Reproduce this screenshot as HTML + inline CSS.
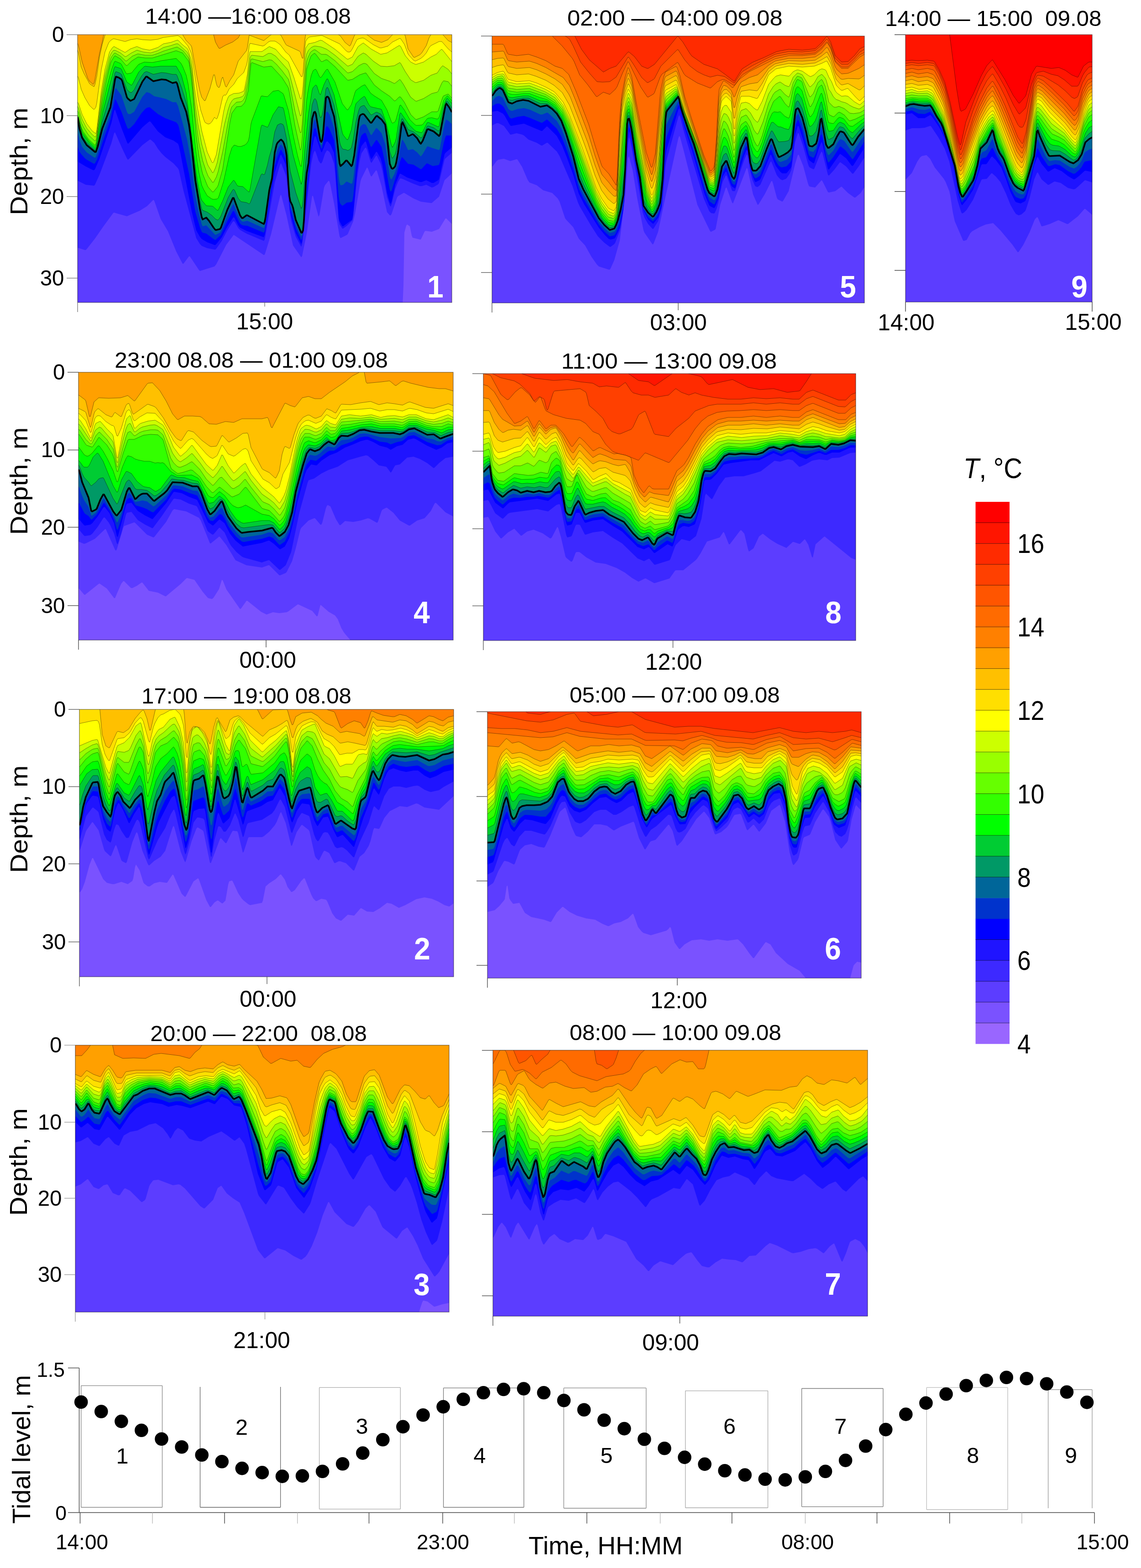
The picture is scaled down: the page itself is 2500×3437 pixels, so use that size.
<!DOCTYPE html><html><head><meta charset="utf-8"><title>Temperature sections</title>
<style>html,body{margin:0;padding:0;background:#fff}svg{display:block}text{font-family:"Liberation Sans", sans-serif;white-space:pre}.c{stroke:#000;stroke-opacity:.45;stroke-width:1}</style></head><body>
<svg width="2500" height="3437" viewBox="0 0 2500 3437">
<rect width="2500" height="3437" fill="#fff"/>
<svg x="170" y="76" width="820" height="587" viewBox="170 76 820 587" overflow="hidden">
<rect x="170.0" y="76.0" width="820.0" height="587.0" fill="#ffa000"/>
<path class="c" d="M164,675 164,95 170,95 172,100 180,136 192,171 196,178 204,185 206,182 208,174 218,117 224,92 228,71 230,68 466,68 472,92 478,103 480,106 482,106 494,99 510,92 522,83 530,68 990,68 996,68 996,675Z" fill="#ffc000"/>
<path class="c" d="M164,675 164,110 170,110 172,116 178,147 184,161 196,183 198,185 206,190 208,185 212,167 218,125 224,97 230,77 236,68 394,68 396,69 408,89 418,99 420,103 432,171 438,200 442,213 448,221 450,220 460,194 468,164 470,164 474,183 476,189 478,191 480,192 482,188 486,172 488,169 494,189 496,191 504,176 512,164 522,134 540,111 542,104 546,77 578,89 594,76 604,73 614,76 616,78 626,97 628,99 656,112 658,114 662,127 664,128 668,86 670,74 676,68 708,68 742,76 746,79 756,93 766,101 768,99 776,79 782,68 784,68 804,76 820,88 836,93 850,87 860,76 876,68 878,69 886,75 888,79 894,107 906,125 908,126 920,120 924,116 934,100 940,83 944,76 960,68 962,68 964,69 982,89 990,93 996,93 996,675Z" fill="#ffdf00"/>
<path class="c" d="M164,675 164,167 170,167 172,171 178,196 186,214 196,231 202,237 206,240 208,238 210,235 212,226 222,152 230,114 238,94 242,89 248,85 250,85 274,91 286,87 300,85 312,87 330,88 346,86 358,82 390,78 396,82 412,101 418,114 420,120 422,131 434,214 440,242 448,266 450,269 456,272 460,271 464,267 470,257 474,261 476,259 480,247 488,212 490,209 492,208 494,209 496,207 502,195 512,185 520,172 534,159 540,143 542,134 546,100 548,95 576,101 580,99 588,92 592,90 602,90 606,92 614,98 626,114 634,121 660,168 662,168 664,159 668,104 670,90 674,84 678,81 702,78 706,78 744,96 758,111 762,114 766,114 768,113 772,107 782,87 786,85 794,83 798,84 818,98 832,105 836,105 850,101 860,92 876,84 878,85 886,97 894,118 896,121 906,132 910,134 922,128 928,123 934,116 940,105 944,100 962,91 968,91 982,107 990,114 996,114 996,675Z" fill="#ffff00"/>
<path class="c" d="M164,675 164,224 170,224 172,227 180,251 190,271 202,287 210,293 212,285 222,199 230,152 240,114 246,105 248,103 250,102 274,115 286,107 300,102 312,107 328,110 346,104 358,96 374,93 388,88 390,88 400,98 410,106 412,109 418,128 420,136 426,190 432,232 442,287 454,333 464,355 466,357 468,355 474,339 490,245 494,228 500,213 502,210 512,205 524,204 534,200 536,194 542,163 546,122 548,113 574,113 590,102 604,108 618,124 632,136 644,170 658,216 660,217 662,208 664,189 668,122 670,105 676,96 690,93 702,88 706,89 734,108 760,129 762,130 772,125 784,103 786,101 796,94 814,108 834,119 848,116 874,100 876,100 878,102 888,122 898,134 900,136 910,141 912,141 928,136 944,125 956,119 966,109 968,108 970,110 990,135 996,135 996,675Z" fill="#ccff00"/>
<path class="c" d="M164,675 164,233 170,233 172,237 180,262 190,281 202,295 208,300 210,300 212,292 222,212 230,165 240,125 244,116 248,111 250,110 254,111 264,116 274,124 276,124 288,116 300,110 314,114 330,116 346,111 358,104 374,100 386,96 390,96 410,114 414,122 420,150 428,231 434,274 442,316 454,358 456,363 466,379 468,377 472,368 476,356 492,272 500,240 504,228 508,221 512,217 518,215 524,214 530,212 534,209 536,204 542,177 548,127 550,122 552,121 576,124 588,117 590,117 594,117 604,123 630,152 632,155 634,161 658,254 660,253 662,240 670,128 672,118 676,110 682,104 688,101 692,101 704,103 716,108 734,121 762,145 772,141 784,124 788,121 796,116 802,119 818,134 834,145 848,146 864,144 876,137 878,139 888,157 898,172 900,175 910,181 912,181 928,176 944,165 958,160 966,148 970,144 982,152 990,162 996,162 996,675Z" fill="#99ff00"/>
<path class="c" d="M164,675 164,243 170,243 172,246 178,268 182,277 192,293 196,298 208,309 210,308 212,299 224,211 232,168 242,130 244,125 250,117 252,116 264,123 276,134 278,133 290,123 302,118 318,121 334,121 346,117 358,112 384,104 388,103 390,104 402,112 410,122 414,129 420,164 428,256 436,314 444,352 452,376 456,386 466,400 468,399 474,388 478,376 488,332 500,266 506,239 508,234 518,224 528,223 530,222 534,218 538,209 544,180 548,141 550,130 552,129 576,135 590,131 596,132 606,141 618,155 630,171 632,174 634,181 646,242 658,291 660,290 662,273 670,151 672,135 674,128 680,115 682,113 688,109 690,109 692,110 704,119 714,119 718,121 734,133 762,160 772,157 786,144 796,139 800,139 804,141 820,161 836,172 854,178 864,183 866,182 876,174 878,176 884,185 898,210 900,213 910,221 912,222 928,216 946,205 958,202 960,200 968,182 970,179 972,177 982,179 990,189 996,189 996,675Z" fill="#66ff00"/>
<path class="c" d="M164,675 164,253 170,253 172,256 178,279 182,288 194,305 208,318 210,315 212,306 224,224 234,172 242,139 244,134 250,124 252,122 264,129 276,143 278,144 288,134 302,125 304,125 318,127 334,127 386,111 400,116 412,132 414,136 416,146 422,198 430,299 436,343 442,373 444,381 454,406 456,410 466,421 468,420 476,410 478,406 488,370 504,267 508,248 518,234 528,233 530,232 536,225 538,220 544,198 550,139 552,137 578,147 594,145 596,146 618,170 630,189 632,193 634,202 646,274 658,329 660,326 662,305 672,151 680,126 682,122 688,117 690,117 692,119 704,135 706,135 714,131 716,131 718,132 734,146 762,176 772,174 788,164 800,160 802,160 820,186 836,199 854,211 864,221 866,221 874,213 876,212 878,213 886,224 900,251 910,261 912,262 928,256 946,245 958,245 960,243 970,213 972,210 982,206 990,215 996,215 996,675Z" fill="#33ff00"/>
<path class="c" d="M164,675 164,254 170,254 172,258 180,289 194,308 208,321 210,319 212,312 224,238 234,191 244,154 250,137 252,134 264,139 266,141 276,160 278,162 288,160 302,143 304,141 316,136 334,137 354,133 386,128 396,138 400,145 408,165 412,183 420,239 428,322 432,354 436,379 442,406 446,415 454,429 464,436 468,437 476,436 478,434 480,429 490,397 502,343 508,324 512,319 514,318 522,321 528,321 536,318 540,315 544,309 546,301 550,271 552,264 572,211 574,210 578,211 586,212 598,200 610,198 620,205 622,209 632,242 642,295 652,341 658,363 660,365 662,351 672,219 676,193 682,165 686,155 690,152 692,152 694,155 700,168 702,170 704,169 714,154 716,152 718,152 734,180 750,227 760,240 762,241 770,229 778,202 780,198 792,189 798,186 800,186 812,204 820,210 836,220 848,241 858,268 860,270 864,268 866,266 868,261 876,231 878,230 886,241 898,262 908,272 912,275 924,274 926,273 936,260 938,259 946,258 958,261 960,260 962,257 964,251 972,220 978,212 980,210 982,211 990,221 996,221 996,675Z" fill="#00ff00"/>
<path class="c" d="M164,675 164,256 170,256 172,260 180,293 194,311 208,325 210,324 212,317 216,300 226,243 250,150 252,146 264,150 266,152 278,180 288,187 290,185 304,158 316,146 318,145 334,147 352,145 384,145 386,145 396,162 398,167 408,204 430,379 434,404 440,434 442,439 452,451 466,452 476,461 478,461 488,440 500,410 510,397 512,395 514,397 520,407 522,408 532,409 544,420 546,421 548,414 572,278 574,274 586,279 588,276 598,252 610,234 620,236 622,241 642,339 660,404 662,397 668,327 676,249 684,197 686,192 692,186 694,188 700,206 702,208 710,185 716,173 718,173 720,177 732,208 750,291 752,296 760,306 762,306 764,302 770,284 778,234 780,227 790,217 798,211 800,213 808,229 812,234 834,239 836,240 846,269 858,320 860,323 866,311 868,304 876,250 878,247 896,273 908,285 912,288 924,291 926,289 936,269 938,268 960,278 962,277 970,238 972,231 978,217 980,215 990,227 996,227 996,675Z" fill="#00cc33"/>
<path class="c" d="M164,675 164,256 170,256 176,284 180,298 188,310 192,314 208,329 210,328 216,307 224,267 242,208 252,160 254,157 262,160 266,163 278,196 284,202 288,203 294,197 302,181 310,167 316,159 320,157 322,157 336,163 354,159 364,160 378,163 386,163 388,166 398,193 408,225 410,235 418,292 430,394 436,430 442,458 444,461 454,465 464,472 472,480 476,482 478,482 480,480 484,474 500,433 510,416 512,415 514,417 522,435 528,442 540,444 546,447 548,445 572,383 574,381 578,383 580,382 586,362 590,344 596,324 602,289 608,274 614,271 616,271 620,273 622,277 628,305 632,348 636,376 648,422 660,457 662,454 664,440 670,354 684,229 688,218 690,216 692,218 694,223 700,252 702,258 704,257 706,252 708,242 714,196 716,192 718,192 720,196 732,231 736,253 744,310 746,318 750,326 752,327 758,328 762,330 766,328 770,324 774,306 780,267 786,242 788,237 790,234 794,232 798,231 812,251 814,252 824,246 826,246 834,250 838,255 844,268 846,276 854,331 858,345 860,347 866,338 868,330 876,277 880,261 882,260 894,284 906,289 922,302 924,302 926,299 936,277 938,276 950,280 960,287 962,287 964,283 972,241 978,222 980,222 982,224 990,237 996,237 996,675Z" fill="#009966"/>
<path d="M164,675 164,257 170,257 174,282 180,302 190,318 202,328 208,333 210,333 214,322 224,282 242,235 252,174 254,168 260,170 266,174 268,178 278,213 280,216 286,221 294,217 312,179 320,168 322,168 336,178 354,174 364,175 378,182 386,180 388,183 390,190 396,214 408,245 414,273 418,301 428,396 438,457 442,476 444,481 452,477 458,484 468,499 472,504 474,504 482,502 484,499 498,460 510,434 512,434 526,472 530,478 532,478 540,472 542,472 578,491 580,486 582,475 590,417 596,391 602,334 606,317 608,313 614,307 616,306 620,310 622,314 626,328 628,341 632,405 634,430 636,441 640,449 642,455 648,482 660,510 662,510 664,505 666,482 670,400 672,379 676,357 684,260 688,246 690,245 692,249 700,298 702,308 704,311 706,307 708,293 714,215 716,212 718,212 720,214 722,219 726,236 732,255 736,282 744,358 746,364 752,359 758,352 760,352 770,364 772,361 776,341 786,264 788,255 790,252 794,250 796,250 798,251 812,269 814,269 824,255 826,254 836,262 844,273 848,300 854,359 858,369 860,370 864,367 866,364 868,357 872,335 880,272 882,268 888,281 894,298 896,298 904,294 906,295 914,303 920,313 922,315 926,309 936,284 938,283 950,288 962,298 964,295 976,231 978,227 984,235 990,246 996,246 996,675Z" fill="#006699"/>
<path d="M164,675 164,290 170,290 174,307 180,322 190,334 206,345 208,346 210,344 216,327 224,298 242,249 252,196 254,193 266,209 278,245 280,249 282,250 286,250 294,245 312,212 320,203 322,202 328,204 338,211 352,214 364,217 378,224 386,224 390,232 410,306 418,352 428,430 434,460 442,492 444,496 452,494 468,511 472,515 482,510 484,507 498,472 510,449 512,448 526,481 530,485 532,486 542,484 578,500 580,496 590,428 596,398 602,348 608,328 614,318 616,317 620,322 622,326 626,339 628,350 634,435 636,449 642,467 648,492 660,518 662,516 664,507 670,417 676,368 682,297 686,273 688,265 690,262 692,266 694,274 700,307 702,315 704,319 706,316 708,304 714,247 716,245 718,245 722,251 732,281 734,296 742,386 744,400 746,406 748,406 752,405 758,399 760,398 770,403 772,401 774,392 786,293 788,282 790,277 794,273 798,272 802,274 812,295 814,296 824,281 826,281 836,292 844,316 854,387 856,392 858,393 864,382 868,371 880,309 882,306 888,316 894,329 904,327 906,328 914,334 922,343 926,338 936,321 938,321 946,324 962,329 964,325 972,282 976,265 978,262 984,266 990,272 996,272 996,675Z" fill="#0033cc"/>
<path d="M164,675 164,322 170,322 174,332 178,338 186,347 190,350 204,358 206,359 208,358 212,351 216,340 224,314 242,262 252,218 254,219 266,245 278,278 280,282 282,282 286,280 294,272 310,248 318,239 322,236 328,235 346,250 362,259 386,268 390,273 392,279 414,380 428,464 438,498 442,508 444,510 452,512 468,524 472,526 484,515 498,485 510,463 512,462 514,465 524,487 528,492 532,494 542,495 578,510 580,506 582,494 602,363 608,344 614,330 616,328 622,339 626,349 628,359 636,457 648,501 660,526 662,522 664,509 670,434 682,316 686,293 688,284 690,280 692,283 700,315 704,326 706,324 714,280 716,277 718,277 722,283 730,302 732,308 734,325 742,431 744,442 746,447 750,451 752,450 760,444 770,443 772,441 774,430 782,350 786,322 790,302 792,297 796,293 800,291 802,293 812,321 814,322 824,307 826,307 836,322 844,358 852,406 854,416 856,420 858,418 870,379 876,356 880,345 882,345 894,359 906,361 922,371 924,370 934,359 936,358 948,364 960,362 962,361 964,355 972,314 976,300 978,297 980,297 990,297 996,297 996,675Z" fill="#0000ff"/>
<path d="M164,675 164,354 170,354 188,365 204,373 206,373 208,371 218,348 244,270 250,243 252,240 266,280 278,311 280,315 282,314 312,279 326,267 328,266 330,267 346,288 362,301 380,308 390,315 392,320 394,329 420,463 430,505 438,519 442,524 454,531 470,537 472,537 474,535 486,520 498,497 510,478 512,476 514,478 522,494 526,499 540,506 578,520 580,515 582,504 600,387 602,377 614,341 616,339 626,360 628,368 634,444 636,465 638,475 648,511 660,535 662,529 664,510 682,334 688,304 690,298 692,300 704,334 706,332 714,312 716,310 718,310 724,317 732,335 734,354 742,477 744,485 750,496 752,496 772,481 774,469 782,379 788,338 790,326 792,320 800,310 802,311 812,346 814,349 824,333 826,333 834,347 838,362 848,423 854,444 856,447 858,442 866,405 876,381 878,381 892,389 920,399 924,399 934,395 946,401 950,401 960,395 962,393 974,338 976,335 990,323 996,323 996,675Z" fill="#1f14ff"/>
<path d="M164,675 164,396 170,396 188,405 206,407 208,405 218,383 244,314 250,292 252,290 268,326 278,347 280,350 282,349 312,318 328,306 330,306 338,313 346,326 354,336 362,344 380,358 390,369 392,373 402,418 430,522 438,535 442,539 454,544 470,547 472,547 474,545 486,528 498,505 510,486 512,485 514,486 522,500 526,504 540,512 578,528 580,525 582,515 602,400 614,360 616,358 626,383 628,391 634,457 638,485 648,519 660,541 662,536 664,520 682,358 686,339 688,333 690,330 692,334 698,352 702,358 704,358 706,355 712,337 716,330 718,330 722,333 726,341 732,359 734,377 742,483 744,492 750,501 752,501 760,495 772,483 774,472 782,394 788,353 792,336 800,324 802,324 804,328 812,355 814,357 824,341 826,342 834,359 838,375 848,432 854,450 856,453 858,448 866,414 872,399 876,392 878,391 884,393 904,402 920,408 924,408 934,405 946,411 950,410 960,404 962,401 974,350 976,347 990,335 996,335 996,675Z" fill="#3d29ff"/>
<path d="M164,675 164,543 170,543 186,548 188,548 190,546 208,523 226,497 248,467 250,466 278,474 306,462 322,452 336,438 338,440 352,480 368,507 386,551 400,578 402,578 414,562 416,562 436,592 438,594 470,584 474,579 496,536 512,515 514,516 578,559 580,558 582,552 594,513 614,429 616,427 628,473 642,538 660,564 662,561 672,512 684,429 686,430 698,475 700,471 710,411 712,406 720,396 722,398 724,406 732,446 744,518 746,522 760,515 762,513 774,485 778,468 790,397 792,391 804,367 806,369 812,385 814,387 824,373 826,375 836,408 848,465 854,472 856,472 858,469 870,433 872,430 884,423 886,423 906,435 922,442 944,445 946,445 962,431 974,395 990,380 996,380 996,675Z" fill="#5c3dff"/>
<path d="M164,675 164,671 170,671 882,671 884,626 886,510 890,495 892,492 898,496 902,516 904,521 920,525 922,525 924,521 930,508 932,506 946,508 962,502 976,479 978,479 990,491 996,491 996,675Z" fill="#7a52ff"/>
<path d="M170,257 174,282 180,302 190,318 202,328 208,333 210,333 214,322 224,282 242,235 252,174 254,168 260,170 266,174 268,178 278,213 280,216 286,221 294,217 312,179 320,168 322,168 336,178 354,174 364,175 378,182 386,180 388,183 390,190 396,214 408,245 414,273 418,301 428,396 438,457 442,476 444,481 452,477 458,484 468,499 472,504 474,504 482,502 484,499 498,460 510,434 512,434 526,472 530,478 532,478 540,472 542,472 578,491 580,486 582,475 590,417 596,391 602,334 606,317 608,313 614,307 616,306 620,310 622,314 626,328 628,341 632,405 634,430 636,441 640,449 642,455 648,482 660,510 662,510 664,505 666,482 670,400 672,379 676,357 684,260 688,246 690,245 692,249 700,298 702,308 704,311 706,307 708,293 714,215 716,212 718,212 720,214 722,219 726,236 732,255 736,282 744,358 746,364 752,359 758,352 760,352 770,364 772,361 776,341 786,264 788,255 790,252 794,250 796,250 798,251 812,269 814,269 824,255 826,254 836,262 844,273 848,300 854,359 858,369 860,370 864,367 866,364 868,357 872,335 880,272 882,268 888,281 894,298 896,298 904,294 906,295 914,303 920,313 922,315 926,309 936,284 938,283 950,288 962,298 964,295 976,231 978,227 984,235 990,246" fill="none" stroke="#000" stroke-width="3.6" stroke-linejoin="round"/>
</svg>
<svg x="1078" y="79" width="816" height="585" viewBox="1078 79 816 585" overflow="hidden">
<rect x="1078.0" y="79.0" width="816.0" height="585.0" fill="#ff2b00"/>
<path class="c" d="M1072,676 1072,71 1078,71 1254,71 1256,72 1274,108 1288,127 1292,132 1322,158 1336,150 1350,145 1376,114 1378,114 1390,124 1406,145 1418,150 1420,150 1434,141 1484,80 1486,80 1496,92 1512,118 1516,123 1542,141 1572,151 1590,164 1608,178 1610,177 1626,151 1650,136 1672,127 1702,113 1728,108 1758,110 1786,107 1800,94 1810,81 1812,80 1814,82 1820,92 1830,122 1844,136 1858,135 1872,122 1884,107 1894,102 1900,102 1900,676Z" fill="#ff4000"/>
<path class="c" d="M1072,676 1072,71 1078,71 1224,71 1234,76 1246,84 1248,86 1256,101 1272,136 1292,161 1308,179 1320,180 1336,179 1350,169 1376,125 1378,126 1388,141 1406,170 1418,181 1420,181 1432,174 1434,172 1448,145 1484,109 1486,109 1500,131 1512,145 1528,157 1542,164 1556,169 1572,165 1584,167 1588,168 1608,182 1610,181 1624,160 1628,156 1650,143 1698,119 1702,118 1728,113 1758,114 1786,111 1800,99 1810,87 1812,86 1814,88 1820,98 1830,128 1844,141 1858,141 1872,128 1884,114 1894,108 1900,108 1900,676Z" fill="#ff5500"/>
<path class="c" d="M1072,676 1072,71 1078,71 1206,71 1212,81 1232,101 1254,128 1258,135 1270,164 1288,186 1306,211 1308,212 1322,202 1336,207 1348,196 1352,190 1364,160 1376,135 1378,137 1404,191 1418,212 1420,213 1432,206 1434,203 1446,170 1450,163 1484,137 1486,138 1498,161 1502,166 1528,182 1556,193 1558,192 1572,179 1584,174 1588,175 1608,187 1610,186 1624,167 1628,163 1670,138 1698,124 1702,123 1728,118 1758,119 1786,116 1800,105 1810,93 1812,92 1814,93 1820,104 1830,134 1844,147 1858,147 1884,120 1894,115 1900,115 1900,676Z" fill="#ff6b00"/>
<path class="c" d="M1072,676 1072,97 1078,97 1102,97 1104,99 1112,117 1114,119 1132,122 1158,119 1176,125 1196,133 1216,145 1232,150 1246,163 1262,200 1290,273 1304,320 1318,362 1320,366 1334,381 1350,406 1352,392 1358,257 1362,211 1370,168 1376,148 1378,150 1384,168 1394,224 1416,334 1426,365 1428,367 1430,363 1436,336 1446,213 1448,196 1454,169 1458,158 1480,146 1482,146 1484,149 1490,167 1500,211 1516,262 1542,340 1556,374 1558,375 1564,367 1566,356 1570,298 1574,212 1576,195 1584,179 1586,177 1596,184 1604,192 1606,192 1620,174 1642,157 1698,129 1728,122 1758,122 1786,119 1800,108 1810,96 1812,94 1814,96 1820,106 1830,136 1844,150 1858,150 1884,125 1894,119 1900,119 1900,676Z" fill="#ff8000"/>
<path class="c" d="M1072,676 1072,114 1078,114 1102,112 1104,113 1112,131 1114,133 1132,136 1160,134 1176,139 1196,148 1234,170 1248,188 1262,222 1290,296 1304,342 1318,381 1320,384 1334,400 1344,413 1350,418 1352,403 1356,306 1362,222 1370,179 1376,160 1378,161 1384,178 1394,235 1416,348 1426,380 1428,383 1430,378 1436,354 1448,215 1450,201 1456,173 1458,168 1480,156 1482,156 1484,159 1490,177 1502,226 1542,345 1554,375 1556,379 1558,380 1564,373 1566,363 1570,311 1574,232 1576,212 1580,197 1584,189 1586,187 1592,189 1602,198 1608,213 1610,211 1620,186 1624,180 1642,170 1660,164 1684,143 1698,134 1702,133 1728,128 1758,128 1786,125 1800,116 1810,105 1812,104 1814,106 1820,117 1830,147 1834,153 1844,162 1856,161 1860,160 1882,150 1894,142 1900,142 1900,676Z" fill="#ffa000"/>
<path class="c" d="M1072,676 1072,131 1078,131 1090,128 1102,127 1104,128 1112,144 1114,146 1132,150 1160,148 1176,153 1196,162 1216,173 1232,185 1246,206 1250,214 1288,313 1304,363 1318,399 1320,402 1334,419 1344,429 1346,430 1350,430 1352,415 1358,284 1362,233 1364,219 1370,191 1376,172 1378,173 1384,188 1416,362 1426,395 1428,398 1430,394 1436,372 1448,234 1450,216 1456,183 1458,178 1480,166 1482,166 1484,169 1490,187 1502,233 1542,349 1554,380 1556,384 1558,384 1564,378 1566,369 1570,323 1576,229 1580,207 1582,202 1586,197 1590,196 1592,196 1602,206 1608,236 1610,235 1616,211 1622,193 1624,190 1642,184 1660,181 1670,170 1684,150 1698,140 1702,139 1728,133 1758,134 1786,132 1800,123 1810,115 1812,114 1820,128 1828,153 1832,162 1842,173 1846,174 1858,172 1882,173 1886,171 1894,165 1900,165 1900,676Z" fill="#ffc000"/>
<path class="c" d="M1072,676 1072,148 1078,148 1090,144 1102,142 1104,143 1112,158 1114,160 1132,164 1158,162 1174,167 1196,176 1214,187 1232,203 1248,231 1278,309 1290,342 1304,385 1318,417 1332,436 1344,446 1346,446 1350,442 1352,426 1358,297 1362,244 1364,230 1370,202 1376,184 1378,185 1382,194 1386,207 1394,256 1404,307 1416,376 1426,410 1428,413 1430,410 1436,390 1450,232 1456,194 1458,188 1480,176 1482,176 1484,179 1492,204 1500,235 1528,311 1544,359 1554,385 1556,388 1558,388 1564,384 1566,376 1570,336 1576,246 1580,216 1582,211 1588,205 1592,204 1602,214 1608,259 1610,259 1616,227 1622,204 1624,200 1642,197 1658,199 1660,198 1670,183 1684,157 1698,146 1702,144 1728,139 1758,141 1786,138 1800,131 1810,125 1812,124 1820,138 1832,174 1842,185 1844,186 1846,186 1858,183 1882,197 1884,197 1886,196 1894,188 1900,188 1900,676Z" fill="#ffdf00"/>
<path class="c" d="M1072,676 1072,165 1078,165 1090,159 1102,156 1104,157 1112,172 1114,174 1132,179 1160,177 1176,182 1196,191 1214,201 1218,205 1234,224 1248,253 1276,325 1306,411 1318,435 1332,455 1334,457 1344,462 1346,461 1350,454 1352,438 1358,310 1362,255 1364,241 1370,213 1376,196 1378,197 1384,209 1386,218 1394,267 1406,329 1416,390 1426,425 1428,428 1430,426 1434,415 1436,408 1438,393 1444,330 1450,248 1456,204 1458,198 1480,186 1482,186 1484,189 1500,243 1528,316 1544,363 1554,390 1556,393 1558,393 1564,389 1566,382 1570,348 1578,241 1580,226 1582,220 1590,212 1592,212 1602,222 1608,282 1610,283 1616,243 1622,215 1624,211 1642,211 1658,216 1660,215 1670,197 1684,164 1700,151 1728,145 1758,147 1784,145 1800,139 1810,134 1812,134 1820,149 1832,186 1834,189 1842,197 1844,198 1846,198 1856,194 1858,194 1874,212 1882,220 1884,221 1894,211 1900,211 1900,676Z" fill="#ffff00"/>
<path class="c" d="M1072,676 1072,170 1078,170 1090,163 1102,162 1104,163 1112,178 1114,180 1132,184 1160,182 1176,188 1196,196 1214,207 1218,210 1234,231 1248,260 1276,334 1306,418 1318,442 1332,462 1334,464 1344,468 1346,466 1350,459 1352,445 1358,334 1362,279 1364,261 1370,226 1372,217 1376,205 1378,205 1384,219 1416,399 1426,432 1428,435 1430,432 1434,422 1436,416 1438,403 1444,344 1450,262 1456,215 1458,207 1460,204 1480,191 1482,190 1484,193 1500,245 1528,318 1552,388 1556,396 1564,394 1566,388 1570,357 1578,259 1580,245 1584,235 1588,231 1590,231 1592,231 1602,246 1608,298 1610,297 1616,257 1622,231 1624,226 1634,224 1642,227 1652,237 1658,241 1660,241 1670,222 1684,185 1694,173 1700,167 1710,164 1728,167 1730,166 1738,157 1744,154 1748,153 1758,156 1772,166 1776,168 1784,164 1794,154 1800,151 1802,151 1808,153 1810,155 1816,169 1822,179 1830,199 1834,204 1844,211 1852,210 1858,211 1872,223 1882,229 1884,230 1886,228 1894,221 1900,221 1900,676Z" fill="#ccff00"/>
<path class="c" d="M1072,676 1072,175 1078,175 1090,168 1100,166 1102,167 1104,170 1112,185 1114,186 1132,190 1160,188 1194,201 1216,214 1232,234 1246,262 1306,425 1318,449 1332,468 1334,470 1344,474 1346,472 1350,464 1352,453 1364,281 1370,238 1372,227 1376,214 1378,214 1384,228 1394,289 1404,339 1416,408 1426,439 1428,442 1430,439 1436,424 1438,413 1444,359 1450,277 1456,225 1458,215 1460,211 1480,195 1482,195 1484,198 1500,247 1528,320 1552,392 1556,399 1564,399 1566,393 1572,347 1578,278 1580,264 1582,257 1586,249 1588,249 1592,251 1596,257 1602,271 1608,314 1610,312 1616,272 1622,246 1624,242 1632,239 1634,238 1636,239 1644,247 1652,261 1658,267 1660,268 1662,265 1672,242 1684,206 1694,190 1700,184 1708,180 1710,180 1720,187 1728,190 1730,188 1738,169 1746,161 1748,160 1756,163 1758,164 1772,187 1774,190 1776,190 1784,182 1792,168 1800,163 1802,164 1808,171 1810,175 1816,196 1820,201 1826,212 1832,218 1838,220 1844,223 1852,225 1858,228 1862,231 1870,235 1882,239 1886,237 1894,231 1900,231 1900,676Z" fill="#99ff00"/>
<path class="c" d="M1072,676 1072,180 1078,180 1090,172 1100,171 1102,173 1112,191 1114,193 1132,196 1160,194 1196,207 1216,220 1232,240 1246,269 1306,433 1318,457 1332,475 1334,476 1344,479 1346,477 1350,469 1352,461 1366,281 1372,237 1376,224 1378,222 1384,238 1386,248 1394,299 1416,417 1426,446 1428,448 1430,446 1436,432 1440,408 1444,374 1452,270 1458,223 1460,218 1480,200 1482,199 1484,202 1500,249 1514,284 1528,322 1552,395 1554,400 1556,403 1558,403 1564,403 1566,398 1572,358 1578,296 1580,283 1584,269 1586,265 1590,268 1594,274 1602,295 1608,330 1610,326 1616,287 1622,262 1624,257 1632,253 1634,252 1636,253 1644,265 1652,285 1658,293 1660,294 1662,291 1672,267 1684,227 1694,207 1698,202 1708,196 1710,196 1720,207 1728,213 1730,210 1738,181 1746,168 1748,167 1756,170 1758,173 1774,212 1776,212 1782,205 1792,181 1794,179 1800,174 1802,176 1808,189 1816,224 1826,234 1828,235 1832,235 1838,233 1850,238 1862,248 1870,249 1884,247 1894,241 1900,241 1900,676Z" fill="#66ff00"/>
<path class="c" d="M1072,676 1072,185 1078,185 1090,176 1100,176 1102,178 1112,197 1114,199 1132,202 1160,200 1196,212 1216,225 1232,246 1246,276 1290,399 1306,440 1318,464 1332,481 1334,483 1344,485 1346,483 1352,469 1354,456 1366,298 1372,248 1376,233 1378,231 1384,248 1386,258 1394,310 1416,425 1426,452 1428,455 1430,453 1436,441 1440,420 1446,365 1452,283 1458,232 1460,226 1480,205 1482,203 1484,206 1500,251 1516,291 1528,324 1552,399 1554,404 1556,406 1564,408 1566,404 1572,369 1580,302 1584,286 1586,282 1588,283 1592,290 1596,299 1602,320 1608,345 1610,340 1616,301 1622,277 1624,273 1632,267 1634,266 1636,268 1642,278 1652,308 1658,319 1660,320 1662,318 1670,298 1684,248 1694,224 1696,221 1708,211 1710,212 1720,227 1728,235 1730,231 1738,193 1746,175 1748,174 1756,178 1758,181 1766,209 1774,233 1776,234 1782,224 1792,195 1794,191 1800,186 1802,189 1808,207 1814,244 1816,251 1826,256 1828,255 1836,247 1838,246 1840,246 1850,252 1860,264 1862,265 1874,261 1894,251 1900,251 1900,676Z" fill="#33ff00"/>
<path class="c" d="M1072,676 1072,191 1078,191 1090,181 1094,180 1100,181 1102,183 1112,203 1114,205 1122,207 1130,207 1148,205 1160,205 1184,214 1198,218 1216,230 1232,252 1246,285 1270,356 1290,408 1306,447 1318,469 1324,477 1334,488 1342,489 1344,489 1346,487 1348,483 1352,474 1354,462 1372,264 1374,247 1376,240 1378,238 1384,257 1394,321 1414,426 1418,440 1426,457 1428,459 1430,458 1432,455 1436,448 1438,441 1444,404 1458,239 1460,231 1462,228 1482,207 1484,208 1486,212 1500,254 1520,305 1552,404 1554,409 1556,411 1564,413 1566,410 1572,381 1580,320 1584,305 1586,301 1588,301 1590,303 1594,310 1608,357 1610,353 1616,316 1622,290 1624,285 1634,275 1636,276 1638,281 1650,321 1656,330 1658,332 1660,333 1664,326 1670,312 1684,265 1692,248 1696,245 1704,246 1708,245 1710,245 1720,255 1728,259 1730,256 1734,239 1742,200 1744,194 1746,191 1748,190 1750,191 1756,197 1758,201 1770,244 1774,255 1776,256 1782,248 1798,206 1800,204 1802,209 1808,232 1814,264 1816,269 1826,271 1836,259 1840,257 1848,260 1850,262 1860,275 1862,276 1868,277 1894,259 1900,259 1900,676Z" fill="#00ff00"/>
<path class="c" d="M1072,676 1072,197 1078,197 1088,187 1092,185 1096,185 1100,186 1102,188 1112,209 1114,212 1116,213 1122,214 1146,210 1158,210 1184,221 1198,222 1210,230 1218,237 1230,255 1238,272 1254,317 1268,365 1280,395 1304,449 1320,478 1332,491 1334,493 1338,494 1344,493 1346,492 1352,478 1354,469 1368,344 1374,255 1376,247 1378,245 1382,258 1386,278 1394,331 1402,370 1410,422 1418,448 1428,464 1430,464 1432,461 1438,449 1444,420 1452,337 1458,247 1460,236 1462,233 1482,210 1484,210 1486,212 1488,217 1500,256 1522,314 1552,410 1554,414 1556,415 1564,419 1566,417 1570,402 1580,337 1584,324 1586,320 1590,320 1592,322 1594,326 1608,369 1610,365 1616,330 1622,303 1624,298 1634,284 1636,285 1638,291 1644,320 1650,338 1656,345 1658,346 1660,346 1664,340 1668,331 1682,288 1690,269 1692,268 1694,268 1704,277 1706,278 1710,278 1720,282 1728,284 1730,280 1734,268 1742,217 1744,209 1746,206 1748,205 1750,207 1756,215 1758,220 1772,272 1774,277 1776,277 1780,274 1786,265 1790,255 1798,225 1800,223 1814,284 1816,288 1826,286 1836,271 1840,268 1842,268 1850,272 1860,286 1866,290 1868,291 1886,273 1894,267 1900,267 1900,676Z" fill="#00cc33"/>
<path class="c" d="M1072,676 1072,204 1078,204 1088,192 1092,189 1096,189 1100,191 1102,193 1112,214 1114,218 1116,219 1122,220 1132,217 1146,215 1158,215 1184,227 1196,227 1200,228 1210,235 1220,244 1230,260 1240,285 1256,333 1268,378 1278,403 1302,453 1312,471 1324,488 1336,499 1344,497 1346,496 1348,493 1352,483 1356,464 1362,425 1368,375 1374,263 1376,254 1378,253 1380,258 1384,276 1394,342 1402,379 1410,437 1418,456 1426,467 1430,469 1432,468 1438,457 1444,436 1446,425 1452,365 1458,254 1460,241 1462,237 1480,215 1484,212 1486,212 1488,217 1492,234 1498,253 1520,312 1546,398 1552,415 1554,419 1564,425 1566,423 1570,412 1580,355 1584,343 1586,339 1590,336 1592,337 1596,347 1604,372 1608,380 1610,377 1612,368 1618,334 1622,316 1624,310 1634,292 1636,293 1638,301 1644,339 1648,352 1650,356 1656,359 1660,358 1666,350 1682,305 1690,287 1692,287 1694,290 1702,305 1706,311 1720,310 1728,308 1730,305 1734,296 1742,234 1744,225 1746,222 1748,221 1750,223 1758,239 1766,268 1772,295 1774,298 1778,298 1782,296 1788,288 1794,265 1798,243 1800,241 1810,292 1814,304 1816,306 1826,301 1836,283 1840,278 1842,278 1848,280 1850,282 1860,297 1866,303 1868,304 1884,285 1894,275 1900,275 1900,676Z" fill="#009966"/>
<path d="M1072,676 1072,210 1078,210 1080,208 1086,199 1092,194 1094,193 1096,193 1100,196 1102,198 1112,220 1114,224 1116,225 1122,227 1132,222 1146,219 1158,221 1184,234 1198,231 1200,232 1210,239 1220,249 1230,265 1240,292 1256,343 1268,392 1278,415 1312,478 1324,493 1336,504 1346,501 1350,493 1354,482 1360,459 1366,427 1370,370 1374,272 1376,261 1378,260 1380,265 1384,285 1394,352 1402,389 1410,451 1420,466 1430,475 1432,474 1438,465 1442,456 1446,445 1448,432 1452,392 1458,262 1460,246 1462,242 1486,212 1488,217 1492,236 1496,249 1508,284 1520,315 1550,415 1554,423 1564,430 1566,430 1568,426 1572,415 1582,365 1590,353 1592,353 1594,358 1604,387 1608,392 1610,389 1612,382 1622,329 1624,323 1634,301 1636,302 1638,311 1644,357 1648,371 1650,374 1656,374 1658,373 1666,364 1680,326 1688,307 1690,305 1692,307 1702,335 1706,344 1708,344 1718,339 1726,334 1732,328 1734,324 1736,311 1742,251 1744,240 1748,237 1750,239 1758,258 1766,288 1772,317 1774,320 1780,321 1788,315 1790,309 1794,289 1798,262 1800,260 1810,317 1814,324 1816,324 1826,316 1834,299 1840,289 1842,288 1848,290 1850,292 1860,308 1866,317 1868,318 1870,316 1880,300 1894,283 1900,283 1900,676Z" fill="#006699"/>
<path d="M1072,676 1072,222 1078,222 1086,213 1090,211 1094,210 1100,213 1102,215 1114,239 1118,242 1122,243 1134,239 1148,237 1160,240 1184,251 1188,251 1198,247 1200,247 1208,254 1220,265 1230,282 1240,308 1256,356 1268,403 1278,425 1312,485 1324,500 1336,511 1346,508 1348,506 1358,478 1364,450 1368,418 1374,291 1376,275 1378,269 1380,274 1382,283 1394,357 1400,385 1410,455 1420,471 1430,480 1432,479 1440,467 1444,458 1446,452 1450,427 1454,373 1458,289 1460,274 1462,269 1486,222 1488,224 1500,268 1520,324 1546,413 1554,432 1564,439 1566,438 1568,435 1572,424 1582,374 1584,370 1590,361 1592,361 1594,366 1604,394 1608,399 1610,397 1612,392 1622,342 1634,311 1636,310 1638,318 1644,361 1646,369 1650,379 1654,382 1656,382 1658,381 1664,376 1666,374 1682,332 1688,318 1690,316 1692,319 1702,346 1706,353 1710,355 1716,353 1724,350 1728,346 1734,338 1742,266 1744,256 1748,250 1750,251 1758,272 1766,301 1772,328 1774,331 1778,332 1782,333 1788,325 1794,301 1798,280 1800,277 1810,329 1814,339 1816,340 1826,330 1836,311 1840,306 1842,305 1850,309 1866,332 1868,333 1870,331 1886,307 1894,297 1900,297 1900,676Z" fill="#0033cc"/>
<path d="M1072,676 1072,233 1078,233 1086,228 1090,227 1094,227 1100,231 1104,235 1116,257 1120,260 1134,256 1148,254 1160,258 1186,269 1188,269 1198,262 1200,263 1220,282 1230,299 1240,324 1256,370 1268,413 1278,434 1312,492 1324,507 1336,518 1346,516 1350,510 1358,489 1366,449 1368,429 1374,311 1376,288 1378,278 1380,282 1382,292 1392,352 1400,392 1408,450 1410,458 1420,476 1430,485 1432,484 1440,474 1444,465 1450,440 1452,419 1458,316 1460,302 1486,231 1488,230 1500,274 1520,333 1544,416 1554,441 1564,448 1566,447 1572,433 1582,384 1584,378 1590,368 1592,369 1604,402 1608,405 1610,405 1612,401 1622,355 1632,326 1636,319 1638,324 1646,374 1650,384 1654,390 1656,391 1658,390 1664,386 1666,383 1688,329 1690,328 1700,353 1706,363 1712,367 1722,365 1724,364 1732,355 1734,351 1742,281 1744,272 1748,263 1750,264 1758,286 1772,339 1774,342 1782,346 1784,344 1788,335 1798,297 1800,294 1802,300 1810,342 1814,355 1816,356 1826,344 1840,322 1842,321 1852,329 1866,347 1868,349 1870,347 1894,310 1900,310 1900,676Z" fill="#0000ff"/>
<path d="M1072,676 1072,245 1078,245 1090,243 1102,249 1106,254 1116,272 1118,275 1120,276 1148,271 1174,282 1186,287 1188,287 1198,277 1200,278 1220,298 1232,320 1242,345 1256,383 1268,424 1280,448 1312,499 1326,516 1334,524 1338,525 1346,523 1348,521 1358,500 1366,460 1368,440 1374,330 1376,302 1378,287 1380,291 1382,301 1398,388 1408,455 1410,461 1420,481 1430,490 1432,490 1442,477 1450,452 1458,343 1460,330 1486,241 1488,237 1490,241 1500,280 1516,329 1544,426 1554,450 1556,452 1564,456 1566,455 1568,451 1574,436 1582,393 1584,386 1590,376 1592,377 1602,406 1604,409 1610,413 1612,410 1622,368 1630,342 1636,328 1638,331 1646,378 1654,398 1656,399 1664,395 1666,393 1688,339 1690,340 1700,364 1710,377 1714,380 1722,380 1724,379 1732,369 1734,365 1742,296 1748,276 1750,277 1760,307 1770,344 1772,350 1774,352 1782,358 1784,357 1794,325 1800,311 1802,315 1814,370 1816,372 1840,338 1842,338 1854,347 1866,363 1868,364 1870,362 1894,324 1900,324 1900,676Z" fill="#1f14ff"/>
<path d="M1072,676 1072,275 1078,275 1088,270 1092,270 1104,276 1118,295 1120,295 1132,292 1144,295 1148,297 1158,306 1176,313 1186,319 1188,319 1198,313 1200,313 1220,332 1226,342 1254,407 1266,443 1270,452 1294,493 1310,518 1324,532 1336,541 1338,541 1346,535 1348,532 1358,506 1360,498 1366,461 1368,441 1374,340 1376,314 1378,301 1380,305 1384,324 1400,414 1408,465 1412,477 1420,491 1430,502 1432,501 1442,485 1450,457 1458,365 1460,353 1486,257 1488,252 1490,256 1500,294 1542,435 1554,463 1558,467 1564,468 1566,467 1570,458 1574,444 1582,404 1584,397 1590,385 1592,385 1604,418 1606,419 1610,419 1612,415 1622,376 1630,352 1636,338 1638,341 1644,376 1648,393 1654,407 1656,409 1660,410 1666,405 1688,355 1690,354 1700,379 1702,384 1706,389 1710,393 1714,395 1722,392 1724,390 1730,381 1734,372 1742,312 1748,292 1750,292 1752,298 1760,321 1770,358 1772,364 1774,367 1782,371 1784,370 1796,340 1800,332 1802,335 1814,383 1816,385 1828,372 1840,356 1842,356 1854,365 1866,379 1868,381 1870,380 1882,364 1894,345 1900,345 1900,676Z" fill="#3d29ff"/>
<path d="M1072,676 1072,365 1078,365 1080,364 1088,353 1092,350 1104,348 1118,353 1132,349 1134,350 1144,366 1156,394 1160,400 1176,406 1190,417 1210,423 1222,435 1226,442 1238,478 1240,481 1256,498 1268,523 1282,538 1296,563 1308,580 1312,584 1334,591 1336,591 1338,588 1346,570 1358,527 1370,426 1376,347 1378,342 1386,372 1396,434 1410,505 1412,510 1430,536 1432,534 1442,508 1456,441 1486,304 1488,298 1490,300 1498,330 1528,449 1556,507 1558,508 1566,504 1568,502 1578,449 1590,412 1592,411 1604,444 1606,446 1636,368 1638,370 1650,426 1660,449 1662,448 1676,425 1690,397 1692,397 1694,403 1702,433 1704,437 1714,442 1716,440 1728,419 1742,360 1748,340 1750,339 1760,364 1770,401 1772,407 1774,409 1786,411 1800,395 1802,397 1814,421 1816,422 1830,419 1842,410 1844,409 1858,423 1872,433 1874,433 1886,423 1894,410 1900,410 1900,676Z" fill="#5c3dff"/>
<path d="M1078,210 1080,208 1086,199 1092,194 1094,193 1096,193 1100,196 1102,198 1112,220 1114,224 1116,225 1122,227 1132,222 1146,219 1158,221 1184,234 1198,231 1200,232 1210,239 1220,249 1230,265 1240,292 1256,343 1268,392 1278,415 1312,478 1324,493 1336,504 1346,501 1350,493 1354,482 1360,459 1366,427 1370,370 1374,272 1376,261 1378,260 1380,265 1384,285 1394,352 1402,389 1410,451 1420,466 1430,475 1432,474 1438,465 1442,456 1446,445 1448,432 1452,392 1458,262 1460,246 1462,242 1486,212 1488,217 1492,236 1496,249 1508,284 1520,315 1550,415 1554,423 1564,430 1566,430 1568,426 1572,415 1582,365 1590,353 1592,353 1594,358 1604,387 1608,392 1610,389 1612,382 1622,329 1624,323 1634,301 1636,302 1638,311 1644,357 1648,371 1650,374 1656,374 1658,373 1666,364 1680,326 1688,307 1690,305 1692,307 1702,335 1706,344 1708,344 1718,339 1726,334 1732,328 1734,324 1736,311 1742,251 1744,240 1748,237 1750,239 1758,258 1766,288 1772,317 1774,320 1780,321 1788,315 1790,309 1794,289 1798,262 1800,260 1810,317 1814,324 1816,324 1826,316 1834,299 1840,289 1842,288 1848,290 1850,292 1860,308 1866,317 1868,318 1870,316 1880,300 1894,283" fill="none" stroke="#000" stroke-width="3.6" stroke-linejoin="round"/>
</svg>
<svg x="1984" y="76" width="409" height="586" viewBox="1984 76 409 586" overflow="hidden">
<rect x="1984.0" y="76.0" width="409.0" height="586.0" fill="#ff0000"/>
<path class="c" d="M1978,674 1978,68 1984,68 2078,68 2080,70 2096,194 2102,231 2104,241 2106,244 2114,240 2116,238 2132,207 2150,166 2162,144 2174,131 2176,133 2202,175 2220,209 2232,226 2234,226 2246,212 2248,208 2260,163 2270,146 2272,145 2304,150 2320,148 2334,154 2348,164 2360,169 2362,169 2374,145 2384,137 2386,136 2393,136 2399,136 2399,674Z" fill="#ff1500"/>
<path class="c" d="M1978,674 1978,133 1984,133 1998,132 2012,133 2032,132 2046,134 2048,136 2058,153 2070,180 2082,225 2098,299 2102,314 2104,318 2106,314 2116,268 2134,220 2148,186 2160,163 2164,157 2174,146 2176,147 2188,166 2204,195 2220,229 2232,249 2234,250 2246,238 2248,234 2260,185 2270,161 2272,159 2286,156 2304,163 2318,166 2332,175 2348,189 2360,189 2362,188 2364,185 2372,166 2376,159 2386,147 2393,146 2399,146 2399,674Z" fill="#ff2b00"/>
<path class="c" d="M1978,674 1978,139 1984,139 1998,137 2012,139 2032,137 2046,139 2048,141 2058,158 2070,187 2082,232 2098,309 2104,329 2106,327 2116,290 2132,242 2146,208 2162,177 2174,162 2176,163 2190,187 2204,215 2218,248 2230,273 2234,278 2238,279 2240,279 2242,277 2248,262 2258,209 2264,184 2266,178 2272,166 2276,165 2286,167 2318,186 2334,199 2348,213 2354,216 2360,213 2362,210 2372,181 2382,164 2386,161 2393,158 2399,158 2399,674Z" fill="#ff4000"/>
<path class="c" d="M1978,674 1978,144 1984,144 1998,142 2012,144 2032,142 2046,144 2048,146 2058,164 2070,194 2082,240 2098,319 2104,339 2106,339 2110,330 2132,260 2146,225 2162,193 2174,178 2176,179 2186,196 2202,231 2230,301 2238,313 2240,315 2242,312 2248,290 2264,193 2266,185 2272,173 2274,171 2286,177 2304,193 2338,226 2352,243 2354,244 2362,233 2372,197 2380,181 2384,175 2393,171 2399,171 2399,674Z" fill="#ff5500"/>
<path class="c" d="M1978,674 1978,153 1984,153 1998,150 2012,153 2032,150 2044,153 2048,156 2058,175 2070,204 2080,241 2098,328 2104,348 2106,348 2110,340 2132,270 2146,235 2162,204 2174,189 2176,189 2190,216 2204,247 2230,312 2238,324 2240,325 2242,322 2248,301 2264,202 2266,194 2272,181 2274,179 2276,179 2286,185 2306,204 2332,230 2352,253 2354,254 2358,250 2362,243 2372,207 2380,190 2384,184 2393,178 2399,178 2399,674Z" fill="#ff6b00"/>
<path class="c" d="M1978,674 1978,161 1984,161 1998,158 2012,162 2032,159 2044,163 2048,167 2060,189 2070,215 2082,260 2098,338 2102,353 2104,357 2106,356 2110,349 2132,281 2146,245 2162,214 2168,206 2174,199 2176,200 2178,204 2188,222 2204,260 2228,320 2232,327 2238,335 2240,336 2246,320 2248,312 2264,212 2266,204 2272,188 2274,187 2276,187 2286,194 2332,239 2352,263 2354,264 2356,263 2358,261 2362,254 2372,217 2380,199 2384,192 2393,186 2399,186 2399,674Z" fill="#ff8000"/>
<path class="c" d="M1978,674 1978,169 1984,169 1998,166 2012,170 2032,168 2044,172 2048,177 2060,200 2070,225 2082,270 2098,347 2102,362 2104,366 2106,365 2110,359 2124,315 2146,255 2162,224 2168,216 2174,210 2176,211 2178,214 2188,233 2228,332 2238,346 2240,346 2246,331 2248,323 2264,222 2266,213 2272,196 2274,194 2284,200 2300,217 2332,249 2348,269 2354,275 2356,274 2358,272 2362,264 2372,227 2382,204 2386,198 2393,194 2399,194 2399,674Z" fill="#ffa000"/>
<path class="c" d="M1978,674 1978,177 1984,177 1998,174 2012,179 2032,176 2042,180 2046,183 2060,210 2066,223 2070,235 2082,280 2098,356 2102,372 2104,375 2106,374 2110,368 2122,331 2146,265 2162,235 2168,227 2174,221 2176,222 2178,225 2188,245 2226,340 2230,347 2238,357 2240,356 2242,352 2248,334 2264,232 2266,222 2272,203 2274,202 2284,208 2300,227 2334,261 2352,283 2354,285 2356,285 2358,283 2364,269 2372,238 2380,217 2386,206 2393,201 2399,201 2399,674Z" fill="#ffc000"/>
<path class="c" d="M1978,674 1978,185 1984,185 1998,183 2012,187 2032,185 2042,189 2046,193 2060,220 2068,238 2080,281 2098,365 2102,381 2104,384 2108,381 2110,378 2122,340 2146,275 2156,255 2162,245 2168,237 2174,232 2176,233 2178,235 2188,256 2216,329 2226,352 2230,359 2238,368 2240,367 2242,363 2248,345 2264,241 2266,231 2272,211 2274,210 2282,214 2300,236 2334,270 2350,291 2354,295 2356,296 2358,294 2364,280 2374,241 2382,221 2386,214 2393,209 2399,209 2399,674Z" fill="#ffdf00"/>
<path class="c" d="M1978,674 1978,193 1984,193 1998,191 2014,196 2032,194 2042,198 2046,203 2068,248 2080,291 2098,374 2102,390 2104,393 2110,387 2122,350 2132,325 2146,285 2156,265 2166,250 2174,243 2176,243 2178,246 2188,267 2216,342 2226,365 2230,371 2238,379 2240,377 2246,363 2248,356 2256,309 2264,251 2266,240 2272,219 2274,217 2282,222 2300,246 2332,278 2348,299 2356,307 2358,305 2364,291 2374,251 2384,225 2386,222 2393,217 2399,217 2399,674Z" fill="#ffff00"/>
<path class="c" d="M1978,674 1978,199 1984,199 1998,196 2012,201 2032,199 2042,204 2044,206 2064,245 2068,255 2080,297 2100,386 2102,394 2104,397 2108,396 2112,389 2122,360 2134,330 2146,293 2156,273 2166,257 2174,250 2176,250 2178,253 2188,275 2214,344 2222,363 2228,374 2238,383 2240,383 2242,379 2248,363 2256,319 2266,251 2272,227 2274,226 2282,232 2300,256 2332,285 2348,306 2356,313 2358,311 2364,298 2376,252 2386,230 2393,225 2399,225 2399,674Z" fill="#ccff00"/>
<path class="c" d="M1978,674 1978,205 1984,205 1998,202 2012,205 2032,204 2042,210 2044,212 2064,251 2068,261 2078,296 2086,327 2100,390 2102,397 2104,401 2106,403 2108,403 2112,396 2134,341 2146,301 2156,281 2166,264 2174,257 2176,257 2178,260 2198,309 2214,352 2222,370 2228,380 2238,388 2240,388 2244,382 2250,362 2258,318 2266,261 2272,236 2274,235 2280,240 2304,271 2332,292 2348,312 2356,320 2358,318 2364,305 2376,260 2384,242 2386,239 2393,234 2399,234 2399,674Z" fill="#99ff00"/>
<path class="c" d="M1978,674 1978,210 1984,210 1998,208 2012,210 2032,210 2040,214 2044,218 2062,252 2066,262 2076,295 2086,332 2100,394 2104,405 2106,408 2108,409 2116,396 2134,353 2146,308 2156,289 2166,272 2174,263 2176,263 2178,267 2210,350 2222,378 2232,390 2238,393 2240,393 2242,393 2244,390 2248,378 2252,361 2258,330 2266,272 2272,245 2274,244 2282,252 2294,269 2304,282 2332,300 2348,319 2356,326 2358,324 2364,312 2372,280 2376,267 2384,250 2386,247 2393,242 2399,242 2399,674Z" fill="#66ff00"/>
<path class="c" d="M1978,674 1978,216 1984,216 1998,214 2012,215 2032,215 2040,220 2044,225 2062,258 2066,268 2076,301 2092,359 2100,398 2106,414 2108,415 2116,405 2134,364 2146,316 2166,279 2174,270 2176,270 2178,274 2210,358 2220,381 2224,388 2232,396 2242,399 2244,397 2250,378 2258,342 2266,282 2272,254 2274,253 2280,260 2294,280 2304,292 2306,294 2320,300 2332,307 2348,325 2356,333 2358,331 2364,319 2372,287 2376,275 2384,259 2386,256 2393,251 2399,251 2399,674Z" fill="#33ff00"/>
<path class="c" d="M1978,674 1978,220 1984,220 2000,217 2014,219 2032,219 2038,222 2044,228 2062,261 2066,271 2076,303 2092,360 2100,401 2106,418 2108,419 2116,409 2134,370 2146,321 2148,316 2168,282 2174,274 2176,274 2186,304 2198,331 2212,369 2220,386 2224,392 2232,400 2242,404 2244,402 2250,382 2258,349 2272,262 2274,261 2294,293 2304,305 2320,310 2332,317 2350,335 2356,338 2358,337 2364,326 2374,291 2378,281 2386,268 2393,263 2399,263 2399,674Z" fill="#00ff00"/>
<path class="c" d="M1978,674 1978,225 1984,225 1994,222 2000,221 2014,223 2032,223 2038,225 2044,232 2052,248 2062,264 2066,274 2076,305 2092,361 2100,403 2104,416 2106,421 2108,423 2110,422 2116,413 2134,377 2140,355 2148,319 2162,299 2174,278 2176,279 2186,311 2198,336 2212,374 2220,391 2224,397 2232,404 2242,409 2244,406 2248,394 2258,355 2266,312 2272,271 2274,269 2292,304 2300,315 2306,318 2320,320 2324,322 2334,328 2348,341 2354,344 2356,344 2358,342 2364,333 2378,292 2386,280 2393,276 2399,276 2399,674Z" fill="#00cc33"/>
<path class="c" d="M1978,674 1978,229 1984,229 1992,226 2000,224 2014,227 2036,227 2040,230 2044,236 2052,251 2062,267 2066,276 2076,307 2092,362 2100,406 2104,420 2108,427 2110,426 2116,418 2134,384 2140,363 2148,322 2162,306 2174,282 2176,284 2182,306 2188,324 2198,342 2212,380 2220,397 2224,402 2230,407 2242,413 2244,411 2252,384 2266,327 2272,279 2274,278 2292,317 2300,328 2306,330 2322,331 2334,338 2346,347 2352,351 2356,350 2358,348 2364,341 2370,327 2376,306 2378,302 2386,293 2393,288 2399,288 2399,674Z" fill="#009966"/>
<path d="M1978,674 1978,233 1984,233 1994,229 2002,228 2012,230 2026,232 2038,231 2042,236 2052,255 2062,270 2066,279 2092,363 2100,408 2104,423 2108,431 2110,431 2116,422 2132,396 2134,391 2142,361 2148,326 2162,312 2174,286 2176,288 2180,306 2186,326 2190,335 2198,347 2200,351 2212,385 2220,402 2224,407 2230,412 2242,418 2244,415 2246,409 2266,342 2272,288 2274,286 2278,298 2292,330 2298,341 2300,342 2302,342 2322,341 2344,355 2352,358 2362,351 2370,338 2378,312 2386,305 2393,301 2399,301 2399,674Z" fill="#006699"/>
<path d="M1978,674 1978,239 1984,239 1998,235 2002,236 2014,240 2026,241 2038,238 2044,246 2064,279 2072,301 2090,361 2100,415 2104,429 2106,435 2108,437 2110,436 2118,425 2132,402 2134,397 2142,370 2148,339 2152,334 2160,330 2162,328 2174,305 2176,307 2180,321 2186,336 2200,362 2212,395 2220,412 2226,420 2232,424 2238,426 2242,426 2244,424 2250,407 2266,349 2272,307 2274,306 2282,324 2292,344 2298,352 2300,353 2312,351 2322,352 2344,366 2352,369 2354,369 2360,365 2366,358 2370,352 2376,336 2378,333 2386,328 2393,326 2399,326 2399,674Z" fill="#0033cc"/>
<path d="M1978,674 1978,245 1984,245 1998,242 2012,249 2026,250 2038,245 2044,252 2058,274 2064,285 2070,299 2082,336 2090,367 2100,421 2106,441 2108,444 2118,431 2132,409 2140,385 2148,353 2150,349 2152,347 2160,345 2162,343 2172,326 2174,324 2176,326 2184,343 2194,359 2198,367 2214,411 2222,427 2226,432 2236,436 2242,435 2244,433 2248,426 2256,398 2268,348 2272,327 2274,325 2282,342 2296,363 2298,364 2300,364 2312,360 2322,362 2340,375 2352,381 2356,380 2364,373 2370,366 2376,355 2378,354 2393,351 2399,351 2399,674Z" fill="#0000ff"/>
<path d="M1978,674 1978,251 1984,251 1998,248 2012,259 2014,259 2026,259 2038,252 2040,253 2046,261 2058,279 2070,303 2082,339 2090,372 2100,427 2106,447 2108,450 2118,438 2132,416 2150,362 2152,360 2160,360 2162,359 2172,344 2174,343 2182,351 2194,367 2204,392 2214,421 2224,441 2226,443 2236,446 2246,441 2248,437 2256,409 2266,362 2272,346 2274,344 2282,359 2296,376 2298,376 2310,369 2312,369 2326,375 2340,386 2352,393 2354,393 2356,392 2364,386 2376,375 2378,374 2393,377 2399,377 2399,674Z" fill="#1f14ff"/>
<path d="M1978,674 1978,286 1984,286 1998,281 2014,281 2026,280 2038,276 2040,277 2056,301 2070,326 2080,354 2098,439 2106,465 2108,468 2112,466 2118,460 2132,438 2150,395 2152,393 2162,392 2172,380 2174,380 2182,387 2192,399 2204,424 2214,449 2222,463 2226,469 2232,472 2238,470 2246,463 2248,459 2256,434 2266,393 2272,379 2274,378 2282,393 2296,405 2298,405 2310,398 2312,398 2324,401 2340,412 2352,415 2356,414 2362,409 2376,396 2378,395 2393,400 2399,400 2399,674Z" fill="#3d29ff"/>
<path d="M1978,674 1978,393 1984,393 1986,392 1998,379 2010,354 2016,345 2020,342 2030,340 2038,348 2048,367 2068,392 2072,399 2080,419 2082,428 2088,467 2092,485 2110,527 2112,528 2118,526 2126,511 2130,507 2146,498 2160,492 2176,489 2192,505 2218,536 2230,553 2232,552 2242,537 2256,509 2266,484 2268,480 2272,476 2274,477 2282,496 2284,496 2300,491 2318,483 2320,483 2338,491 2340,491 2362,474 2376,458 2378,458 2393,471 2399,471 2399,674Z" fill="#5c3dff"/>
<path d="M1984,233 1994,229 2002,228 2012,230 2026,232 2038,231 2042,236 2052,255 2062,270 2066,279 2092,363 2100,408 2104,423 2108,431 2110,431 2116,422 2132,396 2134,391 2142,361 2148,326 2162,312 2174,286 2176,288 2180,306 2186,326 2190,335 2198,347 2200,351 2212,385 2220,402 2224,407 2230,412 2242,418 2244,415 2246,409 2266,342 2272,288 2274,286 2278,298 2292,330 2298,341 2300,342 2302,342 2322,341 2344,355 2352,358 2362,351 2370,338 2378,312 2386,305 2393,301" fill="none" stroke="#000" stroke-width="3.6" stroke-linejoin="round"/>
</svg>
<svg x="172" y="816" width="821" height="587" viewBox="172 816 821 587" overflow="hidden">
<rect x="172.0" y="816.0" width="821.0" height="587.0" fill="#ffa000"/>
<path class="c" d="M166,1415 166,866 172,866 174,867 186,876 188,879 196,913 198,913 206,881 216,872 218,872 238,873 264,872 280,867 294,879 296,878 322,842 324,840 334,839 350,856 364,879 378,907 388,919 390,920 404,912 422,912 438,913 442,915 458,929 474,930 494,924 512,926 530,918 574,918 586,915 588,918 594,936 596,938 624,884 626,884 636,889 646,892 648,890 662,872 676,869 690,874 704,874 722,860 756,837 772,824 786,817 792,810 794,810 798,815 802,837 804,840 836,837 852,835 854,835 866,845 868,845 880,836 884,835 900,840 938,849 962,852 976,852 993,857 999,857 999,1415Z" fill="#ffc000"/>
<path class="c" d="M166,1415 166,895 172,895 186,902 188,904 198,937 200,933 206,907 208,902 214,896 216,896 232,909 244,914 246,913 250,906 252,904 264,913 266,913 276,889 278,886 280,885 282,884 284,887 290,905 292,908 294,907 322,887 324,886 338,891 342,894 358,916 374,944 384,958 388,962 396,966 398,965 410,946 412,944 414,944 424,947 442,965 458,977 462,979 474,978 476,975 486,955 488,955 500,968 502,969 518,960 532,950 542,949 544,953 550,981 574,1027 576,1029 590,1036 602,1047 604,1048 606,1045 612,1032 618,996 622,983 624,979 626,979 634,983 636,981 644,953 652,931 654,927 664,915 674,910 678,910 688,916 692,917 704,912 716,896 726,900 734,905 736,905 746,888 748,886 768,887 790,883 812,880 830,887 848,883 864,885 882,888 894,882 898,881 932,893 950,895 982,885 993,889 999,889 999,1415Z" fill="#ffdf00"/>
<path class="c" d="M166,1415 166,906 172,906 176,909 188,922 198,948 200,947 208,917 212,912 216,911 220,912 232,924 244,932 248,933 250,935 256,955 258,956 266,938 276,905 278,901 282,898 284,899 286,902 292,920 294,922 296,922 306,914 322,905 340,906 358,925 380,966 386,974 394,982 396,983 398,981 412,965 420,961 424,963 452,995 460,1002 466,1005 474,1000 476,998 486,976 488,977 500,995 512,1000 516,998 532,985 538,983 542,986 544,990 550,1010 574,1047 576,1050 590,1058 604,1071 606,1071 612,1067 620,1039 634,1014 648,959 654,941 660,930 664,926 670,922 676,921 692,928 704,923 714,910 716,909 726,915 734,918 736,918 748,899 790,897 812,895 832,901 848,898 864,898 882,901 894,896 898,895 914,898 934,905 950,907 982,897 993,902 999,902 999,1415Z" fill="#ffff00"/>
<path class="c" d="M166,1415 166,918 172,918 176,922 188,940 198,960 200,960 208,932 210,928 218,924 220,924 222,926 234,940 246,952 248,956 256,1003 258,1004 268,954 276,922 278,917 280,915 284,911 286,912 294,938 296,939 304,931 308,928 324,923 340,921 356,931 358,933 368,951 380,980 394,999 396,1000 408,990 420,976 422,977 452,1018 466,1031 468,1030 476,1020 486,997 488,998 500,1021 512,1037 514,1036 528,1022 536,1016 538,1016 550,1039 574,1068 600,1089 612,1103 614,1101 622,1087 626,1077 634,1046 648,976 652,960 658,942 660,939 668,933 672,932 680,934 692,940 694,940 704,935 714,923 716,922 724,928 734,931 736,931 738,928 748,912 766,909 790,912 814,909 834,915 848,912 864,911 882,914 896,909 912,909 934,918 950,920 982,909 993,915 999,915 999,1415Z" fill="#ccff00"/>
<path class="c" d="M166,1415 166,929 172,929 176,933 198,966 200,967 208,945 210,942 218,936 222,938 246,966 248,970 256,1013 258,1014 268,969 276,940 280,931 284,928 286,929 294,946 296,947 306,939 312,936 328,932 338,931 342,932 346,934 356,941 358,944 378,993 382,999 388,1007 394,1012 396,1012 408,1004 420,994 422,995 438,1014 452,1034 466,1047 468,1046 476,1037 486,1022 488,1023 500,1041 508,1051 512,1054 522,1047 536,1034 538,1034 550,1053 574,1083 590,1094 600,1102 612,1116 614,1115 624,1098 632,1069 652,973 658,954 660,950 668,941 672,941 678,942 690,947 694,947 704,942 714,930 716,929 724,936 734,937 736,937 738,934 748,919 766,916 790,917 812,914 834,919 864,917 882,920 896,914 912,914 934,922 950,925 968,921 982,916 993,920 999,920 999,1415Z" fill="#99ff00"/>
<path class="c" d="M166,1415 166,941 172,941 174,942 188,963 198,973 200,973 202,971 210,955 216,948 218,947 222,951 234,963 248,984 256,1023 258,1024 270,978 276,958 280,948 284,946 286,946 294,955 296,955 306,948 314,945 330,942 340,942 346,943 356,952 358,955 374,1004 380,1014 388,1022 392,1024 396,1024 408,1019 418,1013 420,1012 422,1013 438,1029 452,1050 466,1064 468,1063 480,1049 482,1047 486,1046 508,1070 512,1071 524,1064 536,1051 538,1051 550,1068 574,1098 576,1100 590,1106 600,1115 612,1129 614,1129 624,1113 632,1083 652,987 658,966 660,961 668,950 678,950 688,954 692,955 704,950 714,938 716,937 724,944 726,944 734,944 736,942 748,925 812,919 834,924 864,923 882,926 896,919 912,919 934,927 950,930 968,928 982,923 993,926 999,926 999,1415Z" fill="#66ff00"/>
<path class="c" d="M166,1415 166,952 172,952 174,953 188,974 190,976 202,980 204,978 216,959 218,959 234,975 246,994 250,1005 256,1033 258,1034 270,993 280,965 282,963 294,963 314,954 330,952 346,953 356,962 358,966 374,1024 376,1028 388,1037 390,1038 402,1035 418,1030 422,1031 438,1045 452,1066 464,1079 466,1080 468,1079 480,1068 482,1068 508,1089 510,1089 524,1083 536,1069 538,1068 540,1069 574,1114 576,1115 590,1119 600,1129 612,1143 614,1142 622,1132 626,1122 632,1098 650,1009 656,985 660,972 666,960 668,958 678,958 688,962 692,963 704,958 714,946 716,944 724,951 726,952 734,950 738,946 748,932 768,930 790,926 812,923 834,929 864,929 880,932 884,931 896,924 912,923 934,932 950,935 968,935 982,929 993,932 999,932 999,1415Z" fill="#33ff00"/>
<path class="c" d="M166,1415 166,981 172,981 174,982 184,996 188,999 192,1000 196,998 202,993 214,978 216,977 218,978 226,989 236,1007 248,1032 256,1056 258,1056 268,1024 276,1005 280,999 288,1001 296,1006 302,1008 316,1011 328,1011 340,1015 346,1014 352,1015 356,1014 360,1016 374,1033 388,1042 420,1041 434,1048 438,1053 452,1079 456,1086 460,1089 466,1091 468,1090 480,1078 482,1078 492,1086 504,1102 510,1108 518,1112 522,1113 530,1111 538,1107 540,1108 574,1127 590,1130 600,1137 612,1151 614,1151 622,1142 626,1133 634,1104 650,1028 658,996 666,973 668,970 672,968 676,966 688,970 692,970 704,964 714,953 716,952 724,958 726,959 734,957 738,953 748,939 768,936 792,931 814,929 834,934 864,934 880,937 884,936 896,928 912,928 934,936 966,942 970,941 982,936 993,936 999,936 999,1415Z" fill="#00ff00"/>
<path class="c" d="M166,1415 166,1009 172,1009 174,1011 182,1022 184,1024 192,1024 194,1022 196,1019 204,1002 212,994 214,993 216,995 226,1011 248,1065 256,1079 258,1078 266,1052 276,1034 278,1033 288,1038 300,1055 312,1065 316,1067 328,1069 340,1077 342,1077 352,1071 366,1052 374,1042 376,1041 388,1046 404,1047 420,1052 434,1055 436,1058 456,1101 458,1103 460,1103 468,1101 480,1088 482,1088 492,1096 504,1119 516,1136 520,1140 530,1146 534,1147 574,1141 590,1141 600,1146 612,1160 614,1160 622,1152 626,1144 634,1119 642,1086 650,1046 664,992 668,983 674,976 676,975 688,977 692,977 702,972 714,960 716,959 724,966 726,966 734,964 738,960 748,945 768,942 792,936 814,935 834,939 864,939 880,942 884,941 896,932 912,932 934,940 950,943 968,949 982,942 993,941 999,941 999,1415Z" fill="#00cc33"/>
<path class="c" d="M166,1415 166,1019 172,1019 174,1022 180,1038 184,1046 194,1057 198,1063 200,1065 210,1057 216,1050 220,1048 226,1047 228,1050 248,1093 256,1105 258,1103 260,1098 276,1058 278,1055 282,1052 284,1053 288,1058 296,1071 300,1073 310,1073 322,1075 328,1079 338,1087 342,1086 352,1079 368,1061 376,1050 378,1050 390,1052 402,1053 422,1059 432,1060 434,1061 440,1072 456,1110 460,1115 462,1115 468,1112 480,1097 482,1095 486,1095 488,1097 498,1118 506,1132 518,1148 528,1156 534,1157 588,1150 592,1150 598,1151 610,1165 612,1167 614,1167 624,1158 632,1138 640,1109 648,1066 664,1006 670,990 672,986 676,982 680,981 690,983 700,979 716,964 718,964 726,969 732,969 736,966 744,954 748,950 764,949 774,946 786,941 792,939 800,939 834,944 862,944 878,946 884,945 896,937 908,936 914,937 936,947 952,948 966,955 982,948 993,946 999,946 999,1415Z" fill="#009966"/>
<path d="M166,1415 166,1029 172,1029 174,1033 180,1057 194,1091 200,1120 202,1121 210,1117 212,1115 220,1095 226,1084 228,1084 248,1121 254,1129 256,1130 264,1120 266,1117 278,1077 282,1070 284,1070 296,1094 298,1093 304,1087 310,1083 314,1082 322,1082 324,1084 336,1097 338,1098 360,1081 366,1075 378,1057 400,1058 422,1066 432,1066 434,1067 440,1078 454,1116 460,1127 462,1127 470,1120 484,1100 486,1099 488,1102 496,1125 500,1133 518,1158 528,1167 530,1168 544,1166 574,1163 596,1157 598,1158 604,1167 610,1173 612,1175 614,1174 624,1166 632,1151 640,1123 648,1078 664,1019 672,994 678,986 680,985 690,989 700,985 710,975 718,969 720,968 732,974 734,973 742,960 748,955 762,956 774,951 788,943 798,942 814,946 832,949 862,949 876,952 884,949 896,941 908,939 936,953 950,952 952,953 964,961 966,961 976,957 993,951 999,951 999,1415Z" fill="#006699"/>
<path d="M166,1415 166,1066 172,1066 174,1069 178,1082 184,1096 194,1111 200,1130 202,1130 210,1124 224,1097 226,1094 228,1093 240,1113 250,1132 256,1145 258,1144 264,1131 270,1114 276,1091 278,1086 282,1081 284,1081 288,1085 296,1100 298,1100 312,1097 322,1099 336,1110 340,1108 364,1086 368,1081 378,1065 382,1064 400,1066 422,1075 432,1076 434,1078 442,1093 454,1124 460,1134 462,1134 468,1132 480,1117 484,1114 486,1113 488,1116 498,1139 504,1149 518,1167 528,1177 530,1178 534,1178 574,1172 588,1167 592,1167 598,1169 610,1183 612,1184 614,1184 624,1177 634,1156 640,1134 648,1091 668,1017 672,1006 678,998 680,997 690,999 694,998 702,993 710,985 718,979 720,979 732,981 734,980 742,970 748,965 764,963 774,959 788,951 798,950 806,951 832,958 856,961 878,960 884,957 896,948 908,947 936,961 950,963 958,967 964,968 966,968 980,961 993,957 999,957 999,1415Z" fill="#0033cc"/>
<path d="M166,1415 166,1102 172,1102 174,1104 184,1123 186,1126 194,1131 200,1139 202,1138 212,1128 226,1104 228,1102 230,1104 240,1119 250,1139 256,1160 258,1161 266,1136 276,1100 278,1095 282,1092 284,1091 288,1093 296,1106 298,1108 312,1112 322,1116 332,1122 336,1123 364,1095 376,1076 380,1072 382,1071 396,1073 416,1081 432,1086 442,1104 454,1133 460,1141 466,1142 468,1141 480,1128 482,1127 486,1128 492,1136 500,1153 506,1162 518,1177 530,1187 534,1188 574,1181 590,1176 598,1179 610,1192 612,1194 614,1194 624,1187 634,1167 640,1145 652,1087 668,1028 672,1018 680,1008 682,1008 692,1010 694,1009 718,990 722,988 732,988 748,976 772,968 788,959 798,957 806,957 832,968 848,970 856,974 870,969 880,967 884,965 894,956 906,954 910,955 936,969 958,976 966,975 980,966 993,963 999,963 999,1415Z" fill="#0000ff"/>
<path d="M166,1415 166,1138 172,1138 174,1139 184,1151 186,1152 198,1150 202,1147 214,1132 226,1113 228,1111 230,1112 240,1125 250,1147 256,1175 258,1177 276,1108 278,1104 288,1102 302,1120 318,1130 334,1138 336,1136 364,1103 378,1082 380,1079 382,1078 398,1081 414,1089 430,1095 432,1096 456,1145 466,1152 468,1151 480,1139 482,1139 492,1147 504,1170 516,1185 532,1198 574,1190 588,1185 590,1185 600,1192 612,1203 614,1204 624,1198 634,1179 642,1147 652,1099 668,1040 672,1030 680,1020 682,1018 692,1020 694,1020 704,1010 722,998 738,992 756,981 774,974 790,967 802,964 806,964 818,969 832,977 848,981 856,986 870,978 882,975 894,964 906,961 910,962 936,977 956,986 968,981 980,972 993,969 999,969 999,1415Z" fill="#1f14ff"/>
<path d="M166,1415 166,1161 172,1161 174,1162 184,1174 186,1175 198,1173 202,1170 214,1155 226,1136 228,1134 230,1135 238,1145 242,1152 250,1170 256,1191 258,1193 266,1168 276,1128 278,1124 288,1122 302,1140 318,1150 334,1158 336,1156 354,1132 380,1094 382,1093 396,1095 414,1104 430,1109 432,1111 442,1132 454,1162 456,1165 464,1171 466,1172 468,1171 480,1157 482,1157 492,1167 502,1189 506,1196 518,1210 530,1220 534,1222 574,1233 576,1232 588,1228 590,1228 610,1247 612,1249 614,1249 626,1239 638,1210 656,1123 674,1058 676,1053 678,1052 688,1049 704,1038 720,1030 740,1023 762,1009 790,1001 802,998 806,999 818,1009 830,1020 846,1023 848,1025 856,1036 858,1034 864,1023 866,1020 876,1018 892,1003 906,1001 920,1006 936,1015 950,1026 952,1025 962,1015 976,1004 993,1001 999,1001 999,1415Z" fill="#3d29ff"/>
<path d="M166,1415 166,1187 172,1187 184,1192 188,1191 208,1181 230,1160 232,1160 252,1205 254,1207 256,1204 270,1157 272,1153 294,1145 296,1146 322,1172 336,1178 338,1177 364,1144 378,1119 380,1117 382,1116 408,1121 436,1135 440,1141 460,1191 462,1191 478,1178 480,1176 482,1177 496,1195 516,1228 540,1239 574,1244 588,1239 590,1239 610,1259 612,1261 614,1261 626,1256 628,1254 640,1230 648,1202 658,1161 660,1157 676,1141 688,1136 690,1136 692,1138 702,1150 704,1150 706,1146 714,1114 716,1109 718,1107 724,1110 736,1138 744,1151 746,1151 756,1142 774,1144 790,1141 806,1136 810,1137 826,1146 828,1144 836,1120 838,1117 846,1113 848,1113 862,1124 876,1141 896,1152 898,1152 914,1141 930,1136 932,1134 944,1120 952,1104 954,1102 956,1103 976,1123 993,1132 999,1132 999,1415Z" fill="#5c3dff"/>
<path d="M166,1415 166,1290 172,1290 174,1291 184,1303 186,1304 216,1280 218,1279 234,1290 250,1311 252,1311 264,1283 266,1279 270,1274 272,1274 286,1288 288,1289 290,1289 300,1284 310,1277 312,1277 326,1295 346,1299 362,1307 364,1307 366,1305 396,1280 408,1268 410,1267 426,1271 444,1297 454,1309 456,1311 464,1313 466,1312 468,1310 480,1291 486,1271 488,1272 496,1292 526,1335 528,1334 540,1317 542,1317 572,1341 584,1347 598,1342 612,1344 628,1342 632,1340 652,1325 654,1325 684,1339 694,1351 696,1350 702,1326 704,1327 720,1341 734,1349 740,1357 748,1377 754,1387 766,1401 772,1411 993,1411 999,1411 999,1415Z" fill="#7a52ff"/>
<path d="M172,1029 174,1033 180,1057 194,1091 200,1120 202,1121 210,1117 212,1115 220,1095 226,1084 228,1084 248,1121 254,1129 256,1130 264,1120 266,1117 278,1077 282,1070 284,1070 296,1094 298,1093 304,1087 310,1083 314,1082 322,1082 324,1084 336,1097 338,1098 360,1081 366,1075 378,1057 400,1058 422,1066 432,1066 434,1067 440,1078 454,1116 460,1127 462,1127 470,1120 484,1100 486,1099 488,1102 496,1125 500,1133 518,1158 528,1167 530,1168 544,1166 574,1163 596,1157 598,1158 604,1167 610,1173 612,1175 614,1174 624,1166 632,1151 640,1123 648,1078 664,1019 672,994 678,986 680,985 690,989 700,985 710,975 718,969 720,968 732,974 734,973 742,960 748,955 762,956 774,951 788,943 798,942 814,946 832,949 862,949 876,952 884,949 896,941 908,939 936,953 950,952 952,953 964,961 966,961 976,957 993,951" fill="none" stroke="#000" stroke-width="3.6" stroke-linejoin="round"/>
</svg>
<svg x="1059" y="819" width="816" height="585" viewBox="1059 819 816 585" overflow="hidden">
<rect x="1059.0" y="819.0" width="816.0" height="585.0" fill="#ff1500"/>
<path class="c" d="M1053,1416 1053,811 1059,811 1371,811 1373,812 1377,819 1399,834 1421,837 1433,845 1435,845 1477,816 1481,815 1509,819 1535,825 1539,828 1549,840 1553,843 1605,832 1639,849 1665,854 1695,852 1725,860 1751,857 1753,856 1767,836 1777,820 1787,811 1875,811 1881,811 1881,1416Z" fill="#ff2b00"/>
<path class="c" d="M1053,1416 1053,811 1059,811 1137,811 1139,812 1143,819 1171,829 1213,834 1243,832 1271,837 1299,840 1313,848 1329,846 1355,849 1357,848 1369,839 1371,839 1383,857 1387,861 1405,866 1421,866 1435,871 1465,866 1479,853 1481,852 1493,860 1507,865 1509,866 1523,861 1537,866 1563,871 1595,875 1623,875 1651,872 1679,874 1709,872 1737,875 1751,875 1767,860 1781,855 1837,877 1851,877 1853,877 1865,865 1875,861 1881,861 1881,1416Z" fill="#ff4000"/>
<path class="c" d="M1053,1416 1053,811 1059,811 1065,812 1097,828 1127,835 1139,842 1161,863 1169,878 1171,879 1181,870 1183,870 1191,874 1193,877 1197,895 1199,899 1201,896 1211,864 1213,859 1215,857 1271,852 1283,859 1285,863 1291,889 1305,901 1321,917 1333,939 1341,946 1355,951 1359,951 1383,941 1387,936 1399,910 1401,908 1413,901 1415,904 1433,950 1435,952 1465,957 1481,939 1509,917 1523,901 1553,889 1571,886 1623,886 1651,883 1679,886 1709,883 1737,886 1751,886 1767,874 1781,869 1837,891 1851,892 1853,891 1865,880 1875,875 1881,875 1881,1416Z" fill="#ff5500"/>
<path class="c" d="M1053,1416 1053,819 1059,819 1075,823 1097,864 1099,866 1111,876 1113,876 1115,875 1129,859 1139,851 1141,850 1143,850 1161,866 1169,878 1173,882 1175,880 1183,870 1185,871 1195,898 1197,901 1213,909 1241,917 1271,921 1283,928 1299,946 1313,952 1327,974 1343,990 1357,995 1371,998 1399,1009 1413,993 1415,993 1465,1014 1467,1013 1507,965 1523,940 1537,923 1551,912 1571,904 1593,901 1623,900 1651,898 1679,900 1709,898 1737,900 1751,900 1767,889 1781,884 1837,906 1851,906 1853,905 1865,894 1875,889 1881,889 1881,1416Z" fill="#ff6b00"/>
<path class="c" d="M1053,1416 1053,843 1059,843 1069,846 1083,859 1111,906 1127,928 1129,928 1141,923 1155,913 1157,915 1169,939 1171,939 1181,922 1183,923 1195,939 1197,940 1207,932 1217,932 1219,933 1235,951 1251,977 1253,979 1255,978 1269,959 1271,959 1281,968 1299,988 1301,988 1311,982 1315,981 1343,994 1345,995 1353,994 1371,998 1381,1002 1383,1005 1389,1041 1399,1065 1409,1079 1411,1080 1421,1066 1423,1065 1429,1071 1433,1072 1463,1072 1465,1072 1483,1032 1495,1022 1499,1018 1509,1002 1523,974 1537,952 1551,935 1573,920 1595,915 1623,915 1651,912 1679,915 1709,912 1737,915 1751,915 1767,903 1781,898 1837,920 1851,920 1853,920 1865,908 1875,904 1881,904 1881,1416Z" fill="#ff8000"/>
<path class="c" d="M1053,1416 1053,872 1059,872 1071,874 1073,876 1093,909 1101,919 1127,934 1141,933 1155,923 1157,924 1169,947 1171,947 1181,929 1183,930 1195,945 1197,945 1207,937 1217,935 1219,936 1231,953 1243,976 1251,989 1255,993 1257,992 1269,974 1271,973 1299,1003 1311,996 1315,995 1327,999 1345,1007 1371,1009 1381,1019 1383,1023 1389,1051 1393,1061 1401,1078 1411,1089 1413,1089 1415,1087 1423,1078 1433,1082 1463,1086 1465,1086 1471,1073 1483,1044 1497,1032 1507,1017 1523,986 1537,962 1551,945 1569,931 1573,929 1595,923 1623,923 1651,921 1679,923 1709,921 1737,923 1751,923 1767,912 1781,907 1839,929 1851,928 1853,927 1863,917 1875,911 1881,911 1881,1416Z" fill="#ffa000"/>
<path class="c" d="M1053,1416 1053,900 1059,900 1071,900 1073,902 1083,926 1093,941 1101,948 1103,948 1113,943 1125,941 1141,943 1155,933 1157,934 1169,956 1171,956 1181,937 1183,937 1195,951 1197,951 1207,941 1217,938 1219,939 1229,956 1243,989 1255,1008 1257,1008 1269,988 1271,988 1285,1004 1299,1017 1311,1011 1315,1010 1327,1012 1343,1018 1355,1021 1369,1018 1371,1019 1381,1036 1391,1067 1401,1087 1403,1090 1413,1100 1415,1100 1423,1092 1425,1090 1427,1090 1463,1100 1465,1100 1473,1083 1483,1055 1497,1043 1507,1028 1537,972 1551,955 1569,940 1573,937 1595,932 1623,932 1651,929 1679,932 1709,929 1737,932 1751,932 1767,920 1781,915 1839,937 1851,935 1863,924 1875,918 1881,918 1881,1416Z" fill="#ffc000"/>
<path class="c" d="M1053,1416 1053,926 1059,926 1071,925 1073,927 1083,955 1091,965 1101,969 1127,961 1141,960 1155,946 1157,947 1169,967 1171,967 1181,948 1183,948 1195,962 1197,962 1209,951 1217,948 1219,949 1229,967 1241,999 1255,1019 1257,1019 1265,1007 1269,1003 1273,1005 1299,1034 1301,1034 1313,1027 1327,1025 1343,1035 1369,1042 1373,1045 1381,1054 1391,1081 1401,1102 1403,1104 1411,1111 1413,1112 1415,1111 1425,1102 1435,1106 1463,1112 1465,1112 1467,1109 1483,1067 1497,1055 1507,1040 1537,981 1551,964 1569,948 1573,946 1595,941 1623,942 1651,939 1681,940 1709,936 1751,940 1767,930 1781,925 1795,929 1811,935 1839,943 1851,941 1863,930 1875,924 1881,924 1881,1416Z" fill="#ffdf00"/>
<path class="c" d="M1053,1416 1053,952 1059,952 1071,949 1073,952 1081,979 1087,988 1091,992 1107,989 1127,981 1141,977 1155,959 1157,960 1169,979 1171,979 1181,959 1183,960 1195,974 1197,974 1209,963 1217,959 1219,959 1229,978 1241,1013 1243,1017 1255,1031 1257,1031 1267,1016 1269,1017 1285,1033 1299,1051 1301,1051 1313,1044 1325,1039 1327,1038 1329,1039 1343,1053 1357,1058 1381,1072 1383,1075 1391,1096 1403,1119 1413,1123 1415,1123 1425,1113 1435,1118 1463,1124 1465,1123 1467,1120 1483,1078 1497,1066 1507,1051 1537,990 1551,973 1571,955 1595,949 1623,952 1651,949 1679,949 1709,944 1737,946 1751,949 1767,940 1781,935 1795,938 1811,944 1839,949 1851,946 1863,936 1875,930 1881,930 1881,1416Z" fill="#ffff00"/>
<path class="c" d="M1053,1416 1053,963 1059,963 1071,960 1073,962 1081,993 1083,997 1089,1004 1093,1006 1107,1002 1127,992 1141,989 1155,973 1157,974 1169,991 1171,990 1181,971 1183,971 1195,982 1197,982 1207,971 1217,967 1219,968 1221,971 1229,989 1241,1022 1243,1025 1255,1040 1257,1039 1267,1024 1269,1024 1299,1059 1301,1058 1325,1048 1327,1047 1329,1048 1343,1060 1381,1080 1401,1123 1403,1126 1411,1131 1413,1132 1415,1131 1425,1122 1435,1128 1463,1131 1465,1130 1467,1127 1483,1087 1497,1075 1509,1057 1537,997 1551,980 1571,963 1595,956 1625,959 1651,956 1681,955 1709,949 1737,952 1751,955 1767,946 1781,942 1795,945 1809,950 1839,955 1851,952 1863,941 1875,935 1881,935 1881,1416Z" fill="#ccff00"/>
<path class="c" d="M1053,1416 1053,975 1059,975 1071,970 1073,973 1081,1007 1083,1011 1093,1020 1107,1015 1127,1004 1141,1000 1155,987 1157,988 1169,1002 1171,1002 1181,982 1183,982 1195,991 1197,991 1207,978 1217,975 1219,977 1221,981 1241,1030 1255,1048 1257,1048 1267,1031 1269,1031 1285,1053 1299,1066 1325,1056 1329,1056 1343,1067 1369,1083 1381,1089 1401,1130 1403,1133 1413,1140 1415,1140 1425,1131 1435,1138 1463,1138 1465,1138 1471,1125 1483,1095 1497,1083 1509,1065 1523,1037 1537,1004 1551,987 1569,971 1573,969 1595,964 1625,966 1679,961 1709,955 1737,958 1751,960 1767,952 1781,949 1795,952 1809,957 1823,958 1839,960 1851,958 1863,947 1875,941 1881,941 1881,1416Z" fill="#99ff00"/>
<path class="c" d="M1053,1416 1053,989 1059,989 1071,984 1073,988 1079,1019 1081,1024 1089,1034 1093,1037 1105,1035 1127,1021 1141,1021 1155,1015 1157,1015 1169,1022 1171,1021 1181,1009 1183,1009 1195,1014 1197,1014 1201,1011 1207,998 1209,995 1217,990 1219,990 1227,1003 1235,1030 1241,1047 1243,1050 1251,1055 1253,1056 1255,1055 1265,1037 1267,1038 1269,1041 1285,1068 1297,1077 1301,1077 1325,1069 1329,1069 1343,1081 1357,1089 1381,1103 1393,1127 1403,1143 1413,1149 1415,1149 1425,1142 1433,1149 1435,1150 1465,1145 1475,1127 1483,1104 1497,1094 1507,1082 1521,1058 1535,1019 1541,1007 1545,1003 1579,976 1587,973 1595,971 1625,973 1651,971 1681,965 1709,961 1737,961 1751,965 1767,958 1779,956 1795,958 1809,963 1823,961 1839,963 1851,961 1863,951 1875,947 1881,947 1881,1416Z" fill="#66ff00"/>
<path class="c" d="M1053,1416 1053,1003 1059,1003 1071,999 1073,1003 1079,1038 1089,1051 1091,1053 1103,1055 1105,1054 1127,1038 1157,1042 1169,1041 1185,1035 1199,1038 1201,1037 1207,1017 1209,1013 1217,1005 1219,1004 1221,1005 1225,1008 1227,1011 1235,1045 1241,1064 1243,1067 1251,1067 1253,1066 1263,1042 1265,1041 1275,1065 1285,1083 1299,1089 1315,1083 1327,1081 1329,1082 1343,1096 1357,1101 1371,1110 1381,1117 1391,1136 1403,1153 1413,1158 1425,1153 1433,1160 1435,1161 1463,1153 1467,1150 1475,1138 1483,1113 1507,1096 1521,1075 1535,1030 1543,1013 1557,1006 1567,999 1577,987 1585,981 1597,978 1623,981 1649,978 1681,969 1735,964 1739,964 1751,969 1753,969 1767,963 1795,964 1809,969 1823,964 1839,966 1851,964 1863,955 1875,952 1881,952 1881,1416Z" fill="#33ff00"/>
<path class="c" d="M1053,1416 1053,1011 1059,1011 1071,1004 1073,1007 1077,1034 1079,1043 1081,1047 1085,1053 1091,1060 1103,1063 1123,1049 1127,1047 1143,1051 1169,1050 1183,1046 1197,1048 1201,1047 1209,1029 1219,1019 1225,1020 1227,1023 1229,1029 1239,1073 1241,1079 1243,1082 1251,1082 1253,1081 1263,1057 1265,1056 1267,1058 1281,1089 1285,1094 1299,1097 1315,1092 1321,1091 1327,1091 1341,1103 1357,1111 1367,1117 1381,1128 1391,1145 1403,1160 1413,1164 1419,1161 1425,1161 1433,1169 1435,1169 1441,1164 1465,1156 1473,1149 1475,1147 1481,1126 1485,1117 1489,1114 1499,1110 1509,1104 1521,1088 1525,1077 1537,1033 1543,1018 1545,1017 1557,1013 1567,1006 1577,993 1587,985 1597,982 1621,984 1651,982 1671,977 1683,972 1695,971 1711,971 1737,966 1753,971 1767,967 1795,967 1809,973 1823,966 1837,968 1851,966 1863,958 1875,956 1881,956 1881,1416Z" fill="#00ff00"/>
<path class="c" d="M1053,1416 1053,1019 1059,1019 1071,1010 1073,1012 1077,1039 1079,1048 1081,1053 1085,1060 1089,1065 1093,1068 1101,1072 1105,1070 1125,1056 1129,1056 1143,1060 1155,1059 1169,1060 1183,1056 1195,1058 1201,1058 1209,1045 1217,1035 1219,1034 1225,1033 1227,1035 1229,1041 1239,1089 1243,1096 1251,1098 1253,1096 1261,1077 1265,1070 1267,1071 1269,1075 1279,1097 1283,1104 1287,1105 1299,1105 1311,1102 1321,1100 1327,1102 1341,1112 1357,1120 1369,1127 1381,1139 1391,1154 1401,1166 1409,1170 1413,1169 1419,1167 1421,1167 1425,1169 1433,1177 1435,1177 1441,1170 1461,1161 1467,1160 1473,1157 1475,1155 1483,1127 1487,1121 1507,1115 1515,1109 1523,1096 1531,1069 1537,1040 1543,1023 1545,1022 1557,1020 1567,1013 1577,1000 1587,990 1597,987 1613,988 1657,986 1671,982 1685,975 1695,974 1711,975 1723,972 1737,969 1753,974 1767,971 1781,972 1795,971 1807,976 1809,976 1821,969 1839,970 1851,967 1865,960 1875,959 1881,959 1881,1416Z" fill="#00cc33"/>
<path class="c" d="M1053,1416 1053,1027 1059,1027 1071,1016 1073,1016 1077,1044 1079,1053 1083,1063 1085,1067 1091,1074 1101,1080 1103,1080 1113,1072 1125,1064 1131,1066 1141,1070 1155,1067 1171,1069 1183,1066 1195,1069 1201,1068 1217,1050 1225,1045 1227,1047 1229,1052 1239,1104 1243,1111 1245,1113 1251,1113 1253,1111 1261,1091 1265,1085 1267,1085 1269,1088 1281,1114 1283,1116 1313,1110 1323,1110 1341,1122 1367,1135 1381,1150 1391,1164 1401,1174 1407,1177 1409,1177 1419,1172 1421,1173 1433,1186 1435,1184 1441,1175 1461,1164 1473,1165 1475,1164 1481,1141 1487,1126 1489,1125 1499,1126 1507,1125 1513,1123 1515,1122 1521,1113 1525,1103 1531,1082 1537,1047 1543,1028 1545,1027 1557,1027 1567,1020 1579,1004 1587,995 1595,992 1599,991 1611,992 1627,990 1657,991 1671,987 1685,978 1695,977 1711,980 1723,975 1737,972 1753,977 1767,975 1781,976 1795,975 1807,980 1809,980 1821,971 1837,972 1851,969 1863,963 1875,963 1881,963 1881,1416Z" fill="#009966"/>
<path d="M1053,1416 1053,1035 1059,1035 1073,1021 1077,1049 1079,1058 1083,1070 1085,1074 1091,1081 1101,1089 1103,1088 1113,1079 1123,1073 1125,1073 1133,1075 1141,1080 1155,1076 1169,1079 1181,1076 1195,1079 1205,1078 1209,1076 1217,1065 1225,1058 1227,1059 1229,1064 1231,1073 1239,1120 1241,1124 1245,1128 1251,1129 1253,1126 1259,1110 1267,1098 1269,1100 1281,1126 1283,1128 1291,1124 1305,1120 1321,1118 1323,1119 1335,1128 1367,1144 1387,1169 1399,1181 1407,1184 1419,1178 1421,1179 1429,1191 1433,1194 1435,1192 1439,1183 1441,1180 1461,1168 1463,1168 1473,1173 1475,1172 1481,1148 1487,1131 1489,1130 1501,1134 1513,1135 1515,1134 1523,1122 1529,1103 1531,1095 1537,1054 1541,1038 1543,1034 1545,1032 1557,1033 1567,1027 1579,1010 1587,1000 1597,995 1611,996 1625,994 1657,996 1671,992 1685,982 1695,980 1711,985 1713,984 1723,978 1737,975 1753,979 1781,980 1795,978 1807,984 1809,984 1821,973 1837,975 1849,972 1863,965 1875,966 1881,966 1881,1416Z" fill="#006699"/>
<path d="M1053,1416 1053,1048 1059,1048 1069,1041 1073,1040 1077,1062 1083,1079 1085,1083 1091,1089 1101,1097 1103,1096 1115,1086 1125,1082 1141,1086 1155,1082 1169,1084 1181,1081 1195,1085 1203,1085 1207,1083 1217,1072 1225,1066 1227,1067 1229,1072 1239,1126 1241,1132 1243,1135 1245,1136 1251,1136 1253,1133 1261,1113 1267,1107 1269,1108 1281,1133 1283,1134 1291,1130 1303,1127 1321,1125 1335,1134 1367,1152 1387,1176 1399,1187 1409,1190 1419,1185 1421,1186 1433,1200 1435,1199 1441,1189 1461,1176 1463,1176 1473,1181 1475,1180 1481,1157 1487,1141 1489,1140 1495,1140 1507,1142 1513,1141 1521,1134 1525,1125 1531,1103 1537,1066 1543,1041 1545,1039 1557,1039 1567,1032 1583,1010 1587,1006 1597,1002 1611,1002 1625,1000 1659,1000 1671,997 1683,988 1693,984 1697,984 1711,990 1713,989 1725,983 1737,980 1753,987 1765,988 1779,987 1795,983 1807,989 1809,988 1821,979 1837,980 1849,977 1863,971 1875,971 1881,971 1881,1416Z" fill="#0033cc"/>
<path d="M1053,1416 1053,1062 1059,1062 1069,1057 1073,1060 1077,1074 1083,1089 1085,1092 1091,1098 1101,1106 1103,1105 1115,1094 1125,1091 1141,1091 1155,1089 1169,1089 1179,1087 1201,1091 1207,1088 1217,1079 1225,1074 1227,1075 1229,1081 1239,1133 1241,1140 1243,1144 1251,1143 1253,1141 1261,1120 1263,1117 1267,1115 1269,1116 1271,1119 1281,1139 1283,1140 1299,1135 1321,1132 1341,1145 1363,1157 1397,1192 1409,1197 1421,1193 1433,1206 1435,1205 1441,1199 1461,1185 1463,1185 1473,1190 1475,1187 1483,1160 1487,1150 1497,1146 1507,1148 1513,1148 1521,1142 1525,1133 1531,1112 1543,1048 1545,1046 1555,1046 1559,1044 1569,1035 1583,1016 1587,1012 1599,1009 1625,1006 1663,1004 1671,1001 1685,992 1695,988 1711,995 1713,995 1725,988 1737,985 1753,994 1767,997 1795,988 1809,993 1821,986 1837,986 1851,982 1863,976 1875,976 1881,976 1881,1416Z" fill="#0000ff"/>
<path d="M1053,1416 1053,1075 1059,1075 1069,1073 1071,1075 1085,1102 1101,1114 1103,1114 1113,1104 1117,1101 1177,1093 1201,1098 1219,1084 1225,1082 1227,1083 1229,1089 1241,1148 1243,1152 1251,1150 1253,1149 1261,1126 1263,1124 1269,1124 1271,1126 1281,1145 1283,1146 1299,1141 1321,1138 1343,1153 1363,1165 1397,1199 1411,1204 1421,1199 1423,1200 1433,1212 1435,1212 1461,1194 1463,1193 1473,1198 1475,1195 1485,1163 1487,1160 1495,1154 1499,1153 1509,1155 1521,1150 1523,1148 1525,1142 1533,1114 1543,1055 1545,1052 1555,1052 1559,1050 1571,1038 1585,1019 1587,1018 1601,1015 1645,1009 1663,1009 1695,993 1711,1000 1713,1000 1727,992 1737,990 1753,1001 1765,1006 1767,1006 1781,998 1793,993 1797,993 1807,997 1811,997 1823,992 1839,992 1863,981 1875,981 1881,981 1881,1416Z" fill="#1f14ff"/>
<path d="M1053,1416 1053,1098 1059,1098 1069,1096 1071,1098 1085,1125 1101,1137 1103,1136 1113,1126 1117,1124 1177,1116 1201,1121 1219,1107 1225,1105 1227,1106 1229,1113 1239,1165 1241,1174 1243,1178 1251,1176 1253,1174 1261,1152 1263,1150 1269,1150 1271,1151 1281,1171 1283,1172 1299,1167 1321,1164 1343,1179 1363,1191 1397,1224 1411,1230 1421,1225 1423,1225 1433,1237 1435,1238 1467,1228 1469,1225 1479,1198 1481,1194 1493,1182 1495,1182 1511,1186 1525,1175 1537,1137 1545,1086 1547,1082 1559,1094 1561,1093 1575,1066 1589,1047 1609,1044 1629,1044 1651,1038 1667,1033 1697,1010 1709,1012 1725,1007 1729,1007 1737,1009 1751,1023 1753,1023 1765,1018 1779,1010 1783,1009 1795,1007 1813,1009 1823,1004 1839,1003 1863,993 1875,992 1881,992 1881,1416Z" fill="#3d29ff"/>
<path d="M1053,1416 1053,1135 1059,1135 1069,1133 1071,1135 1085,1165 1097,1180 1099,1180 1113,1167 1125,1160 1127,1159 1141,1174 1143,1174 1155,1165 1169,1161 1189,1169 1205,1180 1207,1180 1209,1178 1221,1155 1223,1157 1229,1177 1239,1220 1241,1223 1251,1231 1253,1231 1255,1228 1261,1212 1263,1210 1269,1210 1271,1211 1285,1222 1305,1233 1327,1236 1351,1245 1369,1255 1385,1267 1399,1275 1413,1268 1415,1268 1433,1278 1435,1278 1467,1268 1479,1251 1481,1250 1497,1250 1523,1229 1527,1225 1535,1213 1549,1187 1577,1178 1585,1166 1587,1168 1597,1193 1599,1193 1621,1164 1623,1162 1625,1163 1631,1170 1639,1204 1641,1209 1651,1202 1663,1176 1671,1170 1673,1171 1687,1182 1703,1192 1723,1201 1737,1188 1739,1188 1751,1192 1753,1192 1763,1182 1765,1184 1771,1194 1779,1221 1781,1222 1787,1193 1805,1177 1807,1176 1865,1223 1875,1227 1881,1227 1881,1416Z" fill="#5c3dff"/>
<path d="M1059,1035 1073,1021 1077,1049 1079,1058 1083,1070 1085,1074 1091,1081 1101,1089 1103,1088 1113,1079 1123,1073 1125,1073 1133,1075 1141,1080 1155,1076 1169,1079 1181,1076 1195,1079 1205,1078 1209,1076 1217,1065 1225,1058 1227,1059 1229,1064 1231,1073 1239,1120 1241,1124 1245,1128 1251,1129 1253,1126 1259,1110 1267,1098 1269,1100 1281,1126 1283,1128 1291,1124 1305,1120 1321,1118 1323,1119 1335,1128 1367,1144 1387,1169 1399,1181 1407,1184 1419,1178 1421,1179 1429,1191 1433,1194 1435,1192 1439,1183 1441,1180 1461,1168 1463,1168 1473,1173 1475,1172 1481,1148 1487,1131 1489,1130 1501,1134 1513,1135 1515,1134 1523,1122 1529,1103 1531,1095 1537,1054 1541,1038 1543,1034 1545,1032 1557,1033 1567,1027 1579,1010 1587,1000 1597,995 1611,996 1625,994 1657,996 1671,992 1685,982 1695,980 1711,985 1713,984 1723,978 1737,975 1753,979 1781,980 1795,978 1807,984 1809,984 1821,973 1837,975 1849,972 1863,965 1875,966" fill="none" stroke="#000" stroke-width="3.6" stroke-linejoin="round"/>
</svg>
<svg x="174" y="1555" width="820" height="586" viewBox="174 1555 820 586" overflow="hidden">
<rect x="174.0" y="1555.0" width="820.0" height="586.0" fill="#ff8000"/>
<path class="c" d="M168,2153 168,1547 174,1547 712,1547 716,1554 718,1556 732,1560 734,1563 746,1594 748,1596 762,1586 776,1580 790,1584 798,1596 800,1595 806,1581 812,1562 814,1558 826,1563 840,1568 860,1571 864,1571 876,1566 890,1569 904,1577 912,1584 914,1585 940,1569 950,1571 962,1577 970,1580 972,1579 982,1572 994,1569 1000,1569 1000,2153Z" fill="#ffa000"/>
<path class="c" d="M168,2153 168,1547 174,1547 560,1547 574,1575 576,1576 598,1556 628,1555 630,1557 636,1578 640,1589 642,1588 648,1571 662,1563 682,1561 696,1569 704,1577 714,1585 730,1592 744,1605 746,1606 760,1603 764,1604 788,1608 798,1614 800,1612 816,1571 818,1571 826,1578 860,1583 864,1582 876,1578 890,1580 904,1588 912,1596 914,1597 940,1581 950,1583 962,1589 970,1591 972,1591 982,1583 994,1580 1000,1580 1000,2153Z" fill="#ffc000"/>
<path class="c" d="M168,2153 168,1547 174,1547 218,1547 224,1610 232,1635 238,1639 240,1639 242,1635 256,1605 258,1603 270,1606 272,1605 282,1598 296,1575 306,1563 312,1557 314,1556 316,1559 322,1575 328,1601 330,1600 340,1557 342,1552 346,1547 400,1547 402,1551 404,1567 408,1621 410,1629 416,1604 422,1594 424,1592 438,1595 448,1605 460,1631 462,1626 468,1595 474,1575 476,1573 494,1604 496,1602 504,1578 512,1572 522,1569 526,1571 538,1583 574,1613 576,1614 590,1600 606,1593 618,1586 628,1579 630,1580 632,1586 640,1616 642,1617 648,1598 652,1590 664,1581 680,1575 682,1575 694,1582 696,1584 706,1602 716,1609 730,1615 744,1628 746,1629 762,1626 778,1629 800,1634 802,1632 804,1627 816,1586 818,1582 824,1590 826,1592 842,1592 862,1594 876,1589 890,1592 904,1600 912,1607 914,1608 940,1592 950,1594 962,1600 970,1603 972,1602 982,1595 994,1592 1000,1592 1000,2153Z" fill="#ffdf00"/>
<path class="c" d="M168,2153 168,1586 174,1586 202,1580 212,1579 214,1580 216,1582 218,1589 224,1632 230,1653 234,1661 238,1667 240,1667 256,1622 258,1619 272,1617 282,1608 286,1603 296,1585 306,1574 308,1573 310,1574 314,1581 326,1625 328,1627 336,1594 340,1584 346,1573 352,1567 358,1565 372,1557 382,1555 384,1555 394,1565 396,1569 400,1582 402,1590 404,1606 408,1657 410,1661 416,1615 420,1601 422,1596 424,1595 430,1593 434,1594 442,1602 448,1610 454,1623 460,1649 462,1654 464,1647 470,1602 476,1580 478,1579 480,1582 494,1618 496,1619 502,1614 504,1611 510,1589 514,1580 522,1573 524,1573 534,1585 548,1607 574,1631 576,1631 590,1617 604,1609 626,1591 628,1591 630,1594 634,1611 640,1648 642,1649 648,1615 652,1606 662,1591 674,1585 682,1582 690,1583 696,1592 704,1609 710,1619 722,1626 728,1632 732,1636 744,1654 746,1654 760,1651 772,1651 786,1643 796,1643 800,1644 802,1643 804,1640 806,1635 816,1598 818,1595 824,1602 826,1603 836,1599 848,1601 860,1600 878,1596 892,1600 904,1606 914,1613 940,1599 950,1602 962,1607 970,1609 982,1601 994,1596 1000,1596 1000,2153Z" fill="#ffff00"/>
<path class="c" d="M168,2153 168,1635 174,1635 202,1623 212,1621 214,1622 232,1682 238,1694 240,1695 250,1658 256,1638 258,1634 272,1628 284,1616 298,1591 306,1585 308,1584 310,1589 324,1654 326,1658 328,1653 334,1623 336,1618 344,1604 348,1599 358,1594 372,1577 382,1572 384,1573 394,1594 402,1629 408,1694 410,1693 416,1627 420,1604 422,1599 430,1593 434,1594 444,1607 452,1623 454,1628 456,1638 462,1682 464,1681 470,1617 476,1586 478,1581 480,1585 494,1631 502,1646 504,1644 512,1595 514,1589 522,1577 524,1576 534,1590 548,1622 574,1648 576,1648 578,1646 590,1634 604,1623 620,1607 626,1602 628,1602 634,1627 640,1679 642,1682 648,1632 660,1603 662,1600 674,1593 688,1587 690,1587 692,1591 710,1634 712,1636 722,1641 732,1656 744,1679 746,1680 758,1675 772,1675 774,1673 784,1656 786,1654 796,1652 804,1654 806,1649 812,1624 816,1611 818,1608 824,1613 826,1614 836,1607 848,1609 878,1603 892,1607 904,1611 914,1617 940,1606 950,1609 962,1614 970,1615 982,1606 994,1601 1000,1601 1000,2153Z" fill="#ccff00"/>
<path class="c" d="M168,2153 168,1650 174,1650 176,1649 188,1641 202,1633 212,1630 214,1631 218,1642 232,1695 238,1709 240,1710 256,1651 258,1647 272,1649 282,1645 286,1639 298,1612 306,1602 308,1602 312,1613 316,1631 322,1667 324,1675 326,1676 336,1635 342,1620 348,1613 358,1606 372,1593 378,1588 382,1587 384,1589 392,1603 396,1618 402,1651 408,1714 410,1713 414,1667 418,1637 422,1618 424,1615 430,1611 434,1611 442,1619 448,1629 454,1644 462,1696 464,1696 470,1640 476,1606 478,1600 480,1603 494,1647 496,1651 502,1654 504,1651 512,1611 514,1605 522,1592 524,1591 536,1609 548,1638 552,1642 574,1659 576,1659 578,1657 604,1634 626,1610 628,1610 630,1616 634,1636 640,1689 642,1692 648,1647 660,1615 662,1612 672,1604 674,1603 682,1604 686,1605 690,1608 710,1653 722,1663 744,1701 746,1703 760,1702 772,1706 774,1704 782,1687 786,1681 796,1673 802,1670 804,1667 812,1637 816,1624 818,1621 824,1628 826,1628 836,1619 848,1617 862,1613 876,1610 892,1613 904,1617 914,1622 940,1613 950,1614 962,1619 970,1619 982,1611 994,1606 1000,1606 1000,2153Z" fill="#99ff00"/>
<path class="c" d="M168,2153 168,1665 174,1665 176,1664 188,1652 200,1644 204,1642 214,1640 216,1644 218,1651 232,1709 238,1724 240,1725 256,1663 258,1660 272,1671 282,1671 284,1668 298,1633 304,1622 306,1619 308,1620 314,1636 322,1690 324,1696 326,1693 328,1687 338,1645 342,1633 346,1628 352,1622 364,1615 378,1603 380,1602 382,1602 390,1613 392,1618 396,1636 402,1672 408,1734 410,1733 416,1672 422,1638 424,1632 430,1629 434,1628 438,1629 448,1643 450,1647 456,1669 462,1710 464,1712 470,1663 476,1626 478,1620 480,1622 494,1662 496,1665 502,1662 504,1659 514,1622 522,1608 524,1607 536,1623 548,1654 550,1657 574,1669 576,1669 578,1668 602,1646 620,1624 626,1618 628,1618 630,1624 634,1646 640,1699 642,1703 648,1662 658,1631 662,1624 672,1614 674,1614 684,1619 688,1625 710,1672 722,1686 734,1709 744,1723 748,1726 762,1731 772,1737 774,1735 784,1711 802,1686 816,1638 818,1635 824,1642 826,1642 834,1633 838,1630 862,1619 876,1617 892,1620 914,1627 940,1619 950,1620 962,1624 970,1624 982,1616 994,1610 1000,1610 1000,2153Z" fill="#66ff00"/>
<path class="c" d="M168,2153 168,1681 174,1681 176,1679 188,1664 200,1654 204,1652 214,1649 216,1652 218,1660 232,1722 238,1739 240,1740 256,1676 258,1673 272,1692 282,1697 284,1694 296,1659 304,1639 306,1637 308,1638 312,1645 314,1650 322,1712 324,1717 330,1697 340,1651 342,1647 352,1635 366,1629 380,1616 382,1617 390,1627 394,1642 400,1677 408,1754 410,1753 416,1695 422,1657 424,1650 426,1648 436,1644 438,1644 448,1656 456,1685 462,1724 464,1727 476,1646 478,1639 480,1641 494,1678 496,1679 506,1663 516,1633 522,1623 524,1622 538,1641 550,1674 574,1680 576,1680 588,1670 602,1657 620,1633 626,1626 628,1626 630,1632 634,1655 640,1708 642,1713 648,1677 658,1643 660,1639 670,1627 672,1624 674,1624 684,1635 696,1664 708,1688 722,1708 734,1733 748,1750 762,1758 772,1768 774,1766 782,1743 800,1707 812,1664 816,1651 818,1648 824,1656 826,1656 834,1646 848,1634 862,1626 874,1624 878,1624 914,1632 940,1626 950,1626 962,1629 970,1629 982,1621 994,1615 1000,1615 1000,2153Z" fill="#33ff00"/>
<path class="c" d="M168,2153 168,1701 174,1701 176,1699 190,1679 202,1670 214,1668 216,1671 218,1678 232,1737 238,1752 240,1753 256,1697 258,1696 272,1715 282,1720 284,1718 304,1670 306,1668 308,1671 314,1686 322,1742 324,1746 332,1718 340,1684 342,1679 352,1663 366,1652 378,1639 380,1637 382,1639 388,1651 392,1664 400,1710 408,1771 410,1766 422,1676 424,1668 426,1667 438,1662 444,1664 446,1665 448,1670 454,1697 462,1741 464,1740 476,1661 478,1657 488,1687 494,1699 496,1699 506,1681 514,1650 516,1646 522,1645 524,1648 530,1678 532,1681 538,1676 540,1675 542,1677 548,1693 550,1697 552,1697 576,1694 602,1672 614,1655 622,1650 624,1651 628,1658 630,1666 640,1725 642,1724 648,1695 658,1668 660,1665 670,1655 672,1653 674,1653 680,1658 682,1661 690,1687 696,1700 702,1709 710,1716 716,1719 718,1722 722,1727 738,1757 740,1759 752,1766 772,1783 774,1783 776,1778 782,1757 792,1732 802,1713 810,1680 816,1661 818,1658 824,1667 826,1667 844,1645 858,1636 862,1634 876,1632 916,1637 964,1635 972,1634 982,1628 994,1623 1000,1623 1000,2153Z" fill="#00ff00"/>
<path class="c" d="M168,2153 168,1721 174,1721 176,1719 190,1696 202,1687 214,1686 216,1689 218,1696 232,1751 238,1765 240,1766 254,1720 256,1717 258,1718 272,1738 282,1743 284,1741 304,1701 306,1700 308,1704 314,1721 322,1771 324,1775 342,1711 352,1692 378,1660 380,1659 382,1662 386,1673 390,1686 398,1730 406,1785 408,1788 422,1696 424,1687 426,1685 438,1680 444,1676 446,1677 448,1684 460,1752 462,1758 464,1752 476,1675 478,1676 486,1707 488,1711 494,1719 496,1719 506,1698 514,1662 516,1659 522,1667 524,1675 530,1726 532,1731 540,1704 542,1701 544,1703 548,1716 550,1720 552,1719 576,1709 602,1688 614,1670 620,1669 622,1670 624,1675 628,1691 638,1744 640,1743 648,1713 658,1693 670,1683 672,1681 674,1681 680,1685 682,1690 690,1725 692,1729 700,1741 702,1743 714,1739 716,1739 726,1753 738,1776 740,1778 750,1778 772,1799 774,1799 776,1795 784,1764 792,1741 794,1737 800,1729 802,1724 810,1689 816,1671 818,1668 824,1679 826,1679 844,1653 860,1642 876,1640 892,1642 912,1642 940,1646 970,1641 982,1635 994,1631 1000,1631 1000,2153Z" fill="#00cc33"/>
<path class="c" d="M168,2153 168,1765 174,1765 176,1761 180,1745 188,1723 202,1702 204,1700 214,1700 216,1704 226,1747 232,1764 238,1776 240,1777 242,1776 250,1741 254,1730 256,1727 258,1727 262,1733 272,1749 282,1756 284,1756 296,1735 304,1723 306,1722 310,1724 312,1730 322,1798 324,1806 326,1805 338,1752 344,1732 360,1699 378,1678 380,1677 382,1680 390,1709 404,1790 406,1800 408,1804 410,1797 414,1774 422,1709 424,1699 426,1698 436,1694 444,1688 446,1689 448,1696 460,1764 462,1769 464,1765 466,1755 476,1689 478,1689 484,1715 488,1728 490,1731 494,1734 496,1733 502,1725 506,1714 516,1670 518,1672 522,1687 530,1742 532,1745 540,1718 542,1714 544,1717 548,1730 550,1734 552,1734 576,1721 586,1712 598,1708 604,1700 612,1686 614,1684 616,1683 622,1687 624,1692 638,1756 640,1757 648,1730 656,1715 660,1711 672,1704 678,1705 680,1706 682,1712 690,1747 694,1756 696,1758 702,1759 714,1752 716,1752 718,1753 734,1787 736,1789 740,1790 746,1788 750,1789 762,1800 774,1808 776,1807 780,1797 786,1767 790,1752 792,1747 800,1738 802,1734 812,1693 816,1681 818,1679 824,1690 826,1692 830,1692 834,1686 844,1664 852,1654 860,1648 890,1650 914,1648 940,1656 952,1654 964,1649 994,1639 1000,1639 1000,2153Z" fill="#009966"/>
<path d="M168,2153 168,1809 174,1809 176,1803 182,1769 188,1747 202,1717 204,1715 214,1714 216,1719 220,1743 226,1767 234,1780 242,1790 244,1784 250,1750 252,1743 256,1737 258,1736 264,1744 270,1757 284,1771 286,1769 296,1753 310,1739 312,1745 324,1838 326,1843 338,1781 344,1756 352,1742 360,1717 362,1713 372,1703 378,1695 380,1694 382,1699 390,1731 404,1808 408,1819 410,1816 414,1795 422,1722 424,1712 426,1710 436,1707 444,1700 446,1700 450,1718 458,1767 460,1776 462,1780 464,1778 466,1770 476,1702 478,1703 488,1745 490,1749 492,1750 500,1745 502,1742 504,1738 510,1715 516,1681 518,1682 528,1747 530,1758 532,1759 540,1731 542,1727 544,1730 548,1744 550,1748 552,1748 576,1733 586,1724 598,1724 612,1700 614,1698 616,1698 622,1704 624,1709 634,1754 638,1769 640,1772 648,1747 654,1735 656,1733 678,1726 680,1727 682,1734 690,1769 694,1780 696,1781 706,1771 718,1765 720,1767 734,1805 736,1806 746,1799 748,1799 772,1816 778,1818 780,1815 786,1777 790,1758 792,1754 800,1748 802,1744 812,1703 816,1691 818,1690 826,1705 830,1710 832,1708 834,1703 844,1674 850,1664 858,1656 860,1655 874,1658 888,1659 914,1655 940,1667 952,1664 970,1654 982,1652 994,1648 1000,1648 1000,2153Z" fill="#006699"/>
<path d="M168,2153 168,1813 174,1813 176,1808 180,1785 188,1753 202,1726 204,1724 214,1724 216,1729 220,1752 226,1776 234,1793 240,1800 242,1801 244,1795 248,1771 252,1754 256,1747 258,1745 262,1748 270,1763 282,1781 284,1782 294,1765 304,1753 306,1752 310,1755 312,1762 324,1847 326,1853 344,1775 352,1759 362,1734 376,1715 380,1711 382,1714 384,1720 390,1745 404,1822 406,1830 408,1832 410,1827 414,1809 422,1744 424,1734 426,1732 434,1730 444,1724 446,1724 448,1729 450,1739 458,1790 462,1809 464,1808 466,1798 476,1730 478,1729 488,1764 490,1768 492,1768 500,1762 504,1755 508,1742 516,1705 518,1708 530,1773 532,1776 540,1748 542,1744 544,1745 548,1755 550,1757 574,1745 586,1735 598,1734 612,1709 614,1708 622,1716 624,1721 636,1772 638,1779 640,1782 642,1778 648,1759 654,1747 662,1741 678,1739 680,1741 688,1773 694,1790 696,1791 708,1777 718,1773 720,1776 732,1807 736,1814 740,1813 746,1810 750,1810 774,1830 776,1831 778,1829 780,1825 790,1776 792,1771 802,1755 816,1706 818,1703 820,1705 826,1716 830,1721 832,1718 844,1683 850,1673 858,1666 862,1665 876,1668 888,1670 914,1666 938,1679 942,1679 952,1677 970,1667 994,1661 1000,1661 1000,2153Z" fill="#0033cc"/>
<path d="M168,2153 168,1817 174,1817 176,1813 188,1760 200,1738 202,1735 204,1734 214,1735 216,1740 226,1786 234,1805 240,1811 242,1812 244,1806 252,1766 258,1754 260,1753 262,1755 282,1793 284,1793 296,1772 304,1761 306,1761 310,1771 312,1779 324,1857 326,1863 328,1859 342,1802 346,1789 362,1754 374,1734 380,1729 382,1729 384,1734 392,1767 406,1844 408,1845 414,1823 422,1765 424,1756 426,1755 444,1748 446,1748 448,1751 450,1759 460,1827 462,1838 464,1839 470,1793 476,1759 478,1755 488,1784 490,1787 492,1786 502,1777 504,1772 514,1732 516,1729 520,1742 530,1788 532,1792 534,1788 540,1765 542,1761 544,1761 550,1766 572,1756 586,1746 598,1744 612,1719 614,1718 622,1728 624,1733 638,1789 640,1793 642,1789 650,1766 654,1759 660,1752 664,1751 678,1751 680,1755 688,1785 694,1799 696,1801 708,1785 718,1782 720,1784 732,1815 736,1822 738,1824 740,1824 746,1821 750,1820 774,1843 776,1843 780,1835 790,1794 802,1766 818,1716 820,1716 828,1729 830,1731 832,1728 844,1693 852,1680 858,1676 862,1674 876,1679 890,1681 914,1678 918,1679 932,1688 942,1693 952,1690 972,1679 994,1674 1000,1674 1000,2153Z" fill="#0000ff"/>
<path d="M168,2153 168,1821 174,1821 176,1817 188,1766 190,1761 200,1747 202,1745 204,1744 214,1746 216,1750 226,1796 234,1817 240,1822 242,1823 244,1817 252,1777 258,1762 260,1760 262,1762 270,1776 282,1804 284,1804 294,1784 304,1769 306,1770 312,1796 324,1867 326,1874 328,1871 344,1814 348,1802 374,1751 376,1748 382,1744 384,1748 394,1790 406,1859 408,1858 414,1837 422,1787 424,1779 426,1777 436,1773 448,1772 450,1779 462,1868 464,1869 470,1817 476,1787 478,1781 480,1784 488,1804 490,1805 502,1794 504,1790 514,1753 516,1753 532,1808 534,1805 540,1782 542,1778 572,1767 586,1758 598,1754 612,1728 614,1728 624,1745 638,1799 640,1803 642,1800 650,1778 660,1763 662,1761 676,1763 678,1764 680,1769 688,1797 694,1809 696,1811 698,1808 708,1792 718,1790 720,1793 730,1818 738,1834 740,1835 748,1831 750,1830 752,1831 762,1842 774,1856 776,1856 796,1793 808,1762 818,1730 820,1728 828,1740 830,1742 832,1738 842,1707 848,1694 852,1688 862,1684 876,1689 890,1692 906,1689 916,1689 930,1700 942,1706 956,1701 972,1692 994,1687 1000,1687 1000,2153Z" fill="#1f14ff"/>
<path d="M168,2153 168,1840 174,1840 176,1837 188,1791 190,1787 202,1771 204,1770 214,1778 216,1781 228,1829 234,1841 242,1847 244,1843 250,1819 254,1808 256,1807 260,1809 266,1821 276,1836 278,1837 282,1836 284,1832 290,1817 298,1800 300,1797 302,1797 304,1799 306,1803 308,1810 324,1879 326,1884 328,1882 346,1841 362,1815 374,1785 380,1775 382,1775 384,1781 404,1867 406,1873 408,1870 414,1849 424,1803 432,1792 436,1792 444,1794 446,1795 448,1798 462,1878 464,1877 470,1841 478,1812 480,1811 484,1813 490,1823 494,1823 496,1821 504,1809 514,1784 516,1783 522,1797 532,1835 534,1833 540,1811 542,1806 544,1804 574,1797 596,1783 602,1775 612,1755 614,1752 616,1754 624,1769 638,1824 640,1826 652,1795 660,1783 662,1782 664,1783 676,1788 678,1790 688,1829 692,1839 696,1844 698,1843 700,1840 708,1826 712,1824 718,1825 722,1831 734,1856 738,1859 740,1859 748,1857 752,1858 760,1864 774,1879 776,1879 788,1846 808,1803 818,1770 820,1767 828,1775 830,1776 832,1773 842,1745 852,1729 862,1724 876,1724 890,1727 906,1723 914,1722 918,1723 930,1731 940,1735 944,1736 962,1732 972,1725 994,1713 1000,1713 1000,2153Z" fill="#3d29ff"/>
<path d="M168,2153 168,1864 174,1864 176,1861 188,1823 190,1819 202,1802 204,1803 216,1820 228,1862 230,1866 242,1877 244,1875 252,1855 254,1852 256,1856 266,1886 268,1888 276,1892 278,1889 290,1846 298,1826 300,1824 302,1828 312,1865 324,1894 326,1897 328,1896 338,1887 352,1878 362,1865 378,1814 380,1810 382,1813 396,1867 404,1887 406,1890 408,1885 420,1843 430,1817 432,1814 434,1814 444,1820 446,1823 460,1891 462,1892 482,1839 484,1837 494,1848 496,1848 508,1824 510,1821 520,1822 522,1827 532,1869 534,1867 544,1836 546,1835 574,1835 578,1833 590,1823 602,1809 606,1802 614,1782 616,1780 626,1804 638,1854 640,1853 650,1824 660,1809 662,1808 676,1819 678,1822 690,1876 692,1880 696,1884 698,1886 700,1884 708,1868 710,1865 712,1865 720,1869 722,1871 732,1891 734,1892 742,1888 746,1888 758,1892 774,1908 776,1908 788,1878 798,1870 808,1854 812,1843 818,1819 820,1815 830,1817 832,1815 842,1793 854,1778 876,1767 892,1769 912,1761 916,1762 930,1770 962,1775 994,1745 1000,1745 1000,2153Z" fill="#5c3dff"/>
<path d="M168,2153 168,1956 174,1956 176,1955 180,1949 186,1933 196,1896 202,1881 204,1881 226,1927 234,1935 246,1938 250,1938 266,1933 280,1938 290,1931 292,1925 296,1900 298,1895 306,1908 314,1934 316,1937 324,1943 326,1943 328,1943 338,1936 350,1933 364,1935 366,1935 378,1917 380,1918 398,1959 404,1965 406,1966 408,1963 424,1932 434,1925 436,1928 452,1973 460,1988 462,1988 470,1978 476,1974 478,1974 486,1980 488,1980 494,1974 500,1939 502,1932 508,1930 510,1932 522,1958 530,1970 534,1974 544,1982 548,1984 574,1979 576,1974 582,1943 590,1936 604,1927 614,1917 616,1917 624,1928 630,1944 638,1955 640,1955 646,1951 660,1931 666,1925 668,1926 682,1961 686,1969 692,1975 694,1975 704,1970 714,1972 716,1974 718,1978 728,2002 736,2013 746,2018 748,2018 762,2005 776,2007 790,1991 792,1991 804,1998 818,1999 832,1991 848,1979 858,1981 874,1990 888,1984 912,1971 930,1967 946,1970 960,1976 974,1984 984,1987 986,1986 994,1980 1000,1980 1000,2153Z" fill="#7a52ff"/>
<path d="M174,1809 176,1803 182,1769 188,1747 202,1717 204,1715 214,1714 216,1719 220,1743 226,1767 234,1780 242,1790 244,1784 250,1750 252,1743 256,1737 258,1736 264,1744 270,1757 284,1771 286,1769 296,1753 310,1739 312,1745 324,1838 326,1843 338,1781 344,1756 352,1742 360,1717 362,1713 372,1703 378,1695 380,1694 382,1699 390,1731 404,1808 408,1819 410,1816 414,1795 422,1722 424,1712 426,1710 436,1707 444,1700 446,1700 450,1718 458,1767 460,1776 462,1780 464,1778 466,1770 476,1702 478,1703 488,1745 490,1749 492,1750 500,1745 502,1742 504,1738 510,1715 516,1681 518,1682 528,1747 530,1758 532,1759 540,1731 542,1727 544,1730 548,1744 550,1748 552,1748 576,1733 586,1724 598,1724 612,1700 614,1698 616,1698 622,1704 624,1709 634,1754 638,1769 640,1772 648,1747 654,1735 656,1733 678,1726 680,1727 682,1734 690,1769 694,1780 696,1781 706,1771 718,1765 720,1767 734,1805 736,1806 746,1799 748,1799 772,1816 778,1818 780,1815 786,1777 790,1758 792,1754 800,1748 802,1744 812,1703 816,1691 818,1690 826,1705 830,1710 832,1708 834,1703 844,1674 850,1664 858,1656 860,1655 874,1658 888,1659 914,1655 940,1667 952,1664 970,1654 982,1652 994,1648" fill="none" stroke="#000" stroke-width="3.6" stroke-linejoin="round"/>
</svg>
<svg x="1068" y="1560" width="819" height="584" viewBox="1068 1560 819 584" overflow="hidden">
<rect x="1068.0" y="1560.0" width="819.0" height="584.0" fill="#ff2b00"/>
<path class="c" d="M1062,2156 1062,1552 1068,1552 1142,1552 1144,1553 1156,1563 1184,1566 1212,1558 1220,1552 1222,1552 1274,1552 1300,1569 1328,1566 1356,1560 1384,1560 1414,1577 1478,1594 1508,1592 1536,1592 1566,1597 1650,1606 1708,1595 1738,1603 1766,1606 1794,1603 1824,1606 1852,1603 1866,1600 1887,1606 1893,1606 1893,2156Z" fill="#ff4000"/>
<path class="c" d="M1062,2156 1062,1563 1068,1563 1154,1580 1184,1583 1212,1578 1242,1566 1258,1563 1260,1565 1270,1579 1272,1581 1326,1591 1354,1594 1384,1589 1386,1589 1412,1605 1416,1606 1480,1609 1536,1603 1566,1612 1650,1620 1680,1612 1708,1606 1738,1617 1766,1620 1794,1618 1824,1626 1852,1617 1866,1612 1887,1617 1893,1617 1893,2156Z" fill="#ff5500"/>
<path class="c" d="M1062,2156 1062,1595 1068,1595 1098,1597 1128,1597 1156,1600 1184,1606 1212,1603 1242,1595 1272,1603 1354,1611 1384,1609 1412,1622 1416,1623 1478,1622 1496,1624 1514,1618 1538,1612 1560,1618 1572,1623 1592,1627 1624,1628 1650,1632 1654,1631 1680,1621 1708,1615 1710,1615 1738,1632 1794,1629 1828,1644 1832,1643 1866,1621 1868,1621 1887,1626 1893,1626 1893,2156Z" fill="#ff6b00"/>
<path class="c" d="M1062,2156 1062,1606 1068,1606 1184,1617 1212,1615 1242,1606 1270,1614 1326,1620 1384,1620 1414,1634 1478,1635 1496,1643 1498,1642 1514,1629 1538,1620 1558,1623 1562,1625 1572,1635 1592,1640 1596,1640 1624,1638 1650,1643 1654,1642 1680,1629 1708,1623 1722,1628 1738,1646 1766,1641 1794,1640 1812,1649 1828,1662 1830,1662 1846,1649 1866,1630 1868,1629 1887,1634 1893,1634 1893,2156Z" fill="#ff8000"/>
<path class="c" d="M1062,2156 1062,1635 1068,1635 1092,1637 1094,1636 1108,1620 1110,1619 1122,1629 1136,1626 1140,1627 1170,1643 1184,1646 1202,1643 1218,1635 1236,1624 1262,1644 1266,1646 1294,1635 1314,1635 1334,1632 1356,1635 1384,1633 1402,1638 1414,1657 1428,1663 1468,1635 1496,1655 1498,1655 1514,1642 1538,1630 1556,1632 1558,1633 1568,1645 1570,1646 1594,1650 1622,1644 1624,1644 1638,1652 1650,1653 1654,1652 1668,1646 1682,1639 1708,1632 1722,1637 1724,1639 1734,1659 1736,1660 1750,1660 1766,1652 1780,1648 1794,1649 1812,1659 1828,1674 1830,1674 1846,1659 1864,1637 1887,1640 1893,1640 1893,2156Z" fill="#ffa000"/>
<path class="c" d="M1062,2156 1062,1721 1068,1721 1070,1720 1082,1706 1084,1702 1092,1667 1096,1657 1100,1650 1108,1642 1110,1641 1122,1652 1140,1649 1156,1655 1170,1663 1184,1669 1202,1663 1232,1638 1234,1638 1246,1648 1262,1663 1294,1652 1332,1646 1356,1649 1384,1646 1402,1652 1414,1672 1426,1679 1428,1680 1468,1647 1470,1648 1496,1668 1498,1668 1516,1653 1538,1640 1556,1640 1558,1642 1568,1656 1570,1658 1594,1660 1610,1655 1622,1649 1624,1650 1638,1660 1654,1663 1668,1663 1680,1650 1682,1648 1708,1641 1710,1641 1722,1646 1724,1648 1734,1673 1736,1675 1748,1680 1750,1680 1766,1664 1778,1656 1782,1655 1796,1658 1812,1669 1828,1685 1830,1685 1846,1669 1864,1644 1887,1646 1893,1646 1893,2156Z" fill="#ffc000"/>
<path class="c" d="M1062,2156 1062,1732 1068,1732 1070,1731 1082,1720 1084,1716 1090,1686 1096,1668 1100,1660 1108,1651 1110,1650 1120,1662 1122,1663 1136,1660 1140,1660 1156,1666 1170,1675 1184,1680 1202,1674 1224,1652 1234,1644 1238,1647 1262,1673 1278,1669 1294,1662 1314,1659 1332,1655 1356,1657 1386,1655 1398,1658 1400,1660 1414,1684 1420,1689 1428,1692 1432,1690 1468,1656 1470,1656 1496,1680 1498,1679 1514,1665 1536,1648 1554,1646 1556,1647 1558,1651 1566,1670 1570,1673 1578,1674 1594,1670 1610,1663 1622,1655 1624,1656 1636,1670 1652,1673 1666,1673 1670,1672 1682,1658 1694,1652 1708,1646 1710,1647 1722,1654 1724,1658 1734,1695 1736,1699 1744,1709 1746,1710 1748,1708 1756,1687 1760,1679 1768,1669 1780,1662 1796,1665 1812,1676 1828,1693 1830,1694 1846,1681 1864,1651 1874,1650 1887,1652 1893,1652 1893,2156Z" fill="#ffdf00"/>
<path class="c" d="M1062,2156 1062,1744 1068,1744 1082,1734 1084,1729 1090,1698 1098,1673 1108,1660 1110,1659 1120,1673 1122,1674 1136,1670 1140,1670 1170,1686 1184,1692 1200,1687 1202,1685 1224,1658 1234,1650 1236,1650 1238,1652 1248,1667 1262,1683 1278,1681 1294,1672 1314,1669 1332,1664 1356,1666 1386,1664 1398,1666 1400,1668 1408,1686 1418,1701 1420,1703 1428,1703 1432,1702 1468,1664 1470,1665 1496,1691 1498,1691 1514,1675 1536,1656 1538,1655 1554,1652 1556,1654 1566,1685 1568,1687 1576,1689 1578,1689 1594,1681 1622,1661 1624,1662 1632,1676 1636,1681 1652,1683 1668,1683 1670,1682 1680,1670 1692,1660 1696,1657 1708,1652 1710,1653 1722,1662 1724,1667 1736,1723 1744,1739 1746,1741 1748,1736 1758,1693 1770,1674 1780,1669 1782,1669 1796,1673 1812,1683 1828,1702 1830,1703 1846,1692 1864,1658 1876,1655 1887,1657 1893,1657 1893,2156Z" fill="#ffff00"/>
<path class="c" d="M1062,2156 1062,1754 1068,1754 1070,1753 1082,1742 1084,1738 1090,1706 1098,1681 1108,1667 1110,1666 1120,1681 1122,1683 1136,1678 1140,1678 1170,1695 1184,1700 1200,1695 1202,1694 1224,1666 1234,1658 1236,1657 1238,1660 1248,1675 1262,1691 1278,1689 1294,1680 1332,1672 1356,1675 1386,1671 1398,1674 1400,1677 1408,1697 1418,1714 1420,1716 1430,1718 1432,1716 1468,1674 1470,1675 1496,1702 1498,1702 1514,1686 1536,1668 1554,1662 1556,1665 1566,1700 1568,1701 1576,1704 1578,1704 1594,1694 1622,1673 1624,1674 1632,1688 1636,1692 1652,1696 1668,1693 1680,1678 1694,1665 1708,1659 1710,1660 1722,1671 1724,1677 1734,1733 1736,1739 1744,1754 1746,1755 1748,1750 1758,1707 1770,1684 1780,1680 1782,1679 1796,1683 1812,1695 1828,1716 1830,1717 1846,1706 1860,1674 1864,1668 1876,1664 1887,1667 1893,1667 1893,2156Z" fill="#ccff00"/>
<path class="c" d="M1062,2156 1062,1764 1068,1764 1070,1763 1082,1751 1084,1747 1090,1715 1098,1688 1100,1684 1108,1674 1110,1673 1120,1690 1122,1691 1136,1687 1140,1687 1170,1703 1184,1709 1200,1704 1202,1703 1212,1690 1224,1673 1234,1665 1236,1665 1238,1667 1248,1684 1262,1700 1278,1698 1294,1689 1314,1683 1334,1681 1356,1683 1386,1678 1398,1683 1400,1686 1408,1709 1418,1727 1420,1729 1430,1732 1432,1731 1468,1685 1470,1685 1482,1697 1496,1714 1498,1714 1514,1698 1536,1681 1554,1673 1556,1675 1566,1714 1568,1716 1576,1720 1578,1720 1622,1684 1624,1685 1632,1699 1636,1704 1652,1709 1668,1704 1680,1687 1694,1673 1708,1667 1710,1667 1722,1679 1724,1686 1734,1750 1744,1768 1746,1769 1748,1764 1758,1721 1768,1697 1770,1695 1780,1690 1782,1689 1796,1693 1812,1706 1828,1730 1830,1731 1846,1721 1860,1683 1862,1680 1874,1673 1876,1672 1887,1677 1893,1677 1893,2156Z" fill="#99ff00"/>
<path class="c" d="M1062,2156 1062,1774 1068,1774 1070,1773 1082,1761 1084,1757 1090,1728 1098,1698 1100,1694 1108,1684 1110,1684 1120,1704 1122,1706 1136,1699 1140,1698 1170,1715 1184,1720 1200,1715 1202,1714 1212,1700 1224,1681 1234,1673 1236,1673 1238,1676 1250,1697 1260,1709 1264,1710 1280,1709 1294,1700 1314,1692 1334,1689 1356,1693 1376,1687 1386,1685 1390,1687 1398,1694 1400,1698 1408,1723 1418,1741 1420,1743 1430,1745 1432,1743 1462,1701 1468,1696 1470,1696 1472,1698 1482,1711 1496,1728 1498,1728 1510,1711 1524,1700 1538,1692 1552,1689 1554,1689 1556,1693 1564,1726 1568,1733 1574,1738 1576,1738 1588,1728 1604,1709 1616,1702 1622,1701 1624,1702 1634,1718 1638,1721 1650,1724 1654,1724 1664,1718 1668,1715 1678,1699 1694,1684 1708,1679 1710,1680 1720,1694 1724,1711 1728,1739 1732,1759 1734,1766 1738,1774 1740,1777 1742,1778 1746,1775 1748,1770 1758,1735 1762,1725 1768,1716 1784,1704 1788,1702 1796,1700 1800,1700 1802,1702 1812,1714 1822,1733 1826,1739 1830,1742 1836,1742 1844,1738 1848,1734 1852,1727 1862,1696 1866,1690 1872,1683 1874,1681 1876,1681 1887,1687 1893,1687 1893,2156Z" fill="#66ff00"/>
<path class="c" d="M1062,2156 1062,1784 1068,1784 1070,1783 1082,1771 1084,1767 1098,1709 1100,1704 1108,1694 1110,1694 1120,1718 1122,1720 1136,1711 1140,1710 1170,1726 1184,1732 1200,1727 1202,1725 1212,1711 1224,1690 1234,1682 1236,1682 1238,1685 1248,1704 1260,1719 1264,1721 1280,1720 1314,1701 1334,1698 1356,1703 1376,1695 1386,1692 1388,1693 1398,1705 1408,1737 1418,1756 1420,1758 1428,1758 1430,1758 1432,1756 1462,1710 1464,1709 1470,1707 1472,1708 1484,1728 1496,1742 1498,1741 1506,1725 1510,1720 1526,1709 1538,1704 1552,1703 1554,1705 1556,1712 1562,1740 1564,1745 1574,1757 1576,1756 1588,1744 1602,1722 1604,1720 1612,1716 1616,1716 1626,1721 1638,1738 1650,1740 1652,1740 1666,1729 1676,1712 1680,1707 1694,1695 1708,1692 1710,1694 1718,1706 1720,1710 1730,1774 1740,1793 1742,1791 1762,1739 1764,1737 1774,1732 1786,1716 1798,1706 1800,1704 1802,1705 1810,1717 1824,1749 1838,1757 1850,1751 1852,1748 1864,1707 1872,1692 1874,1690 1876,1690 1887,1697 1893,1697 1893,2156Z" fill="#33ff00"/>
<path class="c" d="M1062,2156 1062,1799 1068,1799 1082,1790 1084,1786 1098,1728 1100,1722 1108,1708 1110,1707 1112,1711 1120,1735 1122,1738 1126,1737 1132,1732 1136,1727 1138,1725 1140,1725 1154,1729 1172,1737 1182,1739 1186,1739 1198,1735 1202,1733 1212,1718 1224,1696 1234,1688 1236,1689 1246,1709 1254,1720 1262,1728 1268,1730 1280,1729 1314,1707 1332,1705 1346,1711 1356,1711 1376,1701 1384,1698 1388,1698 1390,1700 1398,1715 1410,1754 1416,1764 1420,1766 1432,1761 1436,1758 1462,1720 1468,1716 1470,1716 1472,1717 1476,1724 1484,1742 1496,1755 1498,1754 1500,1751 1510,1730 1514,1725 1538,1711 1546,1711 1552,1713 1554,1715 1556,1722 1562,1751 1564,1757 1570,1765 1574,1767 1588,1753 1602,1731 1608,1724 1614,1722 1616,1722 1624,1727 1638,1747 1642,1748 1652,1747 1662,1743 1666,1740 1672,1731 1678,1718 1684,1711 1696,1702 1708,1699 1714,1706 1720,1718 1730,1785 1734,1795 1740,1804 1742,1803 1748,1790 1762,1747 1764,1746 1774,1742 1788,1720 1792,1715 1798,1711 1800,1710 1802,1710 1810,1723 1824,1757 1830,1763 1836,1767 1838,1767 1846,1763 1852,1758 1856,1747 1864,1717 1872,1698 1874,1695 1876,1696 1887,1704 1893,1704 1893,2156Z" fill="#00ff00"/>
<path class="c" d="M1062,2156 1062,1815 1068,1815 1082,1808 1084,1805 1098,1747 1104,1730 1108,1722 1110,1721 1112,1725 1120,1753 1122,1756 1124,1757 1126,1756 1130,1753 1136,1743 1138,1741 1140,1740 1146,1740 1170,1746 1182,1748 1186,1747 1198,1743 1202,1740 1210,1730 1222,1704 1226,1700 1234,1694 1236,1695 1246,1718 1250,1724 1260,1735 1268,1738 1280,1738 1290,1732 1302,1721 1314,1713 1324,1712 1330,1712 1346,1720 1354,1720 1360,1718 1370,1710 1376,1706 1382,1704 1388,1703 1392,1710 1398,1725 1410,1766 1414,1773 1416,1775 1418,1775 1422,1774 1428,1767 1430,1766 1436,1766 1438,1764 1462,1730 1468,1725 1470,1724 1474,1728 1486,1758 1494,1766 1496,1767 1498,1766 1502,1761 1510,1740 1514,1733 1522,1730 1532,1722 1540,1718 1548,1719 1554,1725 1564,1769 1570,1777 1572,1778 1574,1778 1590,1759 1604,1736 1608,1731 1616,1729 1624,1734 1626,1736 1636,1753 1640,1756 1652,1754 1662,1753 1666,1751 1670,1746 1678,1727 1684,1718 1696,1709 1704,1706 1708,1706 1714,1712 1720,1726 1730,1796 1734,1807 1736,1811 1740,1815 1742,1814 1748,1804 1760,1760 1762,1756 1774,1752 1776,1750 1788,1726 1794,1719 1800,1715 1802,1715 1804,1718 1812,1732 1824,1764 1830,1773 1834,1776 1838,1777 1848,1772 1852,1768 1854,1765 1858,1752 1866,1720 1872,1703 1874,1701 1876,1701 1887,1711 1893,1711 1893,2156Z" fill="#00cc33"/>
<path class="c" d="M1062,2156 1062,1831 1068,1831 1082,1827 1084,1824 1098,1766 1104,1746 1108,1736 1110,1734 1112,1739 1120,1771 1122,1774 1124,1776 1126,1776 1130,1772 1138,1756 1144,1753 1184,1756 1200,1749 1210,1738 1222,1710 1228,1704 1234,1701 1236,1702 1246,1726 1250,1733 1256,1740 1260,1744 1266,1747 1270,1748 1278,1747 1288,1742 1302,1728 1314,1720 1324,1718 1330,1718 1340,1727 1346,1730 1350,1730 1358,1727 1372,1714 1382,1709 1388,1708 1390,1710 1396,1728 1408,1773 1414,1785 1416,1787 1422,1781 1428,1771 1430,1770 1436,1774 1438,1773 1462,1739 1468,1733 1470,1733 1474,1737 1486,1772 1494,1779 1498,1779 1502,1775 1512,1744 1514,1741 1522,1740 1532,1730 1540,1725 1548,1727 1554,1734 1564,1781 1570,1789 1572,1789 1590,1768 1608,1737 1616,1735 1624,1741 1628,1747 1634,1759 1636,1762 1640,1765 1652,1760 1662,1764 1664,1764 1670,1758 1672,1755 1678,1736 1684,1725 1696,1716 1704,1712 1708,1712 1714,1717 1720,1735 1730,1806 1734,1820 1736,1823 1740,1825 1742,1825 1744,1823 1748,1817 1760,1768 1762,1764 1774,1762 1776,1760 1790,1729 1794,1724 1800,1721 1802,1720 1804,1722 1812,1738 1824,1772 1830,1783 1836,1786 1844,1784 1848,1782 1852,1778 1856,1771 1868,1721 1872,1708 1874,1706 1876,1706 1887,1719 1893,1719 1893,2156Z" fill="#009966"/>
<path d="M1062,2156 1062,1847 1068,1847 1082,1846 1084,1843 1104,1761 1108,1750 1110,1748 1112,1753 1120,1788 1124,1795 1126,1795 1130,1791 1138,1771 1144,1767 1154,1765 1170,1765 1184,1764 1196,1759 1200,1757 1210,1746 1222,1715 1230,1708 1234,1707 1236,1708 1246,1735 1250,1741 1258,1751 1266,1756 1270,1756 1278,1756 1288,1751 1292,1747 1302,1735 1314,1726 1324,1724 1330,1725 1340,1736 1348,1740 1360,1734 1372,1720 1382,1714 1388,1713 1390,1716 1394,1729 1408,1785 1414,1798 1416,1798 1422,1789 1428,1776 1430,1774 1436,1782 1438,1782 1468,1742 1470,1742 1474,1745 1476,1750 1482,1775 1486,1786 1494,1792 1500,1790 1502,1789 1504,1784 1512,1753 1514,1749 1522,1749 1532,1737 1540,1733 1548,1735 1554,1744 1556,1751 1560,1777 1564,1793 1566,1797 1570,1801 1572,1801 1592,1774 1600,1760 1608,1744 1616,1742 1618,1742 1624,1748 1626,1750 1634,1768 1636,1771 1640,1774 1652,1767 1662,1774 1664,1774 1670,1770 1672,1767 1678,1745 1684,1732 1694,1724 1706,1718 1714,1723 1716,1728 1722,1753 1728,1805 1732,1826 1734,1832 1736,1835 1742,1836 1744,1836 1748,1831 1750,1825 1760,1776 1762,1772 1774,1772 1776,1769 1790,1734 1794,1729 1802,1726 1804,1727 1812,1744 1820,1770 1828,1789 1830,1793 1834,1796 1836,1796 1846,1794 1856,1783 1870,1720 1872,1714 1874,1711 1876,1712 1887,1726 1893,1726 1893,2156Z" fill="#006699"/>
<path d="M1062,2156 1062,1863 1068,1863 1080,1861 1082,1859 1084,1855 1104,1777 1108,1766 1110,1764 1112,1767 1120,1798 1124,1803 1126,1805 1130,1800 1138,1783 1146,1777 1154,1775 1184,1777 1194,1775 1198,1773 1206,1765 1210,1759 1222,1729 1228,1722 1232,1720 1234,1719 1236,1721 1246,1744 1254,1755 1260,1761 1266,1764 1270,1764 1278,1764 1286,1759 1292,1754 1302,1743 1314,1734 1322,1732 1328,1732 1332,1734 1340,1742 1346,1746 1350,1746 1360,1741 1370,1730 1376,1725 1382,1722 1388,1721 1390,1724 1394,1738 1408,1789 1414,1802 1416,1803 1422,1795 1428,1782 1430,1781 1436,1784 1438,1784 1466,1751 1468,1750 1470,1750 1474,1754 1476,1760 1480,1775 1486,1792 1488,1794 1492,1796 1494,1797 1500,1796 1502,1795 1504,1790 1512,1763 1514,1760 1522,1756 1532,1745 1538,1740 1542,1740 1548,1742 1550,1744 1554,1752 1562,1790 1566,1801 1570,1806 1572,1805 1592,1781 1598,1770 1606,1752 1608,1750 1616,1747 1618,1748 1626,1756 1634,1772 1640,1780 1642,1779 1650,1773 1652,1773 1662,1780 1664,1780 1670,1776 1672,1773 1680,1749 1684,1739 1696,1729 1704,1725 1708,1725 1714,1732 1720,1750 1728,1812 1732,1832 1736,1842 1738,1843 1742,1844 1744,1843 1746,1841 1748,1837 1760,1785 1762,1780 1764,1779 1774,1779 1776,1776 1788,1747 1794,1738 1802,1732 1804,1733 1812,1749 1822,1780 1828,1795 1834,1801 1838,1802 1848,1799 1852,1795 1856,1788 1870,1729 1874,1719 1876,1719 1887,1732 1893,1732 1893,2156Z" fill="#0033cc"/>
<path d="M1062,2156 1062,1879 1068,1879 1080,1875 1082,1873 1086,1861 1104,1792 1110,1779 1112,1781 1120,1807 1126,1814 1128,1813 1130,1810 1138,1795 1144,1790 1150,1786 1166,1787 1184,1790 1196,1790 1208,1776 1222,1744 1228,1735 1230,1733 1232,1732 1236,1733 1238,1735 1248,1757 1254,1764 1260,1769 1270,1773 1278,1771 1284,1768 1302,1751 1314,1742 1324,1740 1328,1740 1340,1749 1350,1753 1360,1749 1372,1737 1378,1732 1386,1728 1388,1729 1392,1740 1406,1789 1412,1802 1416,1808 1418,1807 1428,1789 1430,1787 1436,1787 1438,1786 1464,1761 1470,1757 1472,1759 1474,1763 1482,1788 1488,1800 1494,1802 1502,1800 1512,1773 1514,1770 1522,1763 1538,1747 1540,1746 1542,1746 1550,1751 1552,1754 1562,1794 1566,1806 1568,1810 1570,1811 1594,1785 1606,1758 1608,1756 1616,1753 1618,1753 1626,1763 1636,1780 1640,1785 1642,1785 1650,1779 1652,1779 1662,1786 1664,1786 1670,1782 1674,1776 1684,1747 1694,1736 1704,1732 1708,1732 1710,1734 1714,1741 1720,1757 1730,1831 1736,1848 1738,1850 1742,1851 1744,1851 1746,1849 1748,1844 1756,1810 1762,1789 1764,1786 1774,1785 1776,1783 1786,1760 1790,1752 1794,1747 1802,1739 1804,1739 1806,1742 1814,1760 1824,1792 1828,1802 1834,1807 1838,1808 1850,1804 1854,1798 1858,1786 1872,1731 1874,1726 1876,1727 1887,1739 1893,1739 1893,2156Z" fill="#0000ff"/>
<path d="M1062,2156 1062,1895 1068,1895 1080,1890 1082,1886 1104,1808 1110,1795 1112,1795 1118,1813 1120,1817 1126,1823 1128,1822 1140,1805 1150,1796 1166,1798 1186,1804 1194,1806 1196,1806 1206,1794 1220,1761 1228,1747 1230,1745 1232,1744 1238,1746 1248,1767 1258,1777 1270,1781 1284,1775 1300,1760 1314,1749 1328,1747 1340,1755 1350,1760 1352,1760 1362,1755 1376,1741 1386,1736 1388,1737 1390,1742 1406,1794 1416,1813 1418,1813 1426,1799 1430,1794 1470,1764 1472,1767 1480,1790 1488,1805 1490,1807 1502,1806 1512,1783 1522,1770 1538,1754 1540,1753 1542,1753 1550,1757 1552,1761 1562,1799 1568,1816 1570,1817 1594,1792 1604,1768 1608,1763 1616,1759 1618,1759 1628,1771 1640,1791 1642,1791 1650,1785 1652,1784 1662,1791 1664,1792 1674,1784 1684,1754 1692,1744 1696,1740 1708,1738 1710,1740 1720,1764 1730,1838 1736,1854 1738,1857 1740,1858 1744,1858 1746,1857 1756,1817 1762,1797 1764,1793 1774,1792 1776,1790 1786,1768 1802,1746 1804,1745 1806,1748 1814,1764 1826,1804 1828,1808 1838,1815 1850,1810 1852,1809 1862,1778 1872,1739 1874,1734 1876,1734 1887,1746 1893,1746 1893,2156Z" fill="#1f14ff"/>
<path d="M1062,2156 1062,1917 1068,1917 1080,1911 1082,1908 1102,1849 1106,1841 1110,1837 1112,1837 1120,1851 1126,1855 1128,1854 1138,1834 1150,1821 1164,1821 1184,1827 1192,1829 1194,1829 1198,1824 1206,1811 1226,1765 1230,1759 1232,1758 1238,1757 1240,1760 1248,1781 1260,1801 1264,1803 1270,1805 1274,1804 1284,1798 1302,1780 1312,1776 1316,1775 1328,1775 1344,1786 1350,1786 1362,1780 1378,1769 1386,1766 1388,1766 1390,1770 1404,1814 1412,1831 1414,1834 1416,1834 1426,1819 1438,1811 1464,1786 1466,1786 1470,1787 1472,1790 1480,1815 1484,1823 1488,1825 1494,1823 1502,1817 1512,1797 1524,1781 1538,1767 1542,1765 1550,1771 1552,1774 1564,1813 1568,1821 1570,1822 1578,1816 1592,1803 1596,1798 1606,1776 1610,1773 1616,1770 1618,1771 1622,1773 1624,1775 1638,1803 1640,1803 1642,1802 1650,1795 1652,1795 1662,1805 1664,1806 1674,1796 1684,1770 1690,1760 1696,1755 1708,1750 1710,1752 1720,1781 1730,1851 1736,1871 1738,1875 1740,1875 1746,1871 1748,1866 1758,1826 1762,1814 1764,1811 1774,1809 1776,1806 1786,1783 1802,1759 1804,1758 1806,1761 1816,1779 1826,1814 1830,1824 1838,1832 1844,1834 1852,1828 1856,1819 1860,1806 1868,1770 1874,1749 1876,1748 1887,1760 1893,1760 1893,2156Z" fill="#3d29ff"/>
<path d="M1062,2156 1062,1944 1068,1944 1080,1936 1082,1933 1092,1909 1104,1888 1106,1887 1114,1889 1126,1895 1128,1893 1138,1866 1140,1862 1150,1853 1164,1850 1180,1856 1192,1858 1194,1856 1206,1831 1226,1781 1228,1778 1238,1770 1240,1773 1252,1811 1260,1829 1262,1832 1264,1833 1272,1835 1274,1835 1288,1823 1302,1807 1316,1807 1330,1810 1344,1820 1346,1820 1360,1812 1388,1801 1390,1804 1400,1837 1412,1861 1414,1862 1424,1846 1426,1844 1436,1841 1438,1839 1464,1808 1466,1808 1472,1818 1474,1822 1482,1852 1484,1854 1494,1844 1526,1795 1542,1779 1544,1780 1554,1793 1566,1828 1568,1829 1580,1824 1592,1814 1596,1809 1608,1788 1610,1786 1622,1784 1624,1786 1636,1818 1638,1820 1650,1808 1652,1808 1662,1822 1664,1823 1678,1805 1690,1777 1708,1764 1710,1767 1720,1801 1730,1868 1736,1892 1738,1896 1740,1895 1748,1885 1750,1880 1760,1838 1762,1835 1774,1830 1776,1827 1786,1802 1802,1775 1804,1774 1806,1776 1816,1790 1820,1801 1830,1841 1842,1859 1844,1860 1856,1846 1858,1842 1866,1796 1874,1768 1876,1765 1887,1777 1893,1777 1893,2156Z" fill="#5c3dff"/>
<path d="M1062,2156 1062,1999 1068,1999 1084,1995 1094,1986 1104,1974 1106,1971 1110,1943 1112,1941 1116,1969 1118,1973 1124,1981 1126,1981 1138,1979 1150,2001 1164,2010 1192,2016 1206,2021 1208,2020 1220,2000 1232,1988 1234,1988 1248,1999 1264,2007 1284,2013 1304,2016 1320,2025 1332,2030 1334,2030 1346,2024 1360,2021 1376,2013 1386,2003 1388,2004 1398,2032 1406,2042 1410,2045 1426,2050 1460,2040 1464,2037 1468,2032 1470,2034 1478,2066 1488,2080 1490,2080 1500,2070 1512,2063 1516,2061 1536,2059 1554,2062 1572,2059 1594,2062 1616,2059 1618,2060 1628,2070 1642,2090 1650,2100 1652,2100 1676,2067 1678,2065 1680,2066 1688,2070 1700,2089 1726,2113 1752,2128 1772,2152 1858,2152 1860,2151 1862,2147 1870,2117 1872,2114 1878,2108 1887,2110 1893,2110 1893,2156Z" fill="#7a52ff"/>
<path d="M1068,1847 1082,1846 1084,1843 1104,1761 1108,1750 1110,1748 1112,1753 1120,1788 1124,1795 1126,1795 1130,1791 1138,1771 1144,1767 1154,1765 1170,1765 1184,1764 1196,1759 1200,1757 1210,1746 1222,1715 1230,1708 1234,1707 1236,1708 1246,1735 1250,1741 1258,1751 1266,1756 1270,1756 1278,1756 1288,1751 1292,1747 1302,1735 1314,1726 1324,1724 1330,1725 1340,1736 1348,1740 1360,1734 1372,1720 1382,1714 1388,1713 1390,1716 1394,1729 1408,1785 1414,1798 1416,1798 1422,1789 1428,1776 1430,1774 1436,1782 1438,1782 1468,1742 1470,1742 1474,1745 1476,1750 1482,1775 1486,1786 1494,1792 1500,1790 1502,1789 1504,1784 1512,1753 1514,1749 1522,1749 1532,1737 1540,1733 1548,1735 1554,1744 1556,1751 1560,1777 1564,1793 1566,1797 1570,1801 1572,1801 1592,1774 1600,1760 1608,1744 1616,1742 1618,1742 1624,1748 1626,1750 1634,1768 1636,1771 1640,1774 1652,1767 1662,1774 1664,1774 1670,1770 1672,1767 1678,1745 1684,1732 1694,1724 1706,1718 1714,1723 1716,1728 1722,1753 1728,1805 1732,1826 1734,1832 1736,1835 1742,1836 1744,1836 1748,1831 1750,1825 1760,1776 1762,1772 1774,1772 1776,1769 1790,1734 1794,1729 1802,1726 1804,1727 1812,1744 1820,1770 1828,1789 1830,1793 1834,1796 1836,1796 1846,1794 1856,1783 1870,1720 1872,1714 1874,1711 1876,1712 1887,1726" fill="none" stroke="#000" stroke-width="3.6" stroke-linejoin="round"/>
</svg>
<svg x="165" y="2291" width="819" height="585" viewBox="165 2291 819 585" overflow="hidden">
<rect x="165.0" y="2291.0" width="819.0" height="585.0" fill="#ff8000"/>
<path class="c" d="M159,2888 159,2314 165,2314 177,2314 179,2314 191,2301 197,2293 201,2285 203,2283 245,2283 251,2312 269,2320 293,2319 319,2320 337,2311 353,2309 393,2314 415,2320 417,2319 427,2307 437,2299 443,2290 451,2283 503,2283 563,2291 565,2292 577,2317 593,2331 595,2331 613,2321 615,2320 637,2326 651,2324 665,2337 679,2340 681,2339 695,2322 709,2309 729,2300 751,2294 771,2283 984,2283 990,2283 990,2888Z" fill="#ffa000"/>
<path class="c" d="M159,2888 159,2355 165,2355 177,2360 179,2359 189,2347 191,2347 205,2355 219,2360 221,2359 231,2342 237,2336 239,2336 247,2346 255,2359 257,2361 265,2363 267,2362 269,2360 275,2350 277,2349 297,2346 355,2346 373,2351 383,2340 393,2338 405,2346 417,2349 433,2343 449,2341 467,2343 477,2334 487,2328 489,2328 499,2334 513,2337 525,2333 535,2344 563,2370 573,2387 583,2408 595,2407 613,2402 627,2406 629,2407 637,2421 657,2477 665,2491 667,2491 675,2485 677,2481 689,2416 699,2373 703,2364 711,2350 713,2348 723,2346 735,2353 739,2357 749,2370 759,2398 767,2412 769,2414 771,2415 779,2415 781,2412 797,2362 799,2358 809,2347 819,2345 821,2345 831,2357 849,2405 859,2419 861,2419 863,2416 877,2388 885,2379 887,2378 897,2380 899,2382 909,2392 921,2406 931,2409 933,2408 939,2402 941,2402 951,2417 961,2428 971,2424 973,2422 984,2398 990,2398 990,2888Z" fill="#ffc000"/>
<path class="c" d="M159,2888 159,2365 165,2365 177,2371 179,2371 189,2359 191,2358 205,2368 219,2372 221,2372 231,2350 237,2343 239,2343 255,2373 257,2375 265,2375 267,2374 269,2371 275,2359 277,2357 299,2352 355,2352 371,2358 373,2358 383,2346 393,2344 405,2353 415,2358 417,2358 433,2352 449,2349 467,2351 477,2341 487,2336 489,2336 501,2342 513,2346 525,2340 561,2384 571,2407 581,2425 583,2426 585,2426 595,2422 613,2417 623,2421 627,2423 637,2441 657,2497 665,2511 667,2511 675,2505 677,2501 691,2423 701,2382 711,2363 713,2361 721,2357 725,2357 735,2364 739,2369 749,2385 759,2412 767,2427 769,2430 771,2431 777,2432 779,2430 787,2410 797,2377 799,2373 807,2362 811,2359 819,2358 821,2358 831,2371 849,2424 859,2440 861,2440 863,2437 879,2399 885,2391 887,2390 889,2391 897,2397 899,2401 921,2459 931,2476 933,2478 941,2481 951,2490 953,2489 959,2477 969,2445 984,2410 990,2410 990,2888Z" fill="#ffdf00"/>
<path class="c" d="M159,2888 159,2375 165,2375 177,2382 179,2382 189,2370 191,2370 205,2381 219,2385 221,2385 231,2359 237,2351 239,2351 255,2387 257,2389 265,2387 267,2385 275,2368 277,2366 299,2358 355,2357 371,2365 373,2365 383,2351 393,2349 407,2362 415,2368 417,2368 435,2360 451,2358 467,2360 469,2359 477,2349 487,2344 489,2344 513,2354 525,2347 527,2349 535,2360 561,2401 571,2431 579,2445 581,2446 595,2437 613,2432 615,2432 625,2438 637,2461 657,2517 665,2531 667,2531 675,2525 677,2522 683,2491 691,2441 699,2402 701,2396 709,2380 713,2374 723,2367 737,2378 749,2399 757,2422 767,2443 769,2446 775,2448 777,2448 779,2445 787,2425 799,2387 809,2372 819,2371 821,2371 831,2385 849,2442 859,2461 861,2461 863,2458 869,2443 877,2417 885,2403 887,2402 897,2414 909,2460 921,2512 931,2543 933,2548 941,2560 951,2564 953,2559 959,2528 969,2465 971,2457 984,2421 990,2421 990,2888Z" fill="#ffff00"/>
<path class="c" d="M159,2888 159,2380 165,2380 167,2381 177,2389 179,2389 189,2377 191,2377 205,2389 217,2394 219,2393 221,2391 223,2387 229,2369 233,2362 237,2358 239,2359 255,2395 257,2397 265,2395 267,2393 275,2375 277,2373 289,2366 301,2362 327,2360 355,2361 371,2369 373,2369 383,2358 393,2356 407,2367 415,2373 417,2373 433,2366 449,2362 467,2365 469,2364 477,2354 487,2349 489,2349 497,2353 509,2360 513,2362 523,2357 525,2357 529,2360 533,2366 561,2418 571,2448 579,2466 583,2469 585,2468 593,2459 601,2452 613,2446 617,2447 625,2451 637,2474 651,2515 657,2530 663,2539 665,2542 667,2542 675,2536 677,2532 691,2460 701,2414 711,2388 713,2384 719,2377 723,2374 725,2375 733,2381 737,2385 749,2410 759,2437 769,2455 773,2457 777,2456 781,2449 789,2429 799,2396 809,2382 819,2381 821,2383 831,2400 849,2454 859,2471 861,2472 863,2469 869,2457 877,2434 885,2415 887,2413 893,2420 897,2428 899,2435 919,2519 927,2544 933,2559 939,2568 943,2571 951,2573 953,2570 961,2534 971,2476 984,2432 990,2432 990,2888Z" fill="#ccff00"/>
<path class="c" d="M159,2888 159,2386 165,2386 167,2387 177,2396 179,2396 189,2383 191,2383 205,2398 217,2402 219,2401 221,2398 229,2375 235,2366 237,2366 241,2372 255,2403 257,2405 263,2405 265,2404 267,2400 273,2385 277,2379 287,2373 301,2366 327,2363 355,2365 373,2374 383,2364 393,2362 397,2364 415,2378 417,2378 433,2371 449,2366 467,2370 469,2369 479,2358 487,2354 489,2354 499,2359 511,2369 515,2369 523,2366 527,2367 531,2372 561,2435 577,2483 583,2494 585,2493 595,2476 603,2465 615,2460 625,2465 633,2479 637,2488 651,2529 655,2538 661,2549 665,2552 667,2553 675,2546 677,2542 701,2432 713,2394 721,2382 723,2381 725,2382 733,2387 735,2389 747,2416 759,2448 769,2464 771,2466 773,2466 777,2465 781,2458 789,2438 797,2411 801,2402 807,2393 809,2391 817,2391 819,2391 821,2394 831,2415 845,2455 851,2470 859,2481 861,2482 863,2480 871,2468 885,2427 887,2425 891,2429 893,2432 897,2443 919,2533 927,2558 933,2570 939,2578 943,2581 951,2583 953,2581 961,2552 971,2495 984,2442 990,2442 990,2888Z" fill="#99ff00"/>
<path class="c" d="M159,2888 159,2392 165,2392 167,2393 177,2403 179,2403 189,2390 191,2390 205,2407 217,2411 219,2409 221,2404 229,2380 235,2373 237,2373 243,2384 255,2411 257,2413 263,2414 265,2412 275,2389 287,2378 303,2370 327,2366 355,2368 373,2378 383,2370 393,2368 397,2370 409,2379 415,2383 417,2383 433,2376 449,2371 453,2371 467,2375 469,2374 479,2364 487,2359 489,2359 499,2364 511,2377 513,2378 523,2375 527,2377 531,2381 563,2458 577,2503 583,2519 585,2519 595,2496 603,2480 613,2474 617,2474 625,2479 633,2492 641,2512 653,2547 659,2558 661,2561 667,2564 669,2563 675,2556 679,2546 693,2489 701,2450 707,2425 715,2399 721,2389 723,2388 725,2389 733,2393 735,2396 759,2459 767,2471 771,2476 773,2476 777,2473 781,2467 789,2446 797,2420 801,2411 807,2401 809,2400 817,2400 819,2402 821,2405 849,2477 853,2485 861,2492 863,2492 869,2486 873,2479 885,2440 887,2436 891,2440 895,2449 911,2517 919,2547 925,2566 929,2575 937,2586 941,2590 951,2593 953,2591 955,2586 961,2569 963,2560 977,2482 984,2452 990,2452 990,2888Z" fill="#66ff00"/>
<path class="c" d="M159,2888 159,2398 165,2398 167,2399 177,2410 179,2410 189,2396 191,2396 205,2415 217,2420 219,2417 227,2390 229,2386 235,2379 237,2380 255,2419 257,2421 263,2423 265,2421 271,2403 275,2395 287,2384 303,2374 327,2369 355,2372 373,2383 385,2375 395,2375 415,2388 417,2388 433,2381 449,2375 453,2375 467,2380 469,2379 481,2368 487,2364 489,2364 499,2369 511,2385 523,2384 529,2388 531,2390 567,2486 583,2543 585,2544 603,2495 613,2488 615,2487 617,2487 625,2492 633,2505 641,2525 653,2561 659,2571 661,2573 667,2575 669,2574 675,2567 679,2558 693,2508 705,2448 713,2415 715,2408 721,2396 723,2395 733,2400 735,2403 751,2450 759,2469 761,2473 771,2485 773,2485 779,2479 781,2476 789,2455 799,2424 805,2413 807,2410 809,2409 817,2410 819,2412 821,2416 845,2481 853,2496 861,2503 863,2503 871,2498 873,2495 879,2478 885,2452 887,2448 891,2452 893,2455 895,2462 911,2533 925,2579 927,2584 937,2597 939,2599 951,2603 953,2602 961,2586 963,2579 977,2496 984,2462 990,2462 990,2888Z" fill="#33ff00"/>
<path class="c" d="M159,2888 159,2403 165,2403 167,2404 177,2417 179,2417 189,2404 191,2403 195,2407 205,2421 217,2425 219,2423 227,2398 231,2391 235,2386 237,2388 255,2424 257,2426 263,2428 265,2426 273,2406 287,2390 293,2385 301,2381 315,2376 329,2373 351,2376 357,2378 373,2387 385,2380 395,2380 415,2393 417,2394 433,2386 449,2380 455,2381 467,2385 469,2384 481,2373 487,2369 489,2369 499,2375 511,2391 513,2391 523,2389 527,2392 531,2397 567,2492 579,2541 583,2553 585,2554 603,2505 607,2500 615,2496 617,2496 625,2500 633,2512 653,2567 661,2578 667,2579 671,2576 677,2568 687,2538 695,2509 707,2447 713,2421 717,2408 721,2400 723,2399 733,2404 735,2407 747,2444 759,2474 763,2480 769,2488 771,2490 773,2490 779,2484 781,2481 791,2456 799,2431 805,2420 807,2417 809,2416 817,2417 819,2419 833,2458 845,2487 851,2498 861,2507 863,2507 871,2503 873,2500 879,2484 885,2458 887,2453 889,2454 893,2461 895,2468 911,2539 919,2567 927,2590 931,2596 937,2602 951,2608 953,2608 955,2605 961,2594 963,2587 971,2546 979,2496 984,2473 990,2473 990,2888Z" fill="#00ff00"/>
<path class="c" d="M159,2888 159,2408 165,2408 167,2410 177,2423 179,2423 185,2417 189,2411 193,2409 195,2411 201,2421 205,2426 209,2428 217,2430 219,2428 229,2402 235,2393 237,2395 249,2419 253,2426 257,2430 263,2433 265,2431 273,2414 293,2391 313,2381 325,2378 337,2378 351,2381 357,2383 373,2391 385,2386 395,2385 403,2390 415,2398 417,2399 435,2391 451,2385 457,2385 469,2389 481,2378 485,2375 489,2375 495,2378 499,2381 511,2397 513,2397 523,2394 527,2397 531,2403 567,2498 579,2550 583,2563 585,2564 593,2546 605,2510 607,2508 613,2505 617,2504 625,2508 633,2519 653,2574 659,2582 665,2584 669,2583 671,2581 677,2572 685,2551 693,2526 713,2427 717,2413 721,2404 723,2403 733,2408 735,2411 745,2445 753,2465 763,2485 771,2494 773,2495 775,2494 779,2490 783,2483 791,2463 799,2439 805,2426 807,2423 809,2423 817,2424 819,2426 831,2460 843,2489 851,2503 861,2511 863,2511 871,2508 873,2506 879,2490 887,2458 889,2458 893,2466 895,2474 911,2546 927,2597 931,2603 937,2607 951,2613 953,2613 955,2611 961,2601 963,2595 971,2557 979,2507 984,2484 990,2484 990,2888Z" fill="#00cc33"/>
<path class="c" d="M159,2888 159,2414 165,2414 167,2415 175,2427 177,2429 179,2429 185,2424 193,2414 195,2415 201,2427 205,2432 209,2434 217,2435 219,2434 231,2406 235,2401 237,2402 243,2416 251,2429 257,2435 263,2437 265,2435 273,2421 293,2397 313,2386 327,2381 339,2382 349,2385 373,2396 385,2392 397,2391 415,2403 417,2404 449,2391 455,2389 469,2395 471,2394 479,2384 483,2381 485,2380 489,2381 497,2384 511,2402 513,2403 523,2399 525,2400 531,2409 567,2503 573,2529 579,2560 583,2573 585,2574 593,2559 605,2518 607,2515 615,2513 617,2513 625,2516 633,2526 647,2567 653,2581 659,2587 663,2589 665,2589 673,2583 677,2577 685,2558 693,2535 713,2433 717,2418 721,2408 723,2406 733,2412 735,2416 745,2451 751,2466 763,2490 773,2500 775,2500 777,2498 783,2489 791,2470 799,2446 805,2432 807,2430 815,2430 817,2430 819,2434 831,2468 843,2496 851,2508 861,2515 871,2513 873,2511 879,2496 887,2463 889,2462 893,2472 895,2479 911,2553 927,2603 931,2610 953,2619 955,2618 957,2615 961,2608 965,2596 971,2569 979,2518 984,2494 990,2494 990,2888Z" fill="#009966"/>
<path d="M159,2888 159,2419 165,2419 167,2421 173,2431 177,2435 179,2436 185,2432 193,2419 195,2420 201,2432 207,2439 217,2441 219,2439 221,2435 231,2413 235,2408 237,2410 241,2419 249,2433 251,2436 261,2442 263,2442 293,2402 301,2399 313,2391 327,2386 339,2386 373,2400 385,2397 397,2397 405,2401 415,2408 417,2409 455,2394 457,2394 469,2400 471,2399 481,2388 485,2385 487,2385 497,2390 511,2408 513,2409 523,2404 525,2405 529,2411 539,2435 567,2509 573,2535 579,2570 583,2583 585,2584 593,2571 605,2527 607,2523 617,2521 625,2524 633,2534 649,2579 655,2590 663,2595 665,2595 667,2593 675,2585 685,2565 693,2544 699,2517 715,2431 719,2416 721,2411 723,2410 733,2415 735,2420 741,2445 747,2463 763,2494 773,2505 775,2505 777,2503 783,2495 791,2477 801,2448 805,2439 807,2436 817,2437 831,2475 841,2499 849,2512 859,2518 863,2519 871,2518 873,2516 879,2502 887,2468 889,2467 895,2485 911,2559 927,2609 929,2615 931,2617 941,2619 953,2624 955,2624 963,2611 971,2581 979,2528 984,2505 990,2505 990,2888Z" fill="#006699"/>
<path d="M159,2888 159,2433 165,2433 167,2434 175,2445 177,2447 179,2448 185,2444 193,2433 195,2434 201,2444 207,2451 217,2453 219,2451 231,2427 235,2421 237,2422 241,2431 249,2443 261,2453 263,2454 293,2413 313,2401 325,2396 329,2396 341,2397 371,2408 375,2408 385,2405 397,2405 417,2415 455,2401 457,2401 469,2406 471,2406 481,2394 485,2392 487,2392 497,2396 511,2412 513,2413 525,2412 529,2417 539,2443 569,2539 579,2583 581,2588 583,2591 585,2591 593,2580 605,2537 607,2533 609,2531 613,2529 619,2528 625,2532 633,2542 647,2583 653,2595 657,2599 663,2604 665,2605 673,2597 679,2587 693,2551 699,2524 715,2440 719,2423 721,2418 723,2416 733,2422 735,2427 745,2462 749,2472 763,2502 773,2513 775,2513 777,2511 785,2498 803,2451 807,2444 811,2441 815,2443 817,2444 819,2448 833,2487 841,2505 851,2521 859,2526 863,2528 867,2528 871,2526 873,2523 877,2516 879,2510 887,2476 889,2475 895,2493 911,2567 929,2625 933,2630 945,2640 949,2641 955,2641 957,2638 963,2623 971,2591 979,2543 984,2519 990,2519 990,2888Z" fill="#0033cc"/>
<path d="M159,2888 159,2447 165,2447 167,2448 177,2459 179,2459 185,2455 193,2448 195,2449 201,2457 207,2463 217,2465 219,2464 231,2440 235,2435 237,2435 251,2455 261,2465 263,2465 283,2436 293,2424 313,2411 325,2407 329,2406 341,2407 355,2411 371,2417 385,2414 397,2414 417,2422 455,2408 457,2408 469,2413 471,2413 483,2399 485,2398 487,2398 499,2404 513,2418 525,2419 527,2420 529,2423 539,2451 565,2550 579,2595 581,2599 583,2599 585,2598 593,2590 607,2542 609,2539 611,2538 619,2535 625,2540 633,2551 649,2596 655,2605 665,2615 667,2614 673,2606 679,2596 693,2558 717,2440 721,2424 723,2422 733,2429 735,2433 745,2467 751,2483 763,2510 773,2520 775,2520 777,2518 785,2506 801,2463 807,2451 811,2446 813,2446 819,2456 837,2503 843,2515 851,2529 861,2535 865,2537 867,2537 873,2531 877,2524 887,2485 889,2484 897,2509 911,2574 929,2635 933,2644 945,2659 947,2661 955,2657 957,2655 959,2650 971,2601 984,2534 990,2534 990,2888Z" fill="#0000ff"/>
<path d="M159,2888 159,2461 165,2461 167,2461 177,2471 179,2471 191,2462 193,2462 207,2475 217,2477 219,2476 233,2451 235,2448 237,2448 261,2476 263,2476 285,2443 299,2429 315,2420 329,2416 355,2420 369,2426 387,2422 399,2424 417,2429 455,2415 457,2415 469,2420 471,2420 483,2406 485,2404 487,2404 499,2409 513,2423 527,2426 529,2429 541,2468 565,2573 579,2608 581,2609 593,2599 595,2595 607,2551 609,2547 619,2541 621,2543 633,2559 649,2604 665,2625 667,2625 679,2606 693,2565 719,2439 721,2430 723,2428 733,2436 735,2440 749,2484 761,2513 765,2520 773,2528 775,2528 777,2526 785,2514 801,2471 811,2451 813,2452 823,2472 839,2515 851,2536 853,2539 865,2546 867,2545 877,2533 887,2493 889,2493 897,2516 911,2582 921,2619 931,2652 933,2657 945,2679 947,2680 957,2671 959,2665 984,2548 990,2548 990,2888Z" fill="#1f14ff"/>
<path d="M159,2888 159,2504 165,2504 177,2501 191,2493 193,2493 205,2507 217,2512 219,2511 231,2497 237,2493 239,2493 251,2507 259,2511 261,2511 271,2489 285,2481 301,2478 327,2465 341,2462 357,2473 367,2486 373,2496 375,2494 383,2479 389,2473 391,2473 401,2478 413,2494 415,2496 427,2500 441,2502 457,2492 485,2480 497,2488 513,2500 515,2500 523,2494 525,2493 535,2507 539,2519 565,2616 567,2621 581,2639 583,2640 585,2637 607,2601 609,2599 611,2599 621,2603 623,2605 637,2627 651,2646 665,2660 667,2659 679,2640 681,2635 695,2588 721,2510 723,2506 725,2506 737,2518 765,2573 773,2585 775,2585 777,2582 803,2536 813,2530 815,2531 817,2534 841,2584 855,2604 865,2612 867,2611 877,2599 887,2582 889,2580 891,2581 899,2595 903,2605 913,2636 923,2673 933,2701 945,2727 947,2729 957,2720 959,2715 969,2677 984,2605 990,2605 990,2888Z" fill="#3d29ff"/>
<path d="M159,2888 159,2601 165,2601 177,2596 191,2585 193,2585 205,2602 215,2606 217,2606 227,2598 235,2596 237,2598 247,2615 259,2620 261,2620 263,2619 271,2607 273,2605 275,2605 285,2610 309,2634 311,2635 317,2631 319,2628 327,2600 329,2596 335,2588 337,2587 347,2586 379,2598 391,2596 395,2597 405,2605 439,2644 447,2649 449,2648 467,2630 477,2604 483,2600 485,2599 497,2616 511,2627 525,2636 535,2659 565,2740 579,2758 581,2758 607,2737 609,2736 625,2741 643,2753 659,2761 661,2761 669,2755 673,2750 683,2732 695,2702 707,2664 719,2635 721,2635 733,2657 759,2683 773,2689 775,2689 777,2687 785,2677 801,2649 807,2643 809,2642 811,2643 823,2656 837,2688 839,2691 867,2714 869,2715 871,2713 881,2698 891,2691 893,2691 905,2710 915,2730 927,2759 951,2797 953,2798 959,2792 963,2787 984,2748 990,2748 990,2888Z" fill="#5c3dff"/>
<path d="M159,2888 159,2884 165,2884 915,2884 917,2883 919,2873 925,2855 927,2851 929,2851 937,2853 951,2864 953,2864 969,2859 984,2856 990,2856 990,2888Z" fill="#7a52ff"/>
<path d="M165,2419 167,2421 173,2431 177,2435 179,2436 185,2432 193,2419 195,2420 201,2432 207,2439 217,2441 219,2439 221,2435 231,2413 235,2408 237,2410 241,2419 249,2433 251,2436 261,2442 263,2442 293,2402 301,2399 313,2391 327,2386 339,2386 373,2400 385,2397 397,2397 405,2401 415,2408 417,2409 455,2394 457,2394 469,2400 471,2399 481,2388 485,2385 487,2385 497,2390 511,2408 513,2409 523,2404 525,2405 529,2411 539,2435 567,2509 573,2535 579,2570 583,2583 585,2584 593,2571 605,2527 607,2523 617,2521 625,2524 633,2534 649,2579 655,2590 663,2595 665,2595 667,2593 675,2585 685,2565 693,2544 699,2517 715,2431 719,2416 721,2411 723,2410 733,2415 735,2420 741,2445 747,2463 763,2494 773,2505 775,2505 777,2503 783,2495 791,2477 801,2448 805,2439 807,2436 817,2437 831,2475 841,2499 849,2512 859,2518 863,2519 871,2518 873,2516 879,2502 887,2468 889,2467 895,2485 911,2559 927,2609 929,2615 931,2617 941,2619 953,2624 955,2624 963,2611 971,2581 979,2528 984,2505" fill="none" stroke="#000" stroke-width="3.6" stroke-linejoin="round"/>
</svg>
<svg x="1080" y="2302" width="821" height="583" viewBox="1080 2302 821 583" overflow="hidden">
<rect x="1080.0" y="2302.0" width="821.0" height="583.0" fill="#ff5500"/>
<path class="c" d="M1074,2897 1074,2294 1080,2294 1122,2294 1136,2329 1138,2331 1152,2325 1164,2313 1166,2314 1174,2332 1176,2333 1186,2323 1200,2311 1210,2294 1298,2294 1300,2295 1302,2299 1306,2326 1308,2332 1318,2335 1328,2342 1330,2343 1342,2335 1344,2333 1350,2319 1356,2300 1358,2295 1360,2294 1901,2294 1907,2294 1907,2897Z" fill="#ff6b00"/>
<path class="c" d="M1074,2897 1074,2332 1080,2332 1082,2329 1094,2304 1096,2302 1106,2302 1108,2304 1110,2308 1118,2333 1128,2348 1130,2348 1146,2344 1160,2352 1174,2365 1176,2364 1188,2350 1208,2340 1228,2324 1230,2324 1240,2332 1250,2346 1254,2350 1270,2358 1308,2369 1328,2360 1366,2354 1378,2348 1382,2344 1392,2326 1404,2309 1412,2302 1416,2295 1418,2294 1901,2294 1907,2294 1907,2897Z" fill="#ff8000"/>
<path class="c" d="M1074,2897 1074,2380 1080,2380 1082,2378 1092,2351 1094,2347 1096,2346 1106,2346 1108,2347 1118,2375 1120,2378 1122,2376 1134,2355 1148,2347 1150,2349 1158,2363 1162,2368 1174,2377 1188,2385 1190,2385 1204,2374 1218,2372 1238,2381 1256,2386 1280,2384 1294,2394 1296,2394 1308,2392 1326,2383 1342,2381 1354,2375 1356,2376 1368,2384 1382,2391 1384,2391 1396,2378 1410,2354 1426,2343 1436,2338 1438,2338 1440,2340 1448,2352 1450,2353 1472,2332 1490,2323 1504,2328 1518,2327 1530,2343 1542,2343 1544,2341 1546,2335 1554,2300 1556,2296 1558,2294 1901,2294 1907,2294 1907,2897Z" fill="#ffa000"/>
<path class="c" d="M1074,2897 1074,2386 1080,2386 1092,2376 1094,2375 1096,2375 1108,2381 1118,2400 1120,2401 1134,2376 1136,2375 1146,2379 1150,2383 1160,2403 1188,2434 1190,2432 1202,2411 1204,2410 1218,2418 1234,2426 1272,2415 1290,2424 1302,2426 1304,2426 1318,2415 1342,2401 1354,2387 1356,2388 1380,2423 1392,2438 1404,2450 1406,2451 1408,2448 1416,2430 1418,2427 1420,2427 1426,2429 1436,2448 1438,2451 1440,2451 1450,2445 1474,2408 1476,2407 1488,2414 1490,2414 1502,2405 1506,2404 1518,2409 1534,2424 1542,2430 1544,2430 1558,2396 1560,2394 1568,2392 1572,2393 1584,2398 1598,2408 1600,2407 1612,2393 1614,2392 1638,2403 1640,2403 1656,2397 1676,2389 1712,2390 1730,2383 1746,2381 1748,2379 1758,2365 1768,2358 1778,2363 1790,2374 1804,2377 1806,2377 1822,2367 1836,2369 1856,2374 1872,2362 1874,2362 1884,2376 1886,2377 1901,2364 1907,2364 1907,2897Z" fill="#ffc000"/>
<path class="c" d="M1074,2897 1074,2398 1080,2398 1094,2387 1106,2391 1108,2392 1110,2396 1118,2416 1120,2418 1122,2415 1132,2391 1134,2388 1136,2388 1148,2398 1160,2420 1174,2436 1188,2455 1190,2454 1202,2436 1204,2435 1218,2442 1234,2445 1252,2439 1270,2431 1274,2432 1290,2444 1302,2449 1304,2448 1318,2432 1332,2423 1344,2418 1354,2406 1356,2407 1378,2443 1406,2468 1408,2466 1416,2448 1418,2445 1420,2444 1426,2447 1436,2465 1438,2468 1440,2468 1474,2453 1476,2452 1490,2457 1502,2450 1504,2450 1518,2466 1532,2488 1534,2490 1542,2492 1544,2491 1546,2487 1560,2447 1562,2443 1572,2436 1574,2436 1586,2443 1598,2454 1600,2453 1608,2445 1610,2445 1622,2460 1634,2463 1648,2457 1676,2429 1692,2420 1708,2416 1724,2418 1738,2431 1740,2430 1762,2395 1768,2393 1772,2393 1780,2399 1792,2416 1804,2423 1806,2423 1820,2415 1832,2410 1834,2410 1862,2428 1872,2424 1886,2416 1901,2404 1907,2404 1907,2897Z" fill="#ffdf00"/>
<path class="c" d="M1074,2897 1074,2409 1080,2409 1094,2397 1106,2401 1108,2403 1110,2407 1118,2430 1120,2432 1122,2429 1132,2403 1134,2400 1136,2400 1148,2413 1160,2437 1188,2472 1190,2472 1202,2455 1204,2455 1218,2460 1234,2460 1252,2454 1270,2445 1272,2445 1274,2446 1290,2460 1302,2466 1304,2466 1312,2464 1316,2462 1328,2448 1344,2433 1354,2421 1356,2422 1378,2461 1390,2476 1402,2489 1406,2490 1408,2489 1416,2479 1420,2477 1426,2478 1436,2486 1438,2487 1440,2487 1448,2483 1474,2464 1476,2464 1490,2469 1502,2461 1504,2460 1518,2476 1532,2499 1542,2507 1544,2506 1546,2502 1562,2455 1572,2446 1574,2446 1586,2454 1598,2467 1600,2466 1608,2456 1610,2455 1612,2457 1622,2472 1634,2475 1646,2472 1648,2471 1676,2438 1690,2428 1704,2430 1712,2436 1714,2437 1722,2432 1732,2439 1738,2440 1740,2439 1760,2407 1764,2402 1766,2402 1770,2403 1776,2407 1782,2413 1792,2426 1798,2432 1802,2434 1806,2435 1810,2435 1822,2426 1834,2421 1838,2423 1848,2433 1862,2443 1874,2439 1886,2432 1901,2417 1907,2417 1907,2897Z" fill="#ffff00"/>
<path class="c" d="M1074,2897 1074,2421 1080,2421 1082,2419 1094,2407 1106,2411 1108,2413 1110,2417 1118,2443 1120,2446 1122,2443 1132,2415 1134,2411 1136,2412 1148,2429 1160,2455 1188,2489 1190,2489 1202,2475 1204,2474 1218,2478 1234,2475 1252,2469 1270,2459 1272,2459 1290,2476 1314,2491 1316,2490 1328,2470 1354,2436 1356,2437 1364,2451 1388,2496 1398,2510 1402,2513 1432,2508 1444,2503 1448,2501 1474,2476 1476,2475 1488,2480 1490,2480 1502,2471 1504,2470 1518,2486 1534,2514 1542,2522 1544,2522 1562,2466 1572,2456 1574,2456 1586,2465 1598,2479 1600,2479 1608,2467 1610,2465 1612,2467 1622,2483 1632,2486 1646,2486 1650,2483 1676,2447 1688,2437 1690,2436 1692,2436 1704,2443 1712,2456 1714,2456 1720,2449 1722,2447 1730,2454 1732,2454 1742,2446 1762,2413 1764,2410 1766,2410 1776,2418 1800,2446 1810,2449 1812,2448 1822,2438 1836,2433 1838,2434 1848,2446 1862,2457 1874,2455 1886,2448 1890,2444 1901,2430 1907,2430 1907,2897Z" fill="#ccff00"/>
<path class="c" d="M1074,2897 1074,2434 1080,2434 1082,2433 1094,2418 1096,2417 1106,2421 1108,2423 1110,2429 1116,2453 1118,2459 1120,2462 1124,2459 1132,2434 1134,2429 1136,2429 1148,2447 1160,2475 1180,2493 1188,2508 1190,2508 1204,2490 1208,2489 1218,2490 1234,2488 1252,2482 1270,2473 1272,2473 1288,2487 1300,2491 1310,2503 1312,2504 1314,2504 1328,2480 1340,2464 1354,2447 1356,2447 1388,2504 1398,2517 1402,2521 1432,2516 1446,2511 1474,2485 1476,2484 1488,2489 1490,2489 1502,2478 1504,2477 1506,2478 1518,2493 1534,2521 1542,2529 1544,2529 1546,2525 1562,2476 1572,2465 1574,2464 1586,2472 1598,2486 1600,2486 1608,2476 1610,2474 1612,2476 1622,2490 1632,2493 1646,2494 1648,2493 1660,2478 1674,2457 1684,2449 1688,2448 1692,2449 1704,2459 1712,2468 1714,2468 1722,2461 1730,2464 1732,2464 1742,2455 1758,2432 1764,2425 1766,2425 1768,2426 1776,2434 1788,2451 1798,2464 1800,2465 1810,2463 1822,2451 1836,2446 1850,2460 1860,2467 1864,2468 1874,2465 1886,2459 1890,2456 1901,2444 1907,2444 1907,2897Z" fill="#99ff00"/>
<path class="c" d="M1074,2897 1074,2447 1080,2447 1082,2446 1094,2428 1096,2428 1106,2432 1108,2434 1110,2441 1118,2475 1120,2478 1124,2480 1126,2477 1134,2447 1136,2446 1148,2465 1160,2496 1162,2498 1178,2504 1180,2506 1188,2526 1190,2526 1196,2518 1204,2506 1206,2504 1236,2501 1252,2496 1270,2487 1272,2487 1288,2499 1300,2501 1310,2517 1312,2519 1314,2517 1324,2498 1336,2479 1354,2457 1356,2458 1378,2497 1388,2513 1398,2525 1402,2528 1416,2527 1430,2525 1446,2520 1474,2493 1476,2493 1488,2497 1490,2497 1502,2485 1504,2484 1506,2485 1518,2500 1534,2529 1542,2537 1544,2537 1550,2522 1562,2485 1572,2473 1574,2473 1586,2479 1598,2493 1600,2493 1608,2485 1610,2484 1622,2497 1632,2500 1646,2502 1648,2501 1660,2487 1674,2466 1684,2458 1686,2458 1690,2461 1708,2479 1712,2480 1714,2480 1722,2475 1730,2475 1734,2473 1744,2463 1758,2444 1764,2440 1766,2440 1768,2441 1774,2448 1788,2470 1798,2483 1800,2484 1810,2476 1822,2463 1834,2459 1836,2459 1838,2460 1850,2472 1860,2478 1864,2478 1874,2476 1886,2470 1901,2458 1907,2458 1907,2897Z" fill="#66ff00"/>
<path class="c" d="M1074,2897 1074,2461 1080,2461 1082,2459 1094,2439 1096,2439 1106,2443 1108,2445 1110,2452 1118,2491 1124,2501 1126,2500 1134,2464 1136,2464 1148,2483 1160,2517 1162,2518 1178,2518 1180,2520 1188,2544 1190,2545 1198,2533 1204,2522 1206,2519 1208,2517 1218,2515 1236,2515 1252,2509 1270,2501 1274,2502 1288,2512 1300,2510 1310,2531 1312,2533 1314,2530 1324,2508 1336,2489 1354,2468 1356,2468 1378,2507 1388,2522 1398,2532 1402,2535 1416,2535 1446,2529 1474,2502 1476,2501 1488,2506 1490,2506 1502,2492 1504,2490 1506,2492 1518,2506 1534,2537 1542,2545 1544,2545 1552,2526 1562,2495 1572,2482 1574,2481 1586,2486 1598,2500 1600,2500 1610,2493 1622,2504 1646,2509 1648,2508 1660,2497 1674,2474 1684,2467 1686,2468 1706,2493 1708,2494 1734,2483 1746,2471 1758,2456 1760,2455 1766,2455 1770,2458 1776,2466 1788,2489 1798,2502 1800,2502 1820,2478 1824,2475 1836,2473 1848,2483 1862,2489 1874,2486 1886,2482 1901,2472 1907,2472 1907,2897Z" fill="#33ff00"/>
<path class="c" d="M1074,2897 1074,2479 1080,2479 1082,2477 1088,2464 1094,2454 1096,2453 1106,2454 1108,2459 1116,2503 1118,2509 1120,2512 1124,2516 1126,2513 1132,2489 1134,2483 1136,2483 1148,2505 1160,2533 1162,2533 1170,2527 1174,2524 1176,2525 1178,2528 1188,2562 1190,2564 1196,2555 1202,2539 1206,2532 1230,2523 1236,2523 1246,2522 1258,2517 1270,2514 1274,2515 1286,2523 1290,2523 1298,2516 1300,2518 1310,2543 1312,2545 1316,2537 1324,2517 1330,2506 1338,2493 1354,2475 1356,2476 1388,2528 1402,2541 1410,2542 1432,2538 1448,2537 1474,2509 1476,2508 1478,2508 1488,2513 1490,2513 1504,2497 1506,2498 1518,2513 1534,2541 1542,2552 1544,2553 1546,2550 1552,2535 1562,2505 1570,2494 1574,2490 1586,2491 1598,2503 1600,2503 1608,2499 1610,2498 1622,2507 1648,2512 1654,2509 1660,2504 1674,2481 1682,2473 1684,2473 1686,2474 1698,2490 1706,2499 1708,2500 1734,2488 1746,2477 1758,2463 1760,2462 1764,2461 1768,2462 1772,2467 1776,2473 1790,2499 1798,2508 1800,2509 1810,2499 1820,2486 1824,2483 1836,2481 1848,2492 1862,2499 1874,2495 1886,2490 1901,2481 1907,2481 1907,2897Z" fill="#00ff00"/>
<path class="c" d="M1074,2897 1074,2498 1080,2498 1082,2495 1088,2479 1094,2469 1096,2468 1106,2466 1108,2472 1116,2521 1118,2527 1120,2530 1124,2530 1126,2527 1134,2502 1136,2503 1148,2526 1158,2547 1160,2550 1164,2546 1172,2532 1174,2531 1176,2532 1178,2538 1184,2567 1188,2581 1190,2584 1192,2582 1196,2573 1200,2558 1204,2547 1206,2545 1214,2542 1230,2530 1246,2533 1258,2527 1270,2527 1274,2529 1286,2536 1288,2535 1298,2523 1300,2525 1310,2555 1312,2556 1316,2549 1324,2525 1330,2513 1340,2498 1346,2490 1354,2483 1356,2484 1364,2495 1388,2533 1400,2545 1406,2548 1410,2549 1432,2544 1448,2545 1452,2542 1476,2515 1478,2514 1480,2515 1488,2520 1490,2520 1504,2504 1506,2505 1520,2522 1526,2531 1540,2557 1542,2560 1544,2560 1546,2559 1550,2550 1562,2516 1572,2500 1574,2499 1580,2496 1586,2496 1588,2497 1594,2504 1598,2507 1610,2504 1620,2510 1624,2512 1630,2513 1640,2514 1648,2516 1652,2516 1662,2508 1674,2487 1682,2478 1684,2478 1700,2499 1706,2504 1708,2505 1724,2497 1736,2491 1758,2470 1764,2467 1766,2467 1768,2469 1774,2477 1790,2506 1798,2515 1800,2515 1810,2507 1820,2495 1824,2492 1832,2490 1836,2490 1850,2502 1862,2508 1872,2505 1884,2500 1901,2490 1907,2490 1907,2897Z" fill="#00cc33"/>
<path class="c" d="M1074,2897 1074,2517 1080,2517 1082,2513 1088,2495 1094,2484 1106,2478 1108,2486 1114,2530 1118,2545 1120,2548 1124,2544 1134,2521 1136,2523 1142,2536 1158,2565 1160,2567 1164,2560 1170,2544 1174,2537 1176,2539 1184,2585 1188,2600 1190,2604 1192,2602 1194,2598 1200,2572 1204,2560 1206,2558 1214,2555 1230,2538 1246,2544 1256,2538 1260,2537 1272,2541 1286,2549 1288,2547 1298,2530 1300,2532 1304,2550 1308,2562 1310,2567 1312,2568 1316,2560 1322,2538 1330,2521 1344,2500 1354,2490 1356,2491 1364,2501 1390,2541 1408,2556 1420,2552 1432,2549 1440,2551 1448,2554 1450,2553 1476,2521 1478,2520 1480,2521 1488,2528 1490,2528 1502,2513 1504,2511 1506,2511 1526,2535 1536,2554 1540,2564 1542,2567 1544,2568 1546,2568 1548,2565 1552,2555 1560,2531 1568,2515 1572,2509 1578,2503 1586,2501 1588,2502 1596,2510 1598,2511 1606,2509 1610,2509 1624,2516 1630,2517 1642,2517 1648,2520 1652,2522 1654,2521 1662,2515 1676,2489 1682,2483 1684,2483 1690,2493 1698,2504 1706,2510 1708,2511 1716,2507 1724,2501 1736,2497 1758,2477 1764,2473 1766,2474 1774,2484 1790,2513 1798,2521 1800,2521 1810,2515 1822,2501 1832,2498 1836,2499 1852,2512 1862,2518 1884,2508 1901,2498 1907,2498 1907,2897Z" fill="#009966"/>
<path d="M1074,2897 1074,2535 1080,2535 1082,2531 1088,2510 1092,2502 1096,2497 1106,2489 1108,2500 1114,2549 1118,2563 1120,2566 1122,2563 1132,2542 1134,2540 1136,2543 1148,2568 1158,2583 1160,2583 1164,2574 1172,2546 1174,2543 1176,2546 1178,2557 1184,2603 1190,2624 1192,2622 1194,2617 1200,2586 1204,2573 1206,2571 1214,2568 1230,2545 1232,2545 1244,2554 1246,2555 1256,2548 1258,2547 1278,2557 1284,2562 1286,2562 1298,2536 1300,2540 1304,2560 1308,2574 1310,2580 1312,2580 1316,2571 1322,2547 1330,2528 1344,2507 1348,2502 1354,2498 1356,2499 1362,2505 1370,2515 1390,2547 1398,2553 1408,2562 1418,2558 1432,2555 1440,2558 1448,2563 1450,2563 1478,2526 1480,2527 1488,2535 1490,2535 1500,2522 1504,2518 1506,2518 1516,2530 1526,2540 1534,2555 1540,2572 1542,2575 1546,2576 1548,2574 1552,2565 1560,2541 1568,2525 1578,2510 1586,2506 1588,2506 1596,2515 1608,2514 1620,2518 1630,2521 1642,2520 1652,2527 1654,2527 1660,2525 1662,2522 1676,2495 1682,2488 1684,2488 1690,2500 1698,2511 1700,2513 1708,2516 1716,2512 1724,2506 1736,2502 1764,2479 1766,2480 1774,2490 1790,2519 1798,2527 1800,2528 1810,2524 1822,2510 1832,2507 1836,2508 1854,2522 1862,2527 1864,2527 1884,2517 1901,2507 1907,2507 1907,2897Z" fill="#006699"/>
<path d="M1074,2897 1074,2547 1080,2547 1082,2544 1088,2528 1094,2519 1104,2513 1106,2513 1114,2561 1118,2575 1120,2578 1122,2575 1132,2556 1134,2554 1136,2556 1148,2582 1158,2597 1160,2598 1162,2597 1164,2592 1170,2570 1174,2560 1176,2563 1184,2614 1190,2636 1192,2635 1194,2630 1200,2600 1204,2589 1206,2587 1216,2581 1230,2566 1246,2573 1256,2567 1260,2567 1284,2577 1286,2577 1288,2574 1298,2553 1300,2554 1308,2586 1310,2590 1312,2589 1316,2580 1322,2560 1330,2543 1344,2523 1354,2515 1356,2516 1366,2526 1390,2560 1408,2574 1412,2574 1424,2568 1432,2566 1448,2569 1450,2569 1476,2540 1478,2540 1480,2540 1488,2548 1490,2548 1502,2533 1504,2531 1506,2531 1526,2552 1534,2565 1540,2579 1542,2582 1544,2583 1546,2583 1548,2581 1552,2573 1562,2547 1570,2531 1580,2517 1586,2515 1588,2516 1596,2522 1608,2521 1628,2527 1640,2528 1644,2530 1652,2539 1654,2539 1662,2532 1676,2505 1682,2499 1684,2499 1686,2501 1698,2518 1700,2519 1708,2522 1714,2520 1724,2514 1738,2509 1764,2488 1766,2488 1776,2502 1790,2528 1800,2538 1804,2537 1810,2534 1822,2521 1830,2517 1832,2517 1836,2519 1858,2538 1862,2539 1901,2515 1907,2515 1907,2897Z" fill="#0033cc"/>
<path d="M1074,2897 1074,2558 1080,2558 1082,2556 1088,2547 1094,2540 1104,2536 1106,2537 1114,2573 1118,2587 1120,2590 1122,2588 1132,2569 1134,2567 1136,2569 1150,2599 1158,2611 1160,2613 1162,2614 1164,2610 1172,2581 1174,2577 1176,2581 1184,2626 1190,2649 1192,2649 1200,2614 1204,2606 1210,2599 1230,2586 1246,2591 1256,2587 1262,2586 1278,2593 1282,2594 1286,2591 1288,2588 1298,2569 1300,2569 1308,2597 1310,2600 1314,2594 1322,2574 1332,2555 1344,2539 1354,2533 1356,2533 1366,2542 1390,2572 1406,2585 1410,2587 1414,2586 1428,2578 1442,2577 1450,2575 1476,2552 1480,2554 1488,2561 1490,2561 1504,2543 1506,2544 1508,2545 1520,2555 1528,2566 1540,2586 1544,2590 1546,2589 1548,2587 1554,2577 1568,2544 1578,2529 1582,2524 1588,2525 1596,2530 1610,2529 1628,2534 1640,2535 1644,2539 1652,2550 1654,2551 1664,2538 1676,2515 1682,2510 1684,2509 1688,2511 1700,2526 1706,2528 1712,2528 1740,2516 1754,2503 1764,2496 1766,2497 1776,2510 1792,2540 1798,2546 1802,2549 1810,2544 1828,2528 1830,2527 1832,2527 1858,2550 1860,2551 1864,2549 1901,2524 1907,2524 1907,2897Z" fill="#0000ff"/>
<path d="M1074,2897 1074,2570 1080,2570 1094,2561 1104,2558 1106,2561 1118,2598 1120,2602 1122,2600 1132,2582 1134,2580 1136,2582 1150,2612 1162,2631 1164,2628 1172,2598 1174,2594 1176,2598 1182,2628 1190,2661 1192,2662 1200,2629 1202,2624 1212,2613 1228,2607 1246,2609 1262,2604 1264,2604 1280,2612 1282,2610 1290,2600 1298,2586 1300,2584 1302,2587 1308,2609 1310,2610 1320,2591 1332,2570 1344,2555 1354,2550 1356,2550 1366,2558 1380,2575 1394,2589 1412,2600 1426,2590 1442,2586 1474,2565 1476,2565 1488,2574 1490,2574 1504,2556 1506,2556 1518,2564 1534,2586 1544,2597 1546,2596 1554,2586 1568,2554 1580,2535 1582,2533 1596,2538 1610,2535 1628,2541 1640,2543 1644,2548 1652,2562 1654,2562 1664,2547 1674,2528 1678,2523 1686,2519 1688,2519 1700,2533 1714,2535 1742,2523 1754,2512 1764,2504 1766,2505 1776,2518 1790,2545 1802,2560 1804,2559 1816,2550 1830,2536 1832,2536 1858,2562 1860,2563 1888,2541 1901,2533 1907,2533 1907,2897Z" fill="#1f14ff"/>
<path d="M1074,2897 1074,2581 1080,2581 1094,2576 1104,2575 1106,2578 1118,2625 1120,2630 1122,2628 1132,2608 1134,2606 1136,2608 1148,2637 1162,2654 1164,2651 1172,2621 1174,2617 1176,2621 1184,2659 1190,2675 1192,2675 1200,2648 1202,2645 1214,2637 1228,2630 1246,2632 1262,2627 1264,2628 1280,2637 1282,2636 1290,2624 1300,2606 1302,2609 1308,2629 1310,2631 1320,2614 1332,2601 1344,2592 1354,2590 1356,2591 1364,2597 1382,2611 1396,2625 1414,2646 1416,2645 1424,2633 1428,2629 1442,2623 1474,2605 1476,2604 1488,2606 1490,2606 1504,2585 1506,2585 1518,2596 1532,2641 1534,2643 1544,2632 1556,2609 1570,2587 1584,2581 1598,2578 1610,2570 1640,2583 1652,2597 1654,2597 1664,2582 1678,2568 1680,2568 1690,2578 1702,2583 1734,2589 1738,2589 1762,2573 1776,2584 1790,2598 1800,2605 1802,2606 1804,2605 1816,2596 1830,2590 1832,2591 1846,2607 1852,2611 1854,2612 1882,2584 1890,2579 1892,2579 1901,2589 1907,2589 1907,2897Z" fill="#3d29ff"/>
<path d="M1074,2897 1074,2713 1080,2713 1082,2711 1092,2689 1098,2681 1100,2680 1108,2690 1118,2712 1120,2713 1130,2687 1134,2681 1136,2680 1158,2716 1160,2717 1172,2689 1176,2683 1178,2686 1186,2718 1190,2727 1192,2728 1204,2712 1214,2705 1216,2706 1226,2716 1244,2724 1248,2723 1260,2716 1276,2718 1278,2718 1288,2708 1298,2689 1300,2690 1308,2716 1310,2718 1318,2715 1324,2707 1326,2705 1328,2705 1344,2710 1372,2722 1394,2760 1410,2774 1420,2786 1422,2786 1432,2774 1446,2765 1448,2765 1474,2773 1476,2772 1490,2759 1502,2749 1506,2747 1514,2745 1516,2746 1528,2763 1538,2775 1550,2778 1554,2778 1568,2767 1582,2759 1598,2761 1612,2762 1626,2767 1628,2766 1642,2753 1656,2752 1678,2731 1686,2725 1688,2725 1702,2730 1734,2746 1738,2747 1754,2744 1772,2738 1786,2736 1790,2737 1804,2747 1806,2746 1818,2732 1826,2726 1828,2726 1844,2765 1846,2765 1854,2746 1862,2723 1864,2721 1874,2716 1884,2721 1886,2723 1894,2733 1901,2747 1907,2747 1907,2897Z" fill="#5c3dff"/>
<path d="M1080,2535 1082,2531 1088,2510 1092,2502 1096,2497 1106,2489 1108,2500 1114,2549 1118,2563 1120,2566 1122,2563 1132,2542 1134,2540 1136,2543 1148,2568 1158,2583 1160,2583 1164,2574 1172,2546 1174,2543 1176,2546 1178,2557 1184,2603 1190,2624 1192,2622 1194,2617 1200,2586 1204,2573 1206,2571 1214,2568 1230,2545 1232,2545 1244,2554 1246,2555 1256,2548 1258,2547 1278,2557 1284,2562 1286,2562 1298,2536 1300,2540 1304,2560 1308,2574 1310,2580 1312,2580 1316,2571 1322,2547 1330,2528 1344,2507 1348,2502 1354,2498 1356,2499 1362,2505 1370,2515 1390,2547 1398,2553 1408,2562 1418,2558 1432,2555 1440,2558 1448,2563 1450,2563 1478,2526 1480,2527 1488,2535 1490,2535 1500,2522 1504,2518 1506,2518 1516,2530 1526,2540 1534,2555 1540,2572 1542,2575 1546,2576 1548,2574 1552,2565 1560,2541 1568,2525 1578,2510 1586,2506 1588,2506 1596,2515 1608,2514 1620,2518 1630,2521 1642,2520 1652,2527 1654,2527 1660,2525 1662,2522 1676,2495 1682,2488 1684,2488 1690,2500 1698,2511 1700,2513 1708,2516 1716,2512 1724,2506 1736,2502 1764,2479 1766,2480 1774,2490 1790,2519 1798,2527 1800,2528 1810,2524 1822,2510 1832,2507 1836,2508 1854,2522 1862,2527 1864,2527 1884,2517 1901,2507" fill="none" stroke="#000" stroke-width="3.6" stroke-linejoin="round"/>
</svg>
<text x="318.0" y="51.5" font-size="49" text-anchor="start" font-weight="normal" fill="#000" xml:space="preserve" textLength="451.0" lengthAdjust="spacingAndGlyphs">14:00 —16:00 08.08</text>
<text x="1243.0" y="56.0" font-size="49" text-anchor="start" font-weight="normal" fill="#000" xml:space="preserve" textLength="471.5" lengthAdjust="spacingAndGlyphs">02:00 — 04:00 09.08</text>
<text x="1939.0" y="56.5" font-size="49" text-anchor="start" font-weight="normal" fill="#000" xml:space="preserve" textLength="474.5" lengthAdjust="spacingAndGlyphs">14:00 — 15:00  09.08</text>
<text x="251.3" y="805.5" font-size="49" text-anchor="start" font-weight="normal" fill="#000" xml:space="preserve" textLength="598.7" lengthAdjust="spacingAndGlyphs">23:00 08.08 — 01:00 09.08</text>
<text x="1229.8" y="808.0" font-size="49" text-anchor="start" font-weight="normal" fill="#000" xml:space="preserve" textLength="472.2" lengthAdjust="spacingAndGlyphs">11:00 — 13:00 09.08</text>
<text x="310.0" y="1541.5" font-size="49" text-anchor="start" font-weight="normal" fill="#000" xml:space="preserve" textLength="460.0" lengthAdjust="spacingAndGlyphs">17:00 — 19:00 08.08</text>
<text x="1248.0" y="1540.0" font-size="49" text-anchor="start" font-weight="normal" fill="#000" xml:space="preserve" textLength="460.7" lengthAdjust="spacingAndGlyphs">05:00 — 07:00 09.08</text>
<text x="329.3" y="2282.0" font-size="49" text-anchor="start" font-weight="normal" fill="#000" xml:space="preserve" textLength="474.7" lengthAdjust="spacingAndGlyphs">20:00 — 22:00  08.08</text>
<text x="1248.0" y="2280.0" font-size="49" text-anchor="start" font-weight="normal" fill="#000" xml:space="preserve" textLength="464.0" lengthAdjust="spacingAndGlyphs">08:00 — 10:00 09.08</text>
<text x="580.0" y="721.5" font-size="49.5" text-anchor="middle" font-weight="normal" fill="#000"  textLength="124.5" lengthAdjust="spacingAndGlyphs">15:00</text>
<text x="1486.5" y="723.5" font-size="49.5" text-anchor="middle" font-weight="normal" fill="#000"  textLength="124.5" lengthAdjust="spacingAndGlyphs">03:00</text>
<text x="1985.5" y="723.5" font-size="49.5" text-anchor="middle" font-weight="normal" fill="#000"  textLength="124.5" lengthAdjust="spacingAndGlyphs">14:00</text>
<text x="2395.5" y="722.5" font-size="49.5" text-anchor="middle" font-weight="normal" fill="#000"  textLength="124.5" lengthAdjust="spacingAndGlyphs">15:00</text>
<text x="586.7" y="1463.5" font-size="49.5" text-anchor="middle" font-weight="normal" fill="#000"  textLength="124.5" lengthAdjust="spacingAndGlyphs">00:00</text>
<text x="1476.0" y="1468.0" font-size="49.5" text-anchor="middle" font-weight="normal" fill="#000"  textLength="124.5" lengthAdjust="spacingAndGlyphs">12:00</text>
<text x="587.3" y="2206.7" font-size="49.5" text-anchor="middle" font-weight="normal" fill="#000"  textLength="124.5" lengthAdjust="spacingAndGlyphs">00:00</text>
<text x="1487.3" y="2210.0" font-size="49.5" text-anchor="middle" font-weight="normal" fill="#000"  textLength="124.5" lengthAdjust="spacingAndGlyphs">12:00</text>
<text x="573.5" y="2954.5" font-size="49.5" text-anchor="middle" font-weight="normal" fill="#000"  textLength="124.5" lengthAdjust="spacingAndGlyphs">21:00</text>
<text x="1469.5" y="2959.5" font-size="49.5" text-anchor="middle" font-weight="normal" fill="#000"  textLength="124.5" lengthAdjust="spacingAndGlyphs">09:00</text>
<text x="179.5" y="3395.5" font-size="46" text-anchor="middle" font-weight="normal" fill="#000"  textLength="115.0" lengthAdjust="spacingAndGlyphs">14:00</text>
<text x="970.5" y="3395.5" font-size="46" text-anchor="middle" font-weight="normal" fill="#000"  textLength="115.0" lengthAdjust="spacingAndGlyphs">23:00</text>
<text x="1769.5" y="3395.5" font-size="46" text-anchor="middle" font-weight="normal" fill="#000"  textLength="115.0" lengthAdjust="spacingAndGlyphs">08:00</text>
<text x="2416.0" y="3395.5" font-size="46" text-anchor="middle" font-weight="normal" fill="#000"  textLength="115.0" lengthAdjust="spacingAndGlyphs">15:00</text>
<rect x="170.0" y="76.0" width="820.0" height="587.0" fill="none" stroke="#000" stroke-opacity="0.5" stroke-width="1.3"/>
<line x1="146.0" y1="76.0" x2="170.0" y2="76.0" stroke="#777" stroke-width="1.3"/>
<text x="140.5" y="92.0" font-size="47.5" text-anchor="end" font-weight="normal" fill="#000" >0</text>
<line x1="146.0" y1="253.5" x2="170.0" y2="253.5" stroke="#777" stroke-width="1.3"/>
<text x="140.5" y="269.5" font-size="47.5" text-anchor="end" font-weight="normal" fill="#000" >10</text>
<line x1="146.0" y1="430.8" x2="170.0" y2="430.8" stroke="#777" stroke-width="1.3"/>
<text x="140.5" y="446.8" font-size="47.5" text-anchor="end" font-weight="normal" fill="#000" >20</text>
<line x1="146.0" y1="609.6" x2="170.0" y2="609.6" stroke="#777" stroke-width="1.3"/>
<text x="140.5" y="625.6" font-size="47.5" text-anchor="end" font-weight="normal" fill="#000" >30</text>
<line x1="170.0" y1="663.0" x2="170.0" y2="684.0" stroke="#777" stroke-width="1.3"/>
<line x1="580.0" y1="663.0" x2="580.0" y2="672.0" stroke="#777" stroke-width="1.3"/>
<rect x="1078.0" y="79.0" width="816.0" height="585.0" fill="none" stroke="#000" stroke-opacity="0.5" stroke-width="1.3"/>
<line x1="1054.0" y1="79.0" x2="1078.0" y2="79.0" stroke="#555" stroke-width="1.3"/>
<line x1="1054.0" y1="253.0" x2="1078.0" y2="253.0" stroke="#555" stroke-width="1.3"/>
<line x1="1054.0" y1="425.5" x2="1078.0" y2="425.5" stroke="#555" stroke-width="1.3"/>
<line x1="1054.0" y1="597.4" x2="1078.0" y2="597.4" stroke="#555" stroke-width="1.3"/>
<line x1="1078.0" y1="664.0" x2="1078.0" y2="685.0" stroke="#555" stroke-width="1.3"/>
<line x1="1486.0" y1="664.0" x2="1486.0" y2="680.0" stroke="#555" stroke-width="1.3"/>
<rect x="1984.0" y="76.0" width="409.0" height="586.0" fill="none" stroke="#000" stroke-opacity="0.5" stroke-width="1.3"/>
<line x1="1960.0" y1="76.0" x2="1984.0" y2="76.0" stroke="#333" stroke-width="1.3"/>
<line x1="1960.0" y1="247.8" x2="1984.0" y2="247.8" stroke="#333" stroke-width="1.3"/>
<line x1="1960.0" y1="419.7" x2="1984.0" y2="419.7" stroke="#333" stroke-width="1.3"/>
<line x1="1960.0" y1="592.6" x2="1984.0" y2="592.6" stroke="#333" stroke-width="1.3"/>
<line x1="1984.0" y1="662.0" x2="1984.0" y2="683.0" stroke="#333" stroke-width="1.3"/>
<line x1="2393.0" y1="662.0" x2="2393.0" y2="683.0" stroke="#333" stroke-width="1.3"/>
<rect x="172.0" y="816.0" width="821.0" height="587.0" fill="none" stroke="#000" stroke-opacity="0.5" stroke-width="1.3"/>
<line x1="148.0" y1="816.0" x2="172.0" y2="816.0" stroke="#444" stroke-width="1.3"/>
<text x="142.5" y="832.0" font-size="47.5" text-anchor="end" font-weight="normal" fill="#000" >0</text>
<line x1="148.0" y1="986.4" x2="172.0" y2="986.4" stroke="#444" stroke-width="1.3"/>
<text x="142.5" y="1002.4" font-size="47.5" text-anchor="end" font-weight="normal" fill="#000" >10</text>
<line x1="148.0" y1="1155.6" x2="172.0" y2="1155.6" stroke="#444" stroke-width="1.3"/>
<text x="142.5" y="1171.6" font-size="47.5" text-anchor="end" font-weight="normal" fill="#000" >20</text>
<line x1="148.0" y1="1327.5" x2="172.0" y2="1327.5" stroke="#444" stroke-width="1.3"/>
<text x="142.5" y="1343.5" font-size="47.5" text-anchor="end" font-weight="normal" fill="#000" >30</text>
<line x1="172.0" y1="1403.0" x2="172.0" y2="1424.0" stroke="#444" stroke-width="1.3"/>
<line x1="583.0" y1="1403.0" x2="583.0" y2="1419.0" stroke="#444" stroke-width="1.3"/>
<rect x="1059.0" y="819.0" width="816.0" height="585.0" fill="none" stroke="#000" stroke-opacity="0.5" stroke-width="1.3"/>
<line x1="1035.0" y1="819.0" x2="1059.0" y2="819.0" stroke="#555" stroke-width="1.3"/>
<line x1="1035.0" y1="989.0" x2="1059.0" y2="989.0" stroke="#555" stroke-width="1.3"/>
<line x1="1035.0" y1="1159.0" x2="1059.0" y2="1159.0" stroke="#555" stroke-width="1.3"/>
<line x1="1035.0" y1="1328.0" x2="1059.0" y2="1328.0" stroke="#555" stroke-width="1.3"/>
<line x1="1059.0" y1="1404.0" x2="1059.0" y2="1425.0" stroke="#555" stroke-width="1.3"/>
<line x1="1474.5" y1="1404.0" x2="1474.5" y2="1420.0" stroke="#555" stroke-width="1.3"/>
<rect x="174.0" y="1555.0" width="820.0" height="586.0" fill="none" stroke="#000" stroke-opacity="0.5" stroke-width="1.3"/>
<line x1="150.0" y1="1555.0" x2="174.0" y2="1555.0" stroke="#555" stroke-width="1.3"/>
<text x="144.5" y="1571.0" font-size="47.5" text-anchor="end" font-weight="normal" fill="#000" >0</text>
<line x1="150.0" y1="1724.4" x2="174.0" y2="1724.4" stroke="#555" stroke-width="1.3"/>
<text x="144.5" y="1740.4" font-size="47.5" text-anchor="end" font-weight="normal" fill="#000" >10</text>
<line x1="150.0" y1="1893.5" x2="174.0" y2="1893.5" stroke="#555" stroke-width="1.3"/>
<text x="144.5" y="1909.5" font-size="47.5" text-anchor="end" font-weight="normal" fill="#000" >20</text>
<line x1="150.0" y1="2064.6" x2="174.0" y2="2064.6" stroke="#555" stroke-width="1.3"/>
<text x="144.5" y="2080.6" font-size="47.5" text-anchor="end" font-weight="normal" fill="#000" >30</text>
<line x1="174.0" y1="2141.0" x2="174.0" y2="2162.0" stroke="#555" stroke-width="1.3"/>
<line x1="585.0" y1="2141.0" x2="585.0" y2="2157.0" stroke="#555" stroke-width="1.3"/>
<rect x="1068.0" y="1560.0" width="819.0" height="584.0" fill="none" stroke="#000" stroke-opacity="0.5" stroke-width="1.3"/>
<line x1="1044.0" y1="1560.0" x2="1068.0" y2="1560.0" stroke="#444" stroke-width="1.3"/>
<line x1="1044.0" y1="1745.9" x2="1068.0" y2="1745.9" stroke="#444" stroke-width="1.3"/>
<line x1="1044.0" y1="1931.0" x2="1068.0" y2="1931.0" stroke="#444" stroke-width="1.3"/>
<line x1="1044.0" y1="2116.0" x2="1068.0" y2="2116.0" stroke="#444" stroke-width="1.3"/>
<line x1="1068.0" y1="2144.0" x2="1068.0" y2="2165.0" stroke="#444" stroke-width="1.3"/>
<line x1="1484.0" y1="2144.0" x2="1484.0" y2="2160.0" stroke="#444" stroke-width="1.3"/>
<rect x="165.0" y="2291.0" width="819.0" height="585.0" fill="none" stroke="#000" stroke-opacity="0.5" stroke-width="1.3"/>
<line x1="141.0" y1="2291.0" x2="165.0" y2="2291.0" stroke="#999" stroke-width="1.3"/>
<text x="135.5" y="2307.0" font-size="47.5" text-anchor="end" font-weight="normal" fill="#000" >0</text>
<line x1="141.0" y1="2459.8" x2="165.0" y2="2459.8" stroke="#999" stroke-width="1.3"/>
<text x="135.5" y="2475.8" font-size="47.5" text-anchor="end" font-weight="normal" fill="#000" >10</text>
<line x1="141.0" y1="2626.5" x2="165.0" y2="2626.5" stroke="#999" stroke-width="1.3"/>
<text x="135.5" y="2642.5" font-size="47.5" text-anchor="end" font-weight="normal" fill="#000" >20</text>
<line x1="141.0" y1="2794.0" x2="165.0" y2="2794.0" stroke="#999" stroke-width="1.3"/>
<text x="135.5" y="2810.0" font-size="47.5" text-anchor="end" font-weight="normal" fill="#000" >30</text>
<line x1="165.0" y1="2876.0" x2="165.0" y2="2897.0" stroke="#999" stroke-width="1.3"/>
<line x1="580.5" y1="2876.0" x2="580.5" y2="2892.0" stroke="#999" stroke-width="1.3"/>
<rect x="1080.0" y="2302.0" width="821.0" height="583.0" fill="none" stroke="#000" stroke-opacity="0.5" stroke-width="1.3"/>
<line x1="1056.0" y1="2302.4" x2="1080.0" y2="2302.4" stroke="#444" stroke-width="1.3"/>
<line x1="1056.0" y1="2480.7" x2="1080.0" y2="2480.7" stroke="#444" stroke-width="1.3"/>
<line x1="1056.0" y1="2661.8" x2="1080.0" y2="2661.8" stroke="#444" stroke-width="1.3"/>
<line x1="1056.0" y1="2840.4" x2="1080.0" y2="2840.4" stroke="#444" stroke-width="1.3"/>
<line x1="1080.0" y1="2885.0" x2="1080.0" y2="2906.0" stroke="#444" stroke-width="1.3"/>
<line x1="1489.5" y1="2885.0" x2="1489.5" y2="2901.0" stroke="#444" stroke-width="1.3"/>
<text x="954.0" y="651.5" font-size="68.5" text-anchor="middle" font-weight="bold" fill="#fff"  textLength="35.5" lengthAdjust="spacingAndGlyphs">1</text>
<text x="1858.0" y="651.5" font-size="68.5" text-anchor="middle" font-weight="bold" fill="#fff"  textLength="35.5" lengthAdjust="spacingAndGlyphs">5</text>
<text x="2365.0" y="651.5" font-size="68.5" text-anchor="middle" font-weight="bold" fill="#fff"  textLength="35.5" lengthAdjust="spacingAndGlyphs">9</text>
<text x="924.0" y="1365.5" font-size="68.5" text-anchor="middle" font-weight="bold" fill="#fff"  textLength="35.5" lengthAdjust="spacingAndGlyphs">4</text>
<text x="1826.0" y="1365.5" font-size="68.5" text-anchor="middle" font-weight="bold" fill="#fff"  textLength="35.5" lengthAdjust="spacingAndGlyphs">8</text>
<text x="925.0" y="2102.5" font-size="68.5" text-anchor="middle" font-weight="bold" fill="#fff"  textLength="35.5" lengthAdjust="spacingAndGlyphs">2</text>
<text x="1825.0" y="2102.5" font-size="68.5" text-anchor="middle" font-weight="bold" fill="#fff"  textLength="35.5" lengthAdjust="spacingAndGlyphs">6</text>
<text x="924.0" y="2838.5" font-size="68.5" text-anchor="middle" font-weight="bold" fill="#fff"  textLength="35.5" lengthAdjust="spacingAndGlyphs">3</text>
<text x="1825.0" y="2837.5" font-size="68.5" text-anchor="middle" font-weight="bold" fill="#fff"  textLength="35.5" lengthAdjust="spacingAndGlyphs">7</text>
<text transform="translate(59.5 353.7) rotate(-90)" font-size="54" text-anchor="middle" textLength="236" lengthAdjust="spacingAndGlyphs">Depth, m</text>
<text transform="translate(59.5 1054.5) rotate(-90)" font-size="54" text-anchor="middle" textLength="236" lengthAdjust="spacingAndGlyphs">Depth, m</text>
<text transform="translate(59.5 1795.5) rotate(-90)" font-size="54" text-anchor="middle" textLength="236" lengthAdjust="spacingAndGlyphs">Depth, m</text>
<text transform="translate(59.0 2547.0) rotate(-90)" font-size="54" text-anchor="middle" textLength="236" lengthAdjust="spacingAndGlyphs">Depth, m</text>
<rect x="2137.5" y="2242.31" width="74.5" height="45.99" fill="#9966ff"/>
<rect x="2137.5" y="2196.62" width="74.5" height="45.99" fill="#7a52ff"/>
<rect x="2137.5" y="2150.92" width="74.5" height="45.99" fill="#5c3dff"/>
<rect x="2137.5" y="2105.23" width="74.5" height="45.99" fill="#3d29ff"/>
<rect x="2137.5" y="2059.54" width="74.5" height="45.99" fill="#1f14ff"/>
<rect x="2137.5" y="2013.85" width="74.5" height="45.99" fill="#0000ff"/>
<rect x="2137.5" y="1968.15" width="74.5" height="45.99" fill="#0033cc"/>
<rect x="2137.5" y="1922.46" width="74.5" height="45.99" fill="#006699"/>
<rect x="2137.5" y="1876.77" width="74.5" height="45.99" fill="#009966"/>
<rect x="2137.5" y="1831.08" width="74.5" height="45.99" fill="#00cc33"/>
<rect x="2137.5" y="1785.38" width="74.5" height="45.99" fill="#00ff00"/>
<rect x="2137.5" y="1739.69" width="74.5" height="45.99" fill="#33ff00"/>
<rect x="2137.5" y="1694.00" width="74.5" height="45.99" fill="#66ff00"/>
<rect x="2137.5" y="1648.31" width="74.5" height="45.99" fill="#99ff00"/>
<rect x="2137.5" y="1602.62" width="74.5" height="45.99" fill="#ccff00"/>
<rect x="2137.5" y="1556.92" width="74.5" height="45.99" fill="#ffff00"/>
<rect x="2137.5" y="1511.23" width="74.5" height="45.99" fill="#ffdf00"/>
<rect x="2137.5" y="1465.54" width="74.5" height="45.99" fill="#ffc000"/>
<rect x="2137.5" y="1419.85" width="74.5" height="45.99" fill="#ffa000"/>
<rect x="2137.5" y="1374.15" width="74.5" height="45.99" fill="#ff8000"/>
<rect x="2137.5" y="1328.46" width="74.5" height="45.99" fill="#ff6b00"/>
<rect x="2137.5" y="1282.77" width="74.5" height="45.99" fill="#ff5500"/>
<rect x="2137.5" y="1237.08" width="74.5" height="45.99" fill="#ff4000"/>
<rect x="2137.5" y="1191.38" width="74.5" height="45.99" fill="#ff2b00"/>
<rect x="2137.5" y="1145.69" width="74.5" height="45.99" fill="#ff1500"/>
<rect x="2137.5" y="1100.00" width="74.5" height="45.99" fill="#ff0000"/>
<line x1="2137.5" y1="2242.31" x2="2212.0" y2="2242.31" stroke="#000" stroke-opacity="0.6" stroke-width="1"/>
<line x1="2137.5" y1="2196.62" x2="2212.0" y2="2196.62" stroke="#000" stroke-opacity="0.6" stroke-width="1"/>
<line x1="2137.5" y1="2150.92" x2="2212.0" y2="2150.92" stroke="#000" stroke-opacity="0.6" stroke-width="1"/>
<line x1="2137.5" y1="2105.23" x2="2212.0" y2="2105.23" stroke="#000" stroke-opacity="0.6" stroke-width="1"/>
<line x1="2137.5" y1="2059.54" x2="2212.0" y2="2059.54" stroke="#000" stroke-opacity="0.6" stroke-width="1"/>
<line x1="2137.5" y1="1922.46" x2="2212.0" y2="1922.46" stroke="#000" stroke-opacity="0.6" stroke-width="1"/>
<line x1="2137.5" y1="1876.77" x2="2212.0" y2="1876.77" stroke="#000" stroke-opacity="0.6" stroke-width="1"/>
<line x1="2137.5" y1="1831.08" x2="2212.0" y2="1831.08" stroke="#000" stroke-opacity="0.6" stroke-width="1"/>
<line x1="2137.5" y1="1785.38" x2="2212.0" y2="1785.38" stroke="#000" stroke-opacity="0.6" stroke-width="1"/>
<line x1="2137.5" y1="1739.69" x2="2212.0" y2="1739.69" stroke="#000" stroke-opacity="0.6" stroke-width="1"/>
<line x1="2137.5" y1="1694.00" x2="2212.0" y2="1694.00" stroke="#000" stroke-opacity="0.6" stroke-width="1"/>
<line x1="2137.5" y1="1648.31" x2="2212.0" y2="1648.31" stroke="#000" stroke-opacity="0.6" stroke-width="1"/>
<line x1="2137.5" y1="1602.62" x2="2212.0" y2="1602.62" stroke="#000" stroke-opacity="0.6" stroke-width="1"/>
<line x1="2137.5" y1="1556.92" x2="2212.0" y2="1556.92" stroke="#000" stroke-opacity="0.6" stroke-width="1"/>
<line x1="2137.5" y1="1511.23" x2="2212.0" y2="1511.23" stroke="#000" stroke-opacity="0.6" stroke-width="1"/>
<line x1="2137.5" y1="1465.54" x2="2212.0" y2="1465.54" stroke="#000" stroke-opacity="0.6" stroke-width="1"/>
<line x1="2137.5" y1="1419.85" x2="2212.0" y2="1419.85" stroke="#000" stroke-opacity="0.6" stroke-width="1"/>
<line x1="2137.5" y1="1374.15" x2="2212.0" y2="1374.15" stroke="#000" stroke-opacity="0.6" stroke-width="1"/>
<line x1="2137.5" y1="1328.46" x2="2212.0" y2="1328.46" stroke="#000" stroke-opacity="0.6" stroke-width="1"/>
<line x1="2137.5" y1="1282.77" x2="2212.0" y2="1282.77" stroke="#000" stroke-opacity="0.6" stroke-width="1"/>
<line x1="2137.5" y1="1237.08" x2="2212.0" y2="1237.08" stroke="#000" stroke-opacity="0.6" stroke-width="1"/>
<line x1="2137.5" y1="1191.38" x2="2212.0" y2="1191.38" stroke="#000" stroke-opacity="0.6" stroke-width="1"/>
<line x1="2137.5" y1="1145.69" x2="2212.0" y2="1145.69" stroke="#000" stroke-opacity="0.6" stroke-width="1"/>
<text x="2229.0" y="2309.0" font-size="58.5" text-anchor="start" font-weight="normal" fill="#000"  textLength="29.6" lengthAdjust="spacingAndGlyphs">4</text>
<text x="2229.0" y="2126.2" font-size="58.5" text-anchor="start" font-weight="normal" fill="#000"  textLength="29.6" lengthAdjust="spacingAndGlyphs">6</text>
<text x="2229.0" y="1943.5" font-size="58.5" text-anchor="start" font-weight="normal" fill="#000"  textLength="29.6" lengthAdjust="spacingAndGlyphs">8</text>
<text x="2229.0" y="1760.7" font-size="58.5" text-anchor="start" font-weight="normal" fill="#000"  textLength="59.2" lengthAdjust="spacingAndGlyphs">10</text>
<text x="2229.0" y="1577.9" font-size="58.5" text-anchor="start" font-weight="normal" fill="#000"  textLength="59.2" lengthAdjust="spacingAndGlyphs">12</text>
<text x="2229.0" y="1395.2" font-size="58.5" text-anchor="start" font-weight="normal" fill="#000"  textLength="59.2" lengthAdjust="spacingAndGlyphs">14</text>
<text x="2229.0" y="1212.4" font-size="58.5" text-anchor="start" font-weight="normal" fill="#000"  textLength="59.2" lengthAdjust="spacingAndGlyphs">16</text>
<text x="2111" y="1048" font-size="63.5" textLength="129" lengthAdjust="spacingAndGlyphs"><tspan font-style="italic">T</tspan>, °C</text>
<line x1="173.5" y1="2998.5" x2="173.5" y2="3315.5" stroke="#444" stroke-width="1.4"/>
<line x1="149.0" y1="2998.5" x2="173.5" y2="2998.5" stroke="#444" stroke-width="1.4"/>
<line x1="149.0" y1="3315.5" x2="2398.0" y2="3315.5" stroke="#444" stroke-width="1.6"/>
<line x1="175.5" y1="3315.5" x2="175.5" y2="3339.5" stroke="#444" stroke-width="1.4"/>
<line x1="334.0" y1="3315.5" x2="334.0" y2="3339.5" stroke="#bbb" stroke-width="1.4"/>
<line x1="492.0" y1="3315.5" x2="492.0" y2="3339.5" stroke="#444" stroke-width="1.4"/>
<line x1="651.7" y1="3315.5" x2="651.7" y2="3339.5" stroke="#bbb" stroke-width="1.4"/>
<line x1="808.5" y1="3315.5" x2="808.5" y2="3339.5" stroke="#444" stroke-width="1.4"/>
<line x1="970.0" y1="3315.5" x2="970.0" y2="3339.5" stroke="#444" stroke-width="1.4"/>
<line x1="1127.0" y1="3315.5" x2="1127.0" y2="3339.5" stroke="#bbb" stroke-width="1.4"/>
<line x1="1285.8" y1="3315.5" x2="1285.8" y2="3339.5" stroke="#444" stroke-width="1.4"/>
<line x1="1446.6" y1="3315.5" x2="1446.6" y2="3339.5" stroke="#bbb" stroke-width="1.4"/>
<line x1="1603.7" y1="3315.5" x2="1603.7" y2="3339.5" stroke="#444" stroke-width="1.4"/>
<line x1="1764.4" y1="3315.5" x2="1764.4" y2="3339.5" stroke="#bbb" stroke-width="1.4"/>
<line x1="1921.5" y1="3315.5" x2="1921.5" y2="3339.5" stroke="#444" stroke-width="1.4"/>
<line x1="2080.7" y1="3315.5" x2="2080.7" y2="3339.5" stroke="#444" stroke-width="1.4"/>
<line x1="2238.9" y1="3315.5" x2="2238.9" y2="3339.5" stroke="#bbb" stroke-width="1.4"/>
<line x1="2398.0" y1="3315.5" x2="2398.0" y2="3339.5" stroke="#444" stroke-width="1.4"/>
<text x="142.0" y="3017.5" font-size="44.5" text-anchor="end" font-weight="normal" fill="#000" >1.5</text>
<text x="146.0" y="3331.5" font-size="44.5" text-anchor="end" font-weight="normal" fill="#000" >0</text>
<text transform="translate(66 3177) rotate(-90)" font-size="55" text-anchor="middle" textLength="326" lengthAdjust="spacingAndGlyphs">Tidal level, m</text>
<text x="1158" y="3407" font-size="55" textLength="338" lengthAdjust="spacingAndGlyphs">Time, HH:MM</text>
<line x1="177.7" y1="3037.3" x2="355.5" y2="3037.3" stroke="#888" stroke-width="1.3"/>
<line x1="177.7" y1="3304.0" x2="355.5" y2="3304.0" stroke="#888" stroke-width="1.3"/>
<line x1="177.7" y1="3037.3" x2="177.7" y2="3304.0" stroke="#888" stroke-width="1.3"/>
<line x1="355.5" y1="3037.3" x2="355.5" y2="3304.0" stroke="#888" stroke-width="1.3"/>
<line x1="438.5" y1="3304.0" x2="614.6" y2="3304.0" stroke="#666" stroke-width="1.3"/>
<line x1="438.5" y1="3040.0" x2="438.5" y2="3304.0" stroke="#666" stroke-width="1.3"/>
<line x1="614.6" y1="3040.0" x2="614.6" y2="3304.0" stroke="#666" stroke-width="1.3"/>
<line x1="699.6" y1="3041.4" x2="877.3" y2="3041.4" stroke="#aaa" stroke-width="1.3"/>
<line x1="699.6" y1="3307.8" x2="877.3" y2="3307.8" stroke="#aaa" stroke-width="1.3"/>
<line x1="699.6" y1="3041.4" x2="699.6" y2="3307.8" stroke="#aaa" stroke-width="1.3"/>
<line x1="877.3" y1="3041.4" x2="877.3" y2="3307.8" stroke="#aaa" stroke-width="1.3"/>
<line x1="971.6" y1="3042.4" x2="1147.8" y2="3042.4" stroke="#777" stroke-width="1.3"/>
<line x1="971.6" y1="3304.0" x2="1147.8" y2="3304.0" stroke="#777" stroke-width="1.3"/>
<line x1="971.6" y1="3042.4" x2="971.6" y2="3304.0" stroke="#777" stroke-width="1.3"/>
<line x1="1147.8" y1="3042.4" x2="1147.8" y2="3304.0" stroke="#777" stroke-width="1.3"/>
<line x1="1235.3" y1="3042.4" x2="1415.7" y2="3042.4" stroke="#888" stroke-width="1.3"/>
<line x1="1235.3" y1="3306.0" x2="1415.7" y2="3306.0" stroke="#888" stroke-width="1.3"/>
<line x1="1235.3" y1="3042.4" x2="1235.3" y2="3306.0" stroke="#888" stroke-width="1.3"/>
<line x1="1415.7" y1="3042.4" x2="1415.7" y2="3306.0" stroke="#888" stroke-width="1.3"/>
<line x1="1501.7" y1="3048.6" x2="1682.5" y2="3048.6" stroke="#aaa" stroke-width="1.3"/>
<line x1="1501.7" y1="3305.0" x2="1682.5" y2="3305.0" stroke="#aaa" stroke-width="1.3"/>
<line x1="1501.7" y1="3048.6" x2="1501.7" y2="3305.0" stroke="#aaa" stroke-width="1.3"/>
<line x1="1682.5" y1="3048.6" x2="1682.5" y2="3305.0" stroke="#aaa" stroke-width="1.3"/>
<line x1="1756.6" y1="3043.5" x2="1935.0" y2="3043.5" stroke="#777" stroke-width="1.3"/>
<line x1="1756.6" y1="3302.6" x2="1935.0" y2="3302.6" stroke="#777" stroke-width="1.3"/>
<line x1="1756.6" y1="3043.5" x2="1756.6" y2="3302.6" stroke="#777" stroke-width="1.3"/>
<line x1="1935.0" y1="3043.5" x2="1935.0" y2="3302.6" stroke="#777" stroke-width="1.3"/>
<line x1="2030.2" y1="3041.4" x2="2208.0" y2="3041.4" stroke="#bbb" stroke-width="1.3"/>
<line x1="2030.2" y1="3309.0" x2="2208.0" y2="3309.0" stroke="#bbb" stroke-width="1.3"/>
<line x1="2030.2" y1="3041.4" x2="2030.2" y2="3309.0" stroke="#bbb" stroke-width="1.3"/>
<line x1="2208.0" y1="3041.4" x2="2208.0" y2="3309.0" stroke="#bbb" stroke-width="1.3"/>
<line x1="2296.6" y1="3046.0" x2="2393.0" y2="3046.0" stroke="#999" stroke-width="1.3"/>
<line x1="2296.6" y1="3046.0" x2="2296.6" y2="3306.0" stroke="#999" stroke-width="1.3"/>
<line x1="2393.0" y1="3046.0" x2="2393.0" y2="3306.0" stroke="#999" stroke-width="1.3"/>
<text x="268.0" y="3207.5" font-size="48.5" text-anchor="middle" font-weight="normal" fill="#000" >1</text>
<text x="529.5" y="3144.5" font-size="48.5" text-anchor="middle" font-weight="normal" fill="#000" >2</text>
<text x="793.0" y="3142.5" font-size="48.5" text-anchor="middle" font-weight="normal" fill="#000" >3</text>
<text x="1051.0" y="3206.5" font-size="48.5" text-anchor="middle" font-weight="normal" fill="#000" >4</text>
<text x="1329.0" y="3206.5" font-size="48.5" text-anchor="middle" font-weight="normal" fill="#000" >5</text>
<text x="1598.6" y="3142.5" font-size="48.5" text-anchor="middle" font-weight="normal" fill="#000" >6</text>
<text x="1841.7" y="3142.5" font-size="48.5" text-anchor="middle" font-weight="normal" fill="#000" >7</text>
<text x="2131.7" y="3206.8" font-size="48.5" text-anchor="middle" font-weight="normal" fill="#000" >8</text>
<text x="2346.6" y="3206.8" font-size="48.5" text-anchor="middle" font-weight="normal" fill="#000" >9</text>
<circle cx="177.7" cy="3073.3" r="14.8"/>
<circle cx="221.8" cy="3094.0" r="14.8"/>
<circle cx="265.9" cy="3115.6" r="14.8"/>
<circle cx="309.9" cy="3135.2" r="14.8"/>
<circle cx="354.0" cy="3154.2" r="14.8"/>
<circle cx="398.1" cy="3171.7" r="14.8"/>
<circle cx="442.2" cy="3189.3" r="14.8"/>
<circle cx="486.2" cy="3203.7" r="14.8"/>
<circle cx="530.3" cy="3218.6" r="14.8"/>
<circle cx="574.4" cy="3227.9" r="14.8"/>
<circle cx="618.5" cy="3236.1" r="14.8"/>
<circle cx="662.5" cy="3235.1" r="14.8"/>
<circle cx="706.6" cy="3225.3" r="14.8"/>
<circle cx="750.7" cy="3208.8" r="14.8"/>
<circle cx="794.8" cy="3185.1" r="14.8"/>
<circle cx="838.8" cy="3155.8" r="14.8"/>
<circle cx="882.9" cy="3127.4" r="14.8"/>
<circle cx="927.0" cy="3101.7" r="14.8"/>
<circle cx="971.1" cy="3083.6" r="14.8"/>
<circle cx="1015.1" cy="3067.2" r="14.8"/>
<circle cx="1059.2" cy="3052.7" r="14.8"/>
<circle cx="1103.3" cy="3045.5" r="14.8"/>
<circle cx="1147.4" cy="3044.0" r="14.8"/>
<circle cx="1191.4" cy="3052.7" r="14.8"/>
<circle cx="1235.5" cy="3069.7" r="14.8"/>
<circle cx="1279.6" cy="3090.3" r="14.8"/>
<circle cx="1323.7" cy="3113.0" r="14.8"/>
<circle cx="1367.8" cy="3131.6" r="14.8"/>
<circle cx="1411.8" cy="3154.7" r="14.8"/>
<circle cx="1455.9" cy="3174.8" r="14.8"/>
<circle cx="1500.0" cy="3194.4" r="14.8"/>
<circle cx="1544.1" cy="3209.4" r="14.8"/>
<circle cx="1588.1" cy="3223.8" r="14.8"/>
<circle cx="1632.2" cy="3233.1" r="14.8"/>
<circle cx="1676.3" cy="3242.3" r="14.8"/>
<circle cx="1720.4" cy="3243.9" r="14.8"/>
<circle cx="1764.4" cy="3237.2" r="14.8"/>
<circle cx="1808.5" cy="3225.3" r="14.8"/>
<circle cx="1852.6" cy="3201.1" r="14.8"/>
<circle cx="1896.7" cy="3169.7" r="14.8"/>
<circle cx="1940.7" cy="3133.6" r="14.8"/>
<circle cx="1984.8" cy="3100.1" r="14.8"/>
<circle cx="2028.9" cy="3075.4" r="14.8"/>
<circle cx="2073.0" cy="3055.8" r="14.8"/>
<circle cx="2117.0" cy="3037.3" r="14.8"/>
<circle cx="2161.1" cy="3025.9" r="14.8"/>
<circle cx="2205.2" cy="3019.2" r="14.8"/>
<circle cx="2249.3" cy="3021.8" r="14.8"/>
<circle cx="2293.3" cy="3033.2" r="14.8"/>
<circle cx="2337.4" cy="3051.2" r="14.8"/>
<circle cx="2381.5" cy="3073.9" r="14.8"/>
</svg></body></html>
